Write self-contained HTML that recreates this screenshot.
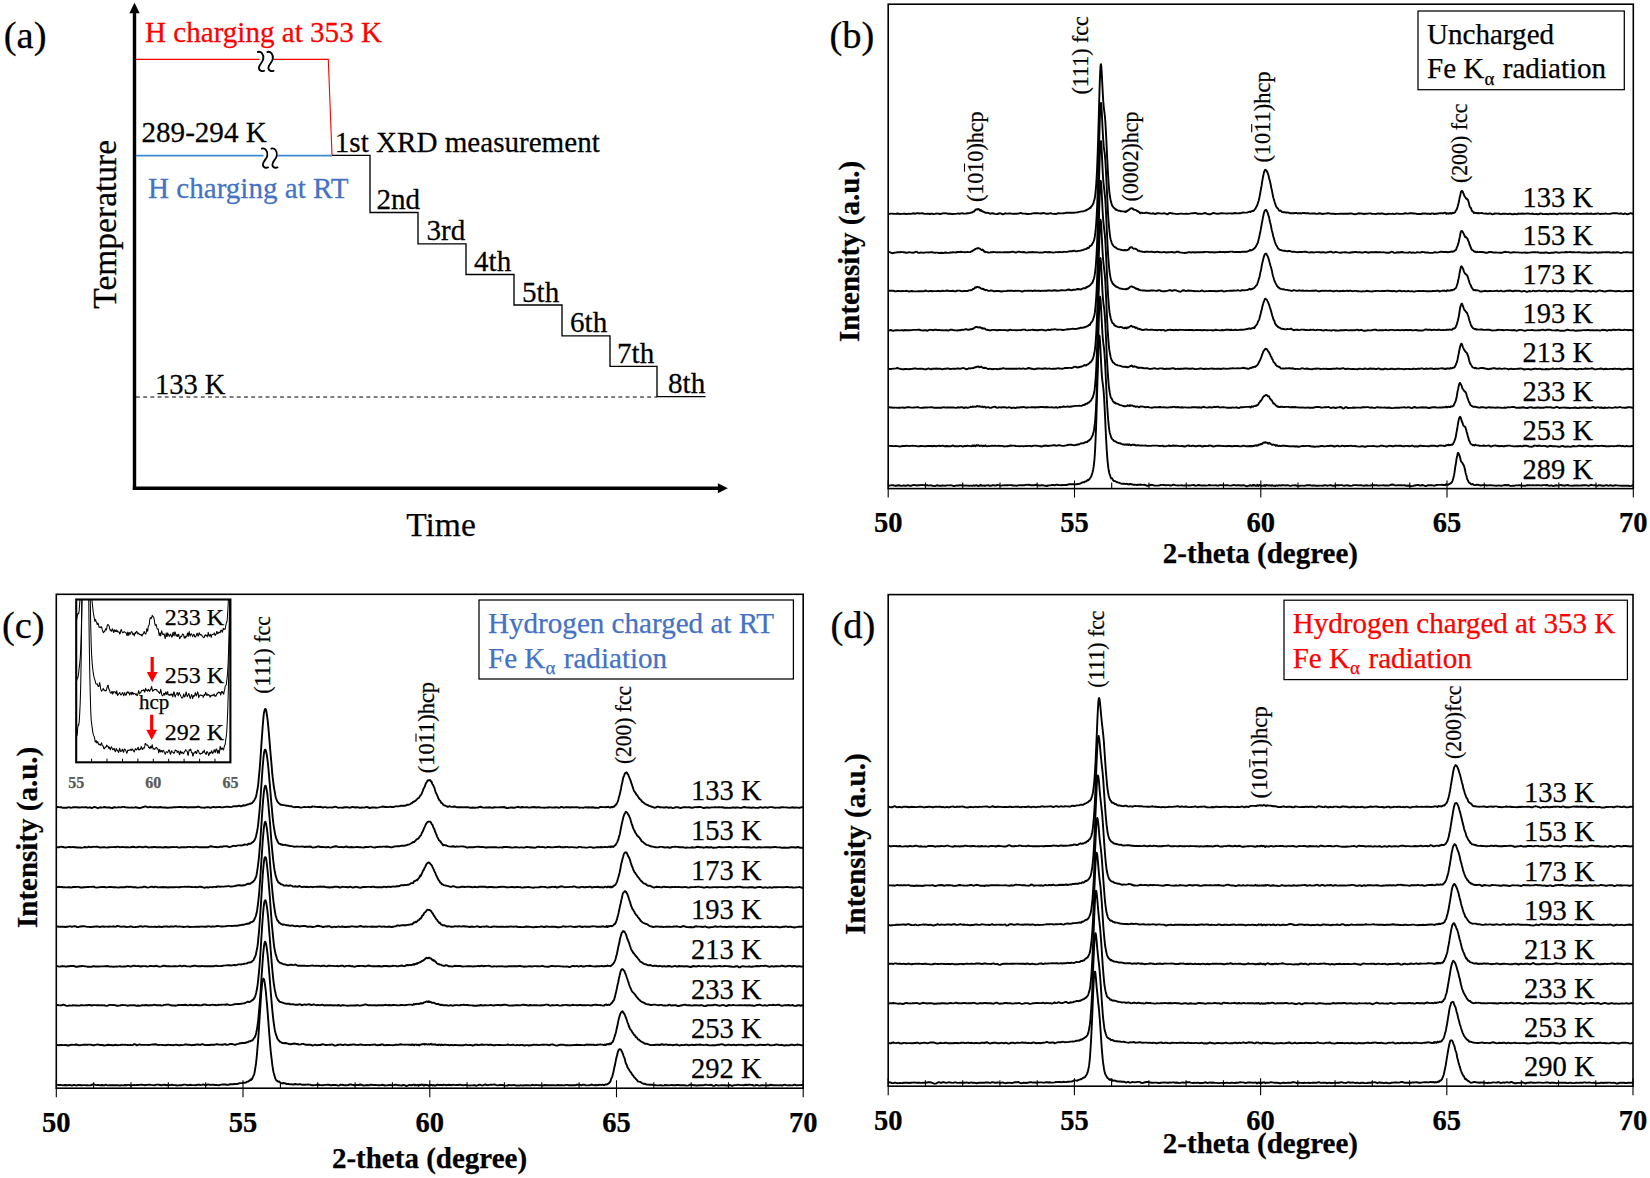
<!DOCTYPE html>
<html lang="en"><head><meta charset="utf-8"><title>XRD patterns of hydrogen charged steel</title>
<style>html,body{margin:0;padding:0;background:#fff}svg{display:block}text{font-family:"Liberation Serif",serif;stroke-width:.25px}</style></head><body>
<svg width="1650" height="1178" viewBox="0 0 1650 1178">
<rect width="1650" height="1178" fill="#fff"/>
<g id="panel-a">
<text x="3.8" y="47.5" font-size="38.5" stroke="#000">(a)</text>
<path d="M134.5 489.9V12" stroke="#000" stroke-width="3.4" fill="none"/>
<path d="M134.5 2.8l5.2 10.4h-10.4z" fill="#000"/>
<path d="M132.8 488.2H719" stroke="#000" stroke-width="3.4" fill="none"/>
<path d="M727.9 488.2l-10 5v-10z" fill="#000"/>
<path d="M136 397H657" stroke="#000" stroke-width="1.2" stroke-dasharray="3.9 3.3" fill="none"/>
<path d="M136 59.4H328.3L332 155.3" stroke="#ff0000" stroke-width="1.1" fill="none"/>
<path d="M136 155.6H332" stroke="#3d8ad2" stroke-width="1.7" fill="none"/>
<path d="M332 155.3H370V212.5H418V243.8H466V274.5H514V305H562V335.8H610V366.3H657V396.6H705.5" stroke="#000" stroke-width="1.35" fill="none"/>
<rect x="259.5" y="56.6" width="13.9" height="8" fill="#fff"/>
<path transform="translate(260.95 61.6)" d="M-3.1 -9.6C0 -10.6 3.2 -7.2 2.3 -2.4C1.6 1.2 -2.4 3.4 -2.1 6.6C-1.9 8.9 0.6 10.1 3.1 9.2" fill="none" stroke="#000" stroke-width="1.85" stroke-linecap="round"/>
<path transform="translate(270.45 61.6)" d="M-3.1 -9.6C0 -10.6 3.2 -7.2 2.3 -2.4C1.6 1.2 -2.4 3.4 -2.1 6.6C-1.9 8.9 0.6 10.1 3.1 9.2" fill="none" stroke="#000" stroke-width="1.85" stroke-linecap="round"/>
<rect x="263.5" y="153.2" width="13.9" height="8" fill="#fff"/>
<path transform="translate(264.95 158.2)" d="M-3.1 -9.6C0 -10.6 3.2 -7.2 2.3 -2.4C1.6 1.2 -2.4 3.4 -2.1 6.6C-1.9 8.9 0.6 10.1 3.1 9.2" fill="none" stroke="#000" stroke-width="1.85" stroke-linecap="round"/>
<path transform="translate(274.45 158.2)" d="M-3.1 -9.6C0 -10.6 3.2 -7.2 2.3 -2.4C1.6 1.2 -2.4 3.4 -2.1 6.6C-1.9 8.9 0.6 10.1 3.1 9.2" fill="none" stroke="#000" stroke-width="1.85" stroke-linecap="round"/>
<text transform="translate(145 41.9) scale(1 1.045)" font-size="29.1" fill="#ff0000" stroke="#ff0000">H charging at 353 K</text>
<text transform="translate(141.5 141.8) scale(1 1.045)" font-size="29.1" stroke="#000">289-294 K</text>
<text transform="translate(334.8 151.7) scale(1 1.045)" font-size="29.1" stroke="#000">1st XRD measurement</text>
<text transform="translate(148 197.6) scale(1 1.045)" font-size="29.1" fill="#4472c4" stroke="#4472c4">H charging at RT</text>
<text transform="translate(376.5 208.8) scale(1 1.045)" font-size="29.1" stroke="#000">2nd</text>
<text transform="translate(426.5 239.8) scale(1 1.045)" font-size="29.1" stroke="#000">3rd</text>
<text transform="translate(474 271.1) scale(1 1.045)" font-size="29.1" stroke="#000">4th</text>
<text transform="translate(522 301.5) scale(1 1.045)" font-size="29.1" stroke="#000">5th</text>
<text transform="translate(570 332.3) scale(1 1.045)" font-size="29.1" stroke="#000">6th</text>
<text transform="translate(617 362.8) scale(1 1.045)" font-size="29.1" stroke="#000">7th</text>
<text transform="translate(668 393.3) scale(1 1.045)" font-size="29.1" stroke="#000">8th</text>
<text transform="translate(155 393.5) scale(1 1.045)" font-size="28.5" stroke="#000">133 K</text>
<text x="441" y="535.6" font-size="33.5" stroke="#000" text-anchor="middle">Time</text>
<text transform="translate(115.6 224.3) rotate(-90)" font-size="33.5" stroke="#000" text-anchor="middle">Temperature</text>
</g>
<g id="panel-b">
<text x="829.5" y="47.5" font-size="38.5" stroke="#000">(b)</text>
<clipPath id="cb"><rect x="888.2" y="4.2" width="745.0999999999999" height="486.40000000000003"/></clipPath>
<g fill="none" stroke="#000" stroke-width="1.9" stroke-linejoin="round" clip-path="url(#cb)">
<path d="M888.2 214.3l1.3 -0.4l1.3 -0.3l1.3 0l1.3 0.2l1.3 0.1l1.3 0l1.3 -0.4l1.3 0.2l1.3 0.4l1.3 -0.2l1.3 0l1.3 -0.2l1.3 0.1l1.3 0.2l1.3 -0.1l1.3 -0.2l1.3 0.2l1.3 -0.2l1.3 -0.4l1.3 0.2l1.3 0.2l1.3 -0.5l1.3 0l1.3 0.3l1.3 -0.1l1.3 -0.2l1.3 0.3l1.3 0.4l1.3 0l1.3 -0.3l1.3 0.1l1.3 0.3l1.3 -0.2l1.3 0l1.3 0.3l1.3 -0.2l1.3 -0.4l1.3 0.1l1.3 0.2l1.3 0.2l1.3 -0.3l1.3 -0.4l1.3 0.1l1.3 -0.2l1.3 0.2l1.3 0.4l1.3 -0.1l1.3 0.1l1.3 0.3l1.3 -0.1l1.3 -0.1l1.3 0l1.3 -0.3l1.3 -0.1l1.3 0.4l1.3 -0.5l1.3 -0.1l1.3 0.3l1.3 0l1.3 -0.1l1.3 -0.2l1.3 0l1.3 -0.4l0.4 -0.1l0.4 0l0.4 -0.1l0.4 -0.3l0.4 -0.1l0.4 0l0.4 -0.5l0.4 -0.2l0.4 0l0.4 -0.1l0.4 -0.9l0.4 -0.4l0.4 0.1l0.4 -0.5l0.4 -0.5l0.4 0.1l0.4 -0.1l0.4 -0.2l0.4 0.5l0.4 -0.4l0.4 -0.2l0.4 0.2l0.4 0.2l0.4 0.7l0.4 0.6l0.4 -0.5l0.4 -0.3l0.4 0.7l0.4 0.6l0.4 0.2l0.4 -0.2l0.4 0.2l0.4 0.4l0.4 0.1l0.4 0.1l0.4 0.3l0.4 0.3l0.4 0.1l0.4 0l1.3 0.1l1.3 0.1l1.3 0.6l1.3 0.2l1.3 -0.5l1.3 0.3l1.3 0.4l1.3 0.2l1.3 -0.1l1.3 -0.5l1.3 -0.3l1.3 0.4l1.3 0.8l1.3 -0.4l1.3 -0.7l1.3 0.3l1.3 0l1.3 -0.2l1.3 0.1l1.3 0.1l1.3 0.3l1.3 -0.1l1.3 0l1.3 -0.1l1.3 -0.1l1.3 -0.3l1.3 -0.4l1.3 0.6l1.3 0.1l1.3 0l1.3 0.2l1.3 0.2l1.3 0l1.3 -0.1l1.3 -0.2l1.3 -0.3l1.3 -0.1l1.3 0l1.3 -0.1l1.3 0l1.3 0.2l1.3 0.1l1.3 0l1.3 -0.5l1.3 0.1l1.3 0.4l1.3 0.2l1.3 0.1l1.3 -0.4l1.3 -0.3l1.3 0.5l1.3 0.3l1.3 -0.1l1.3 0.3l1.3 -0.6l1.3 -0.3l1.3 0.2l1.3 0l1.3 0l1.3 -0.2l1.3 -0.1l1.3 -0.4l1.3 -0.1l1.3 0.1l1.3 0l1.3 0l1.3 0l1.3 0.1l1.3 -0.2l1.3 -0.2l1.3 -0.2l1.3 -0.3l1.3 -0.3l1.3 -0.2l1.3 -0.2l1.3 -0.3l1.3 -0.4l0.4 -0.4l0.4 -0.1l0.4 -0.1l0.4 -0.5l0.4 -0.1l0.4 -0.1l0.4 -0.2l0.4 -0.2l0.4 -0.6l0.4 -0.4l0.4 0.2l0.4 -0.2l0.4 -0.9l0.4 -0.5l0.4 -0.6l0.4 -0.2l0.4 -0.7l0.4 -1l0.4 -0.6l0.4 -1.5l0.4 -1.5l0.4 -1.3l0.4 -2.3l0.4 -3.1l0.4 -3.9l0.4 -5l0.4 -6.5l0.4 -7.9l0.4 -9.4l0.4 -11.4l0.4 -12.7l0.4 -13.9l0.4 -15l0.4 -14.3l0.4 -12.4l0.4 -9.9l0.4 -6.2l0.4 -0.9l0.4 3.5l0.4 6.4l0.4 8.1l0.4 7.7l0.4 7.2l0.4 6.1l0.4 4.2l0.4 3.3l0.4 2.9l0.4 3.8l0.4 5.3l0.4 7l0.4 7.5l0.4 8.4l0.4 8.6l0.4 7.8l0.4 7.8l0.4 7.3l0.4 5.9l0.4 5l0.4 4.3l0.4 3.2l0.4 2.3l0.4 2.2l0.4 1.9l0.4 1.3l0.4 1.3l0.4 1.3l0.4 0.4l0.4 0.4l0.4 0.8l0.4 0.4l0.4 0.4l0.4 0.2l0.4 0.2l0.4 0.8l0.4 0.3l0.4 -0.3l0.4 0.2l0.4 0.6l1.3 0.5l1.3 0l1.3 0.6l1.3 0.1l1.3 0l1.3 0.4l0.4 -0.4l0.4 0.2l0.4 0.3l0.4 -0.6l0.4 0l0.4 -0.1l0.4 -0.7l0.4 -0.3l0.4 0.1l0.4 -0.2l0.4 -0.4l0.4 -0.5l0.4 -0.3l0.4 -0.4l0.4 -0.1l0.4 0l0.4 -0.1l0.4 0.2l0.4 0l0.4 0l0.4 0.8l0.4 0.4l0.4 -0.1l0.4 0.1l0.4 0.1l0.4 0.1l0.4 0.1l0.4 0.2l0.4 0.1l0.4 0.4l0.4 0.5l0.4 -0.3l0.4 0.3l0.4 0.5l0.4 0.3l0.4 0l0.4 0.2l0.4 1.1l0.4 -0.2l1.3 -0.4l1.3 0.3l1.3 0.1l1.3 -0.3l1.3 -0.2l1.3 0.5l1.3 0.2l1.3 0.3l1.3 -0.1l1.3 -0.3l1.3 0.8l1.3 -0.2l1.3 -0.7l1.3 0.1l1.3 0.2l1.3 0.2l1.3 0l1.3 -0.3l1.3 0.1l1.3 0.6l1.3 0.3l1.3 -1.1l1.3 -0.3l1.3 0.4l1.3 0.2l1.3 0.1l1.3 0.3l1.3 0.2l1.3 -0.2l1.3 -0.1l1.3 -0.2l1.3 0l1.3 0.3l1.3 0l1.3 -0.3l1.3 0.2l1.3 0.1l1.3 -0.3l1.3 -0.2l1.3 -0.1l1.3 0l1.3 -0.4l1.3 0.3l1.3 0.7l1.3 -0.3l1.3 0.1l1.3 0.2l1.3 -0.2l1.3 -0.5l1.3 -0.2l1.3 0.6l1.3 0.4l1.3 0.2l1.3 0l1.3 -0.6l1.3 -0.7l1.3 0.3l1.3 0.4l1.3 0.1l1.3 0l1.3 -0.2l1.3 -0.3l1.3 0.1l1.3 0.1l1.3 0l1.3 0.2l1.3 -0.1l1.3 -0.1l1.3 0l1.3 0.1l1.3 0l1.3 -0.3l1.3 -0.2l1.3 0.4l1.3 0l1.3 -0.2l1.3 0.1l1.3 -0.4l1.3 -0.4l1.3 0.1l1.3 0l1.3 0l1.3 -0.5l1.3 -0.5l0.4 0.1l0.4 0.4l0.4 -0.6l0.4 -0.3l0.4 0.2l0.4 -0.2l0.4 -0.1l0.4 -0.3l0.4 0.2l0.4 -0.2l0.4 -0.6l0.4 -0.3l0.4 -0.7l0.4 -0.4l0.4 -0.5l0.4 -0.9l0.4 -0.7l0.4 -0.7l0.4 -0.8l0.4 -1.1l0.4 -1.5l0.4 -1.1l0.4 -1.2l0.4 -1.8l0.4 -1.9l0.4 -2.2l0.4 -2.3l0.4 -2.3l0.4 -2l0.4 -2.3l0.4 -2.8l0.4 -2.4l0.4 -2.3l0.4 -2l0.4 -1.9l0.4 -1.9l0.4 -1l0.4 -0.7l0.4 -0.9l0.4 0l0.4 0.9l0.4 0l0.4 0.6l0.4 1l0.4 0.6l0.4 1.2l0.4 1.1l0.4 1.8l0.4 1.9l0.4 1.2l0.4 1.6l0.4 1.7l0.4 1.9l0.4 2.4l0.4 1.7l0.4 1.7l0.4 2.2l0.4 2.1l0.4 2l0.4 1.3l0.4 1.1l0.4 1.6l0.4 1.3l0.4 1.1l0.4 1.3l0.4 1.3l0.4 0.7l0.4 0.4l0.4 0.7l0.4 0.3l0.4 0.4l0.4 0.6l0.4 0.8l0.4 0.7l0.4 -0.1l0.4 0.1l0.4 -0.3l0.4 0.3l1.3 1.3l1.3 0.1l1.3 0l1.3 0.5l1.3 -0.3l1.3 0.2l1.3 0.7l1.3 0l1.3 -0.2l1.3 0.1l1.3 -0.2l1.3 -0.1l1.3 0.6l1.3 -0.2l1.3 0l1.3 0.2l1.3 -0.6l1.3 0.1l1.3 0.2l1.3 0.1l1.3 0l1.3 0.2l1.3 0.1l1.3 -0.1l1.3 0l1.3 -0.1l1.3 0.3l1.3 0.2l1.3 -0.4l1.3 -0.2l1.3 0.3l1.3 0.4l1.3 -0.3l1.3 -0.1l1.3 -0.1l1.3 -0.3l1.3 0.1l1.3 0.3l1.3 0.2l1.3 -0.2l1.3 0.1l1.3 0.3l1.3 -0.1l1.3 0l1.3 -0.1l1.3 -0.2l1.3 0.2l1.3 0l1.3 0l1.3 -0.2l1.3 0.1l1.3 0.1l1.3 -0.3l1.3 -0.1l1.3 0.2l1.3 0.5l1.3 0.1l1.3 -0.1l1.3 -0.5l1.3 -0.3l1.3 0.2l1.3 -0.1l1.3 0.4l1.3 0.2l1.3 -0.2l1.3 0l1.3 -0.2l1.3 -0.2l1.3 0l1.3 0.3l1.3 0.2l1.3 0l1.3 0.2l1.3 -0.4l1.3 -0.3l1.3 0.3l1.3 -0.2l1.3 -0.1l1.3 0.4l1.3 0.3l1.3 0.1l1.3 -0.2l1.3 -0.3l1.3 0.2l1.3 0l1.3 -0.2l1.3 0.4l1.3 -0.2l1.3 -0.4l1.3 0.1l1.3 0.2l1.3 0.1l1.3 0l1.3 0l1.3 -0.4l1.3 -0.3l1.3 0.4l1.3 0l1.3 -0.3l1.3 -0.1l1.3 0.1l1.3 0.2l1.3 0l1.3 0.1l1.3 0.5l1.3 -0.1l1.3 -0.1l1.3 0.1l1.3 -0.5l1.3 -0.1l1.3 0.1l1.3 0.2l1.3 -0.1l1.3 0.1l1.3 0.4l1.3 -0.7l1.3 0l1.3 0.7l1.3 -0.3l1.3 -0.1l1.3 -0.2l1.3 -0.2l1.3 0l1.3 0l1.3 0l1.3 -0.7l1.3 0.4l0.4 0.9l0.4 -0.2l0.4 -0.3l0.4 0.2l0.4 -0.3l0.4 0.1l0.4 0.3l0.4 -0.4l0.4 -0.2l0.4 0.3l0.4 -0.4l0.4 0.2l0.4 0.6l0.4 -0.6l0.4 -0.1l0.4 0.2l0.4 -0.5l0.4 0.2l0.4 0l0.4 -0.4l0.4 0.1l0.4 -0.1l0.4 -0.4l0.4 -0.9l0.4 -1l0.4 -0.2l0.4 -0.7l0.4 -1.2l0.4 -1.2l0.4 -1.5l0.4 -1.6l0.4 -1.4l0.4 -1.9l0.4 -2.3l0.4 -1.8l0.4 -1.6l0.4 -1.9l0.4 -1.5l0.4 -0.5l0.4 -0.2l0.4 0.4l0.4 0.5l0.4 0.9l0.4 1.1l0.4 1l0.4 1.1l0.4 0.5l0.4 0.7l0.4 0.6l0.4 0.8l0.4 0.2l0.4 -0.1l0.4 0.9l0.4 0.1l0.4 0.3l0.4 1.2l0.4 1.4l0.4 1.9l0.4 1.3l0.4 1l0.4 0.9l0.4 0.3l0.4 0.5l0.4 1.4l0.4 1.2l0.4 0.1l0.4 0.6l0.4 0.3l0.4 0.3l0.4 0.8l0.4 -0.2l0.4 -0.4l0.4 0.4l0.4 0.1l0.4 0.1l0.4 0l0.4 0l0.4 0.3l0.4 -0.2l0.4 -0.1l1.3 0.2l1.3 -0.1l1.3 -0.1l1.3 0.4l1.3 0.2l1.3 -0.1l1.3 0.2l1.3 0.2l1.3 -0.6l1.3 0.4l1.3 0.6l1.3 -0.3l1.3 -0.5l1.3 0l1.3 0.1l1.3 -0.1l1.3 0.5l1.3 0.1l1.3 -0.3l1.3 0l1.3 0l1.3 0.1l1.3 0.2l1.3 -0.3l1.3 -0.1l1.3 0.5l1.3 0.1l1.3 -0.5l1.3 0.3l1.3 0.1l1.3 -0.7l1.3 0.2l1.3 0l1.3 -0.2l1.3 0.2l1.3 0.1l1.3 -0.2l1.3 -0.1l1.3 0l1.3 0.4l1.3 0l1.3 -0.4l1.3 0.6l1.3 0l1.3 -0.1l1.3 0.3l1.3 -0.3l1.3 -0.5l1.3 0.1l1.3 0.4l1.3 0.1l1.3 -0.1l1.3 0l1.3 0.3l1.3 -0.5l1.3 0l1.3 0.3l1.3 -0.4l1.3 -0.1l1.3 0.5l1.3 0.2l1.3 -0.7l1.3 -0.2l1.3 0.4l1.3 -0.1l1.3 -0.1l1.3 -0.2l1.3 0.3l1.3 0.1l1.3 -0.3l1.3 0.1l1.3 -0.1l1.3 0.3l1.3 0.2l1.3 -0.3l1.3 -0.2l1.3 0l1.3 0.4l1.3 0.1l1.3 -0.1l1.3 -0.1l1.3 -0.1l1.3 0.1l1.3 -0.3l1.3 0.2l1.3 0.2l1.3 -0.4l1.3 0.4l1.3 0.2l1.3 -0.3l1.3 -0.1l1.3 -0.3l1.3 0.1l1.3 0.6l1.3 -0.3l1.3 0.1l1.3 -0.1l1.3 -0.4l1.3 0.3l1.3 0.2l1.3 0l1.3 -0.1l1.3 -0.4l1.3 -0.2l1.3 0l1.3 0.1l1.3 0l1.3 0.3l1.3 0.1l1.3 -0.4l1.3 0.6l1.3 0.2l1.3 -0.7l1.3 0.4l1.3 0.5l1.3 -0.5l1.3 -0.5l1.3 0l1.3 0.5l0.7 0.1"/>
<path d="M888.2 252.1l1.3 0l1.3 0.5l1.3 0.6l1.3 -0.2l1.3 -0.4l1.3 0l1.3 -0.4l1.3 -0.1l1.3 0.2l1.3 -0.3l1.3 0.1l1.3 0.2l1.3 0.2l1.3 0.2l1.3 -0.1l1.3 -0.3l1.3 0.1l1.3 0.2l1.3 0.1l1.3 -0.2l1.3 -0.7l1.3 0.1l1.3 0.9l1.3 0.1l1.3 -0.4l1.3 0.1l1.3 0.1l1.3 -0.1l1.3 -0.2l1.3 0l1.3 0.1l1.3 -0.1l1.3 -0.3l1.3 0.2l1.3 0.3l1.3 0.1l1.3 -0.1l1.3 0l1.3 0.4l1.3 0l1.3 -0.3l1.3 0.3l1.3 -0.2l1.3 -0.3l1.3 0.2l1.3 0.2l1.3 -0.1l1.3 -0.3l1.3 0l1.3 -0.3l1.3 0.2l1.3 0.1l1.3 -0.5l1.3 0l1.3 0l1.3 -0.2l1.3 0.3l1.3 0l1.3 0.2l1.3 -0.2l1.3 -0.2l1.3 0.2l1.3 0l0.4 0l0.4 -0.4l0.4 -0.3l0.4 -0.2l0.4 0l0.4 -0.3l0.4 -0.3l0.4 -0.2l0.4 -0.3l0.4 -0.3l0.4 0l0.4 -0.3l0.4 -0.6l0.4 -0.1l0.4 -0.1l0.4 -0.1l0.4 -0.2l0.4 0.1l0.4 -0.4l0.4 -0.1l0.4 0.2l0.4 0.1l0.4 0.2l0.4 -0.1l0.4 0.3l0.4 0.6l0.4 0.3l0.4 0l0.4 0.4l0.4 0l0.4 -0.4l0.4 0.3l0.4 0.5l0.4 0.5l0.4 0.7l0.4 -0.3l0.4 0.2l0.4 0.7l0.4 -0.2l1.3 0.1l1.3 0.4l1.3 0.1l1.3 -0.5l1.3 0.1l1.3 -0.2l1.3 0.1l1.3 0.3l1.3 -0.1l1.3 0.1l1.3 -0.2l1.3 0.2l1.3 0l1.3 -0.1l1.3 -0.1l1.3 -0.1l1.3 0.2l1.3 -0.1l1.3 0l1.3 -0.4l1.3 -0.1l1.3 0.4l1.3 0.4l1.3 -0.3l1.3 -0.5l1.3 0.1l1.3 0.3l1.3 0.1l1.3 -0.2l1.3 0.3l1.3 0.3l1.3 0l1.3 -0.3l1.3 -0.2l1.3 0.2l1.3 -0.3l1.3 0.2l1.3 0.2l1.3 -0.2l1.3 0.2l1.3 0.2l1.3 -0.1l1.3 0.1l1.3 -0.1l1.3 -0.4l1.3 -0.2l1.3 0.4l1.3 -0.1l1.3 -0.2l1.3 0.2l1.3 0.2l1.3 0.2l1.3 -0.2l1.3 -0.3l1.3 0l1.3 0.1l1.3 -0.2l1.3 0.1l1.3 0.1l1.3 -0.4l1.3 0.1l1.3 0l1.3 -0.2l1.3 -0.3l1.3 -0.2l1.3 0.1l1.3 -0.3l1.3 -0.3l1.3 0.5l1.3 0.2l1.3 -0.5l1.3 0l1.3 -0.3l1.3 -0.3l1.3 -0.5l1.3 -0.5l1.3 -0.2l0.4 -0.1l0.4 -0.1l0.4 -0.5l0.4 -0.6l0.4 -0.1l0.4 0.3l0.4 0l0.4 -0.3l0.4 -0.8l0.4 -0.9l0.4 0l0.4 0l0.4 -0.4l0.4 -0.3l0.4 -0.5l0.4 -0.8l0.4 -0.8l0.4 -0.6l0.4 -0.7l0.4 -1.2l0.4 -1l0.4 -1.9l0.4 -2.7l0.4 -3.1l0.4 -4l0.4 -4.8l0.4 -6.2l0.4 -8l0.4 -9.5l0.4 -11.1l0.4 -13.2l0.4 -14.6l0.4 -13.9l0.4 -13.7l0.4 -13.4l0.4 -10.4l0.4 -6l0.4 -0.3l0.4 3.2l0.4 6.2l0.4 8.7l0.4 8.2l0.4 7.2l0.4 5.7l0.4 4.8l0.4 3.2l0.4 2.4l0.4 3.8l0.4 5.5l0.4 6.3l0.4 7.7l0.4 8.4l0.4 8.2l0.4 8.7l0.4 8.3l0.4 6.9l0.4 5.6l0.4 4.5l0.4 4l0.4 3.6l0.4 3l0.4 2.2l0.4 1.3l0.4 1.3l0.4 1.3l0.4 0.9l0.4 0.7l0.4 0.5l0.4 0.6l0.4 0.5l0.4 0.4l0.4 0.2l0.4 0.3l0.4 0.4l0.4 -0.2l0.4 0.4l0.4 0.5l0.4 0.3l1.3 0.6l1.3 0.2l1.3 0.4l1.3 0.3l1.3 0.1l1.3 -0.2l0.4 0.4l0.4 0l0.4 -0.4l0.4 0.3l0.4 0l0.4 -0.2l0.4 -0.1l0.4 -0.1l0.4 -0.4l0.4 -0.1l0.4 -0.6l0.4 -0.9l0.4 -0.2l0.4 -0.4l0.4 -0.1l0.4 0.3l0.4 -0.2l0.4 -0.2l0.4 0.5l0.4 0.5l0.4 0.4l0.4 0.3l0.4 -0.1l0.4 -0.1l0.4 0.1l0.4 0.2l0.4 -0.2l0.4 0.2l0.4 0.4l0.4 0.2l0.4 0.2l0.4 0.7l0.4 0.4l0.4 0.1l0.4 0l0.4 -0.2l0.4 0.2l0.4 0.4l0.4 0.1l1.3 0.1l1.3 0.4l1.3 0.1l1.3 -0.3l1.3 -0.1l1.3 0.1l1.3 0.2l1.3 -0.1l1.3 0l1.3 0.3l1.3 0.1l1.3 -0.3l1.3 -0.1l1.3 0.2l1.3 0.2l1.3 0.2l1.3 -0.1l1.3 -0.4l1.3 0.3l1.3 0.3l1.3 -0.2l1.3 0l1.3 -0.2l1.3 -0.1l1.3 0.2l1.3 0.3l1.3 -0.1l1.3 -0.7l1.3 -0.1l1.3 0.7l1.3 0.3l1.3 0l1.3 0.3l1.3 0.1l1.3 -0.2l1.3 -0.1l1.3 -0.5l1.3 0l1.3 0.3l1.3 -0.2l1.3 0l1.3 0.2l1.3 -0.2l1.3 -0.1l1.3 0l1.3 0.1l1.3 -0.1l1.3 0.1l1.3 -0.3l1.3 -0.1l1.3 0l1.3 0l1.3 0.4l1.3 0l1.3 -0.1l1.3 0l1.3 0.3l1.3 -0.2l1.3 -0.1l1.3 -0.1l1.3 -0.3l1.3 0.3l1.3 -0.1l1.3 0l1.3 0.3l1.3 -0.3l1.3 -0.1l1.3 0.1l1.3 -0.4l1.3 0l1.3 0.2l1.3 0.3l1.3 -0.1l1.3 0l1.3 0l1.3 0l1.3 0.2l1.3 -0.4l1.3 0l1.3 -0.1l1.3 0l1.3 0l1.3 -0.5l1.3 -0.8l0.4 -0.5l0.4 0.1l0.4 0.5l0.4 0l0.4 -0.2l0.4 -0.3l0.4 -0.3l0.4 -0.2l0.4 0l0.4 -0.6l0.4 -0.2l0.4 -0.3l0.4 -0.5l0.4 -0.4l0.4 -0.5l0.4 -0.7l0.4 -0.9l0.4 -0.7l0.4 -0.9l0.4 -0.6l0.4 -1l0.4 -2l0.4 -1.5l0.4 -1.7l0.4 -2.1l0.4 -1.7l0.4 -1.6l0.4 -2.3l0.4 -2.3l0.4 -2.3l0.4 -2.3l0.4 -1.9l0.4 -2.1l0.4 -2l0.4 -2.1l0.4 -1.5l0.4 -1.2l0.4 -1l0.4 -0.3l0.4 -0.3l0.4 -0.2l0.4 0.6l0.4 0.7l0.4 0.5l0.4 1l0.4 1.5l0.4 1.4l0.4 0.8l0.4 1.6l0.4 2.4l0.4 1.9l0.4 1.3l0.4 1.6l0.4 2l0.4 2.1l0.4 1.8l0.4 1.4l0.4 1.9l0.4 2l0.4 1.1l0.4 1.3l0.4 1.7l0.4 1.3l0.4 1.1l0.4 1.2l0.4 0.9l0.4 0.7l0.4 0.3l0.4 0.8l0.4 1.1l0.4 0.7l0.4 0.2l0.4 0l0.4 0.6l0.4 0.5l0.4 0.1l0.4 0.1l0.4 0l1.3 0.4l1.3 0.3l1.3 0.1l1.3 0.3l1.3 0.1l1.3 -0.2l1.3 0l1.3 0.6l1.3 0.2l1.3 -0.1l1.3 0.2l1.3 0.2l1.3 0.1l1.3 -0.2l1.3 -0.1l1.3 0.1l1.3 -0.1l1.3 -0.2l1.3 0.1l1.3 0.2l1.3 0.4l1.3 0.2l1.3 -0.4l1.3 -0.1l1.3 0.4l1.3 -0.1l1.3 -0.3l1.3 0l1.3 0l1.3 0.2l1.3 0.2l1.3 -0.2l1.3 -0.2l1.3 0.5l1.3 -0.1l1.3 -0.3l1.3 -0.1l1.3 -0.4l1.3 0.1l1.3 0.8l1.3 -0.1l1.3 -0.6l1.3 0.2l1.3 0.3l1.3 0.2l1.3 0.1l1.3 -0.2l1.3 -0.1l1.3 -0.3l1.3 0.2l1.3 0.3l1.3 0l1.3 0.2l1.3 -0.3l1.3 -0.2l1.3 -0.1l1.3 -0.3l1.3 0.1l1.3 0.4l1.3 -0.2l1.3 0.1l1.3 0.3l1.3 -0.1l1.3 -0.1l1.3 -0.5l1.3 0.3l1.3 0.5l1.3 -0.2l1.3 -0.2l1.3 0l1.3 0l1.3 0l1.3 -0.3l1.3 0.2l1.3 0.1l1.3 -0.2l1.3 0.2l1.3 0.1l1.3 -0.2l1.3 0.2l1.3 0.4l1.3 -0.1l1.3 0.1l1.3 -0.3l1.3 -0.8l1.3 0.2l1.3 0.8l1.3 0.2l1.3 -0.4l1.3 -0.2l1.3 0.2l1.3 -0.3l1.3 -0.2l1.3 0.2l1.3 0.4l1.3 0l1.3 0l1.3 0.1l1.3 -0.6l1.3 0.4l1.3 0.2l1.3 -0.3l1.3 0.5l1.3 -0.3l1.3 -0.5l1.3 0.3l1.3 0.2l1.3 -0.4l1.3 -0.2l1.3 0.1l1.3 0.4l1.3 0l1.3 0l1.3 0.3l1.3 0.1l1.3 0l1.3 0l1.3 -0.6l1.3 0l1.3 0.3l1.3 -0.2l1.3 -0.3l1.3 -0.3l1.3 0l1.3 0.2l1.3 0l1.3 -0.2l0.4 0.1l0.4 0.2l0.4 0.1l0.4 -0.2l0.4 0.3l0.4 -0.1l0.4 -0.1l0.4 -0.2l0.4 -0.1l0.4 0.2l0.4 0l0.4 -0.2l0.4 -0.3l0.4 0l0.4 0.1l0.4 0.2l0.4 0.1l0.4 -0.5l0.4 -0.1l0.4 0l0.4 -0.2l0.4 -0.3l0.4 -0.6l0.4 -0.1l0.4 -0.1l0.4 -1.1l0.4 -1.2l0.4 -0.8l0.4 -1l0.4 -1.3l0.4 -1.2l0.4 -1.4l0.4 -2l0.4 -1.9l0.4 -1.7l0.4 -2.1l0.4 -2.1l0.4 -0.9l0.4 -0.3l0.4 0l0.4 0.4l0.4 0.4l0.4 0.9l0.4 0.7l0.4 0.7l0.4 1.1l0.4 1l0.4 0.8l0.4 -0.5l0.4 0.5l0.4 0.7l0.4 0.2l0.4 0.5l0.4 0.5l0.4 1.1l0.4 0.9l0.4 0.8l0.4 1.4l0.4 1.4l0.4 0.8l0.4 1.2l0.4 0.8l0.4 1.1l0.4 0.9l0.4 0.3l0.4 0.5l0.4 0.2l0.4 0.1l0.4 0.4l0.4 0.5l0.4 0.4l0.4 0.1l0.4 -0.3l0.4 0.1l0.4 0.4l0.4 0.2l0.4 -0.1l0.4 -0.4l0.4 0.2l0.4 0.2l1.3 -0.1l1.3 -0.1l1.3 0.1l1.3 0.2l1.3 0.1l1.3 0.5l1.3 0l1.3 -0.5l1.3 -0.3l1.3 0l1.3 0.3l1.3 0.3l1.3 -0.1l1.3 0l1.3 0.1l1.3 0l1.3 0.2l1.3 -0.1l1.3 -0.2l1.3 -0.4l1.3 -0.3l1.3 0.3l1.3 0l1.3 0.2l1.3 0.4l1.3 -0.1l1.3 -0.3l1.3 0l1.3 0.1l1.3 0l1.3 0l1.3 0.2l1.3 0l1.3 0.1l1.3 -0.1l1.3 -0.1l1.3 0.3l1.3 0l1.3 -0.2l1.3 0l1.3 -0.2l1.3 -0.1l1.3 -0.1l1.3 0.1l1.3 0.1l1.3 -0.1l1.3 0.3l1.3 0.1l1.3 0l1.3 0l1.3 0l1.3 -0.2l1.3 -0.1l1.3 0.6l1.3 0.1l1.3 -0.3l1.3 -0.1l1.3 0l1.3 -0.3l1.3 -0.3l1.3 0.3l1.3 0.3l1.3 -0.1l1.3 -0.2l1.3 0l1.3 0l1.3 -0.2l1.3 -0.2l1.3 0.2l1.3 -0.1l1.3 -0.1l1.3 0.2l1.3 0l1.3 0.1l1.3 0.1l1.3 0l1.3 -0.1l1.3 -0.1l1.3 0.2l1.3 0.2l1.3 -0.1l1.3 0l1.3 0.1l1.3 -0.1l1.3 0.3l1.3 -0.1l1.3 -0.2l1.3 0.1l1.3 -0.1l1.3 -0.3l1.3 0.2l1.3 0.3l1.3 -0.2l1.3 0l1.3 0l1.3 -0.2l1.3 0.1l1.3 -0.2l1.3 -0.1l1.3 0.1l1.3 -0.1l1.3 0.4l1.3 0.1l1.3 -0.3l1.3 0.2l1.3 0l1.3 -0.2l1.3 0l1.3 0.4l1.3 0.2l1.3 -0.2l1.3 -0.4l1.3 0.1l1.3 -0.1l1.3 0l1.3 0.1l1.3 0.2l1.3 -0.1l1.3 -0.1l0.7 0.4"/>
<path d="M888.2 290.9l1.3 -0.3l1.3 0.1l1.3 -0.1l1.3 0.1l1.3 0.6l1.3 0.1l1.3 -0.4l1.3 -0.1l1.3 0.2l1.3 0.2l1.3 -0.3l1.3 0.1l1.3 0l1.3 -0.3l1.3 0.3l1.3 0.4l1.3 -0.2l1.3 -0.3l1.3 0.3l1.3 0.1l1.3 0l1.3 0l1.3 -0.1l1.3 -0.1l1.3 0.1l1.3 -0.1l1.3 0.1l1.3 -0.3l1.3 -0.5l1.3 0.6l1.3 0.3l1.3 -0.4l1.3 0l1.3 0.3l1.3 -0.2l1.3 0l1.3 0l1.3 -0.1l1.3 0l1.3 0.2l1.3 -0.2l1.3 -0.3l1.3 0.4l1.3 -0.2l1.3 -0.4l1.3 0.3l1.3 0.3l1.3 -0.1l1.3 0l1.3 -0.2l1.3 0.5l1.3 0l1.3 -0.6l1.3 -0.1l1.3 0l1.3 0.5l1.3 0.1l1.3 -0.2l1.3 -0.1l1.3 0.1l1.3 0.1l1.3 -0.7l1.3 -0.1l0.4 0.1l0.4 -0.2l0.4 0l0.4 -0.2l0.4 -0.2l0.4 -0.4l0.4 -0.5l0.4 0.1l0.4 0l0.4 -0.4l0.4 -0.3l0.4 -0.7l0.4 -0.4l0.4 0.5l0.4 -0.1l0.4 -0.5l0.4 -0.2l0.4 -0.1l0.4 0.2l0.4 0.1l0.4 0.2l0.4 0l0.4 0l0.4 0.3l0.4 0.3l0.4 0.1l0.4 0.5l0.4 0.2l0.4 -0.1l0.4 0l0.4 0.4l0.4 0.1l0.4 -0.3l0.4 0.2l0.4 0.6l0.4 0.1l0.4 0.3l0.4 0.3l0.4 -0.4l1.3 0.2l1.3 0.8l1.3 0l1.3 -0.5l1.3 0.3l1.3 0.5l1.3 0.1l1.3 -0.3l1.3 -0.1l1.3 0.1l1.3 0.2l1.3 0.3l1.3 -0.2l1.3 -0.2l1.3 0l1.3 -0.1l1.3 -0.2l1.3 -0.2l1.3 0.2l1.3 0l1.3 0.1l1.3 0.1l1.3 -0.2l1.3 0.1l1.3 -0.1l1.3 0.1l1.3 0.2l1.3 0.6l1.3 -0.5l1.3 -0.5l1.3 0.2l1.3 -0.2l1.3 0l1.3 0l1.3 0l1.3 0.4l1.3 -0.4l1.3 -0.2l1.3 0.4l1.3 -0.2l1.3 0l1.3 0.3l1.3 -0.2l1.3 0.1l1.3 -0.2l1.3 -0.1l1.3 0.2l1.3 -0.3l1.3 -0.1l1.3 0.2l1.3 0.1l1.3 -0.2l1.3 -0.2l1.3 0.2l1.3 0.3l1.3 -0.2l1.3 -0.1l1.3 -0.2l1.3 -0.2l1.3 0.3l1.3 0l1.3 -0.2l1.3 -0.5l1.3 -0.2l1.3 0.5l1.3 0.3l1.3 -0.5l1.3 0l1.3 -0.1l1.3 -0.4l1.3 -0.3l1.3 0.2l1.3 0.4l1.3 -0.7l1.3 -0.6l1.3 0l1.3 -0.1l0.4 -0.8l0.4 -0.5l0.4 0.4l0.4 -0.5l0.4 -0.3l0.4 0.1l0.4 -0.2l0.4 -0.4l0.4 -0.3l0.4 -0.3l0.4 -0.4l0.4 -0.2l0.4 -0.6l0.4 -0.8l0.4 -0.1l0.4 -0.2l0.4 -0.8l0.4 -1.2l0.4 -1.2l0.4 -0.8l0.4 -1.3l0.4 -2.4l0.4 -2.6l0.4 -3.1l0.4 -4.2l0.4 -5.6l0.4 -6.5l0.4 -8l0.4 -10.3l0.4 -12.1l0.4 -13.2l0.4 -14l0.4 -14.4l0.4 -14.2l0.4 -12.3l0.4 -8.8l0.4 -4.8l0.4 -0.1l0.4 4.4l0.4 7.4l0.4 8.4l0.4 8.2l0.4 7.2l0.4 5.3l0.4 3.6l0.4 3.7l0.4 3.4l0.4 3.5l0.4 5.2l0.4 6.6l0.4 8.2l0.4 8.9l0.4 8.8l0.4 8.4l0.4 7.3l0.4 6.7l0.4 5.5l0.4 4.5l0.4 3.9l0.4 3.1l0.4 2.5l0.4 2.1l0.4 1.7l0.4 1.3l0.4 0.5l0.4 0.9l0.4 1.3l0.4 0.2l0.4 0.1l0.4 0.8l0.4 0.2l0.4 0.3l0.4 0.5l0.4 0.2l0.4 0.3l0.4 0.6l0.4 -0.1l1.3 0.5l1.3 0.9l1.3 0.3l1.3 0.2l1.3 0.4l1.3 0l0.4 0.1l0.4 0.1l0.4 -0.4l0.4 0l0.4 0.3l0.4 0l0.4 -0.5l0.4 -0.2l0.4 0.2l0.4 -0.3l0.4 -0.4l0.4 -0.1l0.4 -0.5l0.4 -0.5l0.4 -0.2l0.4 -0.1l0.4 -0.1l0.4 -0.2l0.4 0.1l0.4 0.3l0.4 0.3l0.4 0.3l0.4 -0.1l0.4 0l0.4 0.4l0.4 0.3l0.4 0.1l0.4 0.5l0.4 0.3l0.4 -0.3l0.4 0.1l0.4 0.5l0.4 0.2l0.4 -0.4l0.4 0.1l0.4 0.6l0.4 0.5l0.4 -0.2l0.4 0l0.4 0.4l1.3 0.1l1.3 0.1l1.3 -0.1l1.3 0.3l1.3 0l1.3 0.1l1.3 0l1.3 -0.3l1.3 0l1.3 0l1.3 0.1l1.3 0.3l1.3 -0.1l1.3 -0.6l1.3 0.2l1.3 0.7l1.3 0.2l1.3 -0.1l1.3 0.1l1.3 -0.4l1.3 -0.2l1.3 -0.4l1.3 -0.1l1.3 0.6l1.3 -0.1l1.3 -0.5l1.3 0l1.3 0.5l1.3 0.4l1.3 0.5l1.3 0.1l1.3 -0.8l1.3 -0.7l1.3 0.3l1.3 0.6l1.3 -0.3l1.3 -0.3l1.3 0.2l1.3 0.1l1.3 0.1l1.3 0.1l1.3 0.2l1.3 -0.1l1.3 0l1.3 0.3l1.3 -0.3l1.3 -0.6l1.3 0.3l1.3 0.6l1.3 -0.1l1.3 -0.2l1.3 0l1.3 -0.1l1.3 0l1.3 -0.1l1.3 0.2l1.3 -0.1l1.3 0.2l1.3 0.1l1.3 -0.3l1.3 -0.1l1.3 -0.2l1.3 0l1.3 0.8l1.3 -0.1l1.3 -0.4l1.3 -0.1l1.3 0l1.3 -0.1l1.3 0l1.3 0l1.3 -0.3l1.3 0.1l1.3 0l1.3 -0.4l1.3 0.4l1.3 0.3l1.3 -0.8l1.3 0.1l1.3 0.2l1.3 -0.3l1.3 0l1.3 -0.4l1.3 -0.9l0.4 0.1l0.4 0.5l0.4 0.2l0.4 -0.3l0.4 -0.4l0.4 0.1l0.4 -0.2l0.4 -0.3l0.4 0l0.4 -0.4l0.4 0l0.4 -0.3l0.4 -0.7l0.4 -0.3l0.4 -0.6l0.4 -0.4l0.4 -0.3l0.4 -0.5l0.4 -0.9l0.4 -1.3l0.4 -1l0.4 -1.4l0.4 -1.5l0.4 -1l0.4 -1.5l0.4 -2l0.4 -2.2l0.4 -1.3l0.4 -1.8l0.4 -2.7l0.4 -2.1l0.4 -1.7l0.4 -1.5l0.4 -1.8l0.4 -1.6l0.4 -1.3l0.4 -1.3l0.4 -0.6l0.4 -0.6l0.4 -0.3l0.4 0.1l0.4 0.2l0.4 0.8l0.4 0.7l0.4 0.7l0.4 1l0.4 1.1l0.4 1.3l0.4 1.5l0.4 1.5l0.4 1.3l0.4 1.9l0.4 1.1l0.4 1.1l0.4 1.7l0.4 1.8l0.4 2.2l0.4 1.7l0.4 1.4l0.4 1.1l0.4 1.6l0.4 1.4l0.4 0.7l0.4 0.7l0.4 1.1l0.4 0.9l0.4 0.5l0.4 0.8l0.4 0.7l0.4 0.3l0.4 0.6l0.4 0.4l0.4 -0.1l0.4 0.5l0.4 0.5l0.4 0.2l0.4 0l0.4 0.2l1.3 0.4l1.3 0l1.3 0.4l1.3 0.3l1.3 0l1.3 0.4l1.3 0.1l1.3 0.5l1.3 -0.2l1.3 -0.6l1.3 0.3l1.3 0.5l1.3 -0.1l1.3 -0.5l1.3 0.3l1.3 0.2l1.3 -0.3l1.3 0.4l1.3 -0.1l1.3 -0.2l1.3 0.2l1.3 0.1l1.3 0l1.3 -0.2l1.3 0l1.3 0l1.3 -0.3l1.3 0.5l1.3 0.4l1.3 -0.1l1.3 -0.3l1.3 -0.2l1.3 0.2l1.3 -0.3l1.3 0.2l1.3 0.1l1.3 -0.1l1.3 -0.2l1.3 0.3l1.3 0.4l1.3 -0.1l1.3 -0.3l1.3 -0.2l1.3 0.4l1.3 0.1l1.3 -0.2l1.3 0.1l1.3 -0.3l1.3 0.3l1.3 -0.2l1.3 -0.2l1.3 0.3l1.3 -0.3l1.3 0.1l1.3 0.4l1.3 -0.1l1.3 -0.2l1.3 0l1.3 0.4l1.3 0l1.3 0.1l1.3 0.1l1.3 -0.2l1.3 0.1l1.3 -0.2l1.3 -0.4l1.3 0.2l1.3 0.2l1.3 0.2l1.3 0.1l1.3 -0.2l1.3 -0.2l1.3 -0.1l1.3 -0.1l1.3 0l1.3 0.2l1.3 0l1.3 -0.2l1.3 0.1l1.3 0l1.3 -0.1l1.3 -0.3l1.3 0.1l1.3 0.4l1.3 -0.1l1.3 0.2l1.3 -0.4l1.3 0.4l1.3 0.3l1.3 -0.4l1.3 -0.4l1.3 0.1l1.3 0.5l1.3 -0.2l1.3 -0.1l1.3 0.4l1.3 -0.1l1.3 -0.5l1.3 0.4l1.3 0.2l1.3 -0.3l1.3 0.4l1.3 0.1l1.3 -0.5l1.3 0l1.3 -0.1l1.3 0l1.3 0.1l1.3 -0.1l1.3 -0.1l1.3 0.2l1.3 0.1l1.3 0l1.3 0.1l1.3 -0.1l1.3 0l1.3 -0.2l1.3 -0.1l1.3 0.2l1.3 -0.3l1.3 -0.2l1.3 1l1.3 -0.4l1.3 -0.4l1.3 0l1.3 -0.3l1.3 0.6l0.4 0.2l0.4 -0.5l0.4 -0.5l0.4 -0.2l0.4 0.4l0.4 0.2l0.4 -0.2l0.4 0.1l0.4 0l0.4 0.1l0.4 -0.1l0.4 -0.5l0.4 0.2l0.4 -0.3l0.4 -0.1l0.4 0.4l0.4 -0.4l0.4 -0.1l0.4 -0.2l0.4 0l0.4 -0.2l0.4 -0.5l0.4 -0.2l0.4 -0.4l0.4 -0.5l0.4 -0.7l0.4 -1.3l0.4 -1.1l0.4 -1l0.4 -1.9l0.4 -2l0.4 -1.6l0.4 -2.2l0.4 -2.6l0.4 -1.8l0.4 -2l0.4 -2l0.4 -1.2l0.4 -0.1l0.4 0.5l0.4 0.5l0.4 0.8l0.4 0.8l0.4 1.2l0.4 1.5l0.4 0.7l0.4 0.7l0.4 0.6l0.4 0.3l0.4 0.5l0.4 0l0.4 0.6l0.4 0.7l0.4 0.5l0.4 1.1l0.4 1.3l0.4 1.4l0.4 1.2l0.4 1.5l0.4 1.2l0.4 0.8l0.4 0.4l0.4 0.9l0.4 1.3l0.4 0.5l0.4 0.4l0.4 0.7l0.4 0.7l0.4 0.5l0.4 0.2l0.4 -0.3l0.4 0l0.4 -0.1l0.4 0.2l0.4 0.4l0.4 -0.2l0.4 0l0.4 0.1l0.4 -0.1l1.3 0.4l1.3 0.8l1.3 0l1.3 -0.3l1.3 -0.1l1.3 -0.3l1.3 0.4l1.3 0.1l1.3 -0.4l1.3 0.1l1.3 0.1l1.3 0l1.3 0l1.3 -0.2l1.3 -0.2l1.3 0.6l1.3 -0.2l1.3 -0.4l1.3 0.5l1.3 0.2l1.3 -0.1l1.3 -0.5l1.3 -0.2l1.3 0.2l1.3 -0.3l1.3 0.4l1.3 0.5l1.3 -0.4l1.3 -0.4l1.3 0.1l1.3 0.2l1.3 -0.1l1.3 0.4l1.3 0.4l1.3 -0.5l1.3 -0.2l1.3 0.5l1.3 0.6l1.3 -0.6l1.3 -0.4l1.3 0.4l1.3 -0.3l1.3 -0.4l1.3 0.5l1.3 0l1.3 -0.3l1.3 -0.2l1.3 0l1.3 0.4l1.3 0l1.3 -0.4l1.3 0l1.3 0.6l1.3 0.2l1.3 -0.5l1.3 0l1.3 0.2l1.3 0l1.3 -0.4l1.3 0l1.3 0.3l1.3 0.1l1.3 -0.2l1.3 0l1.3 0.2l1.3 -0.5l1.3 0.3l1.3 0.2l1.3 -0.1l1.3 0l1.3 0.2l1.3 0.2l1.3 0l1.3 -0.1l1.3 -0.5l1.3 -0.5l1.3 0.4l1.3 0.1l1.3 0.1l1.3 0.2l1.3 -0.4l1.3 -0.2l1.3 0.1l1.3 0l1.3 0.2l1.3 0.3l1.3 0.3l1.3 -0.3l1.3 -0.4l1.3 0.5l1.3 0.3l1.3 -0.3l1.3 -0.6l1.3 -0.3l1.3 0.5l1.3 0.1l1.3 0.4l1.3 0.1l1.3 -0.3l1.3 -0.3l1.3 -0.2l1.3 0.1l1.3 0l1.3 0.1l1.3 0.2l1.3 0.1l1.3 0.1l1.3 -0.3l1.3 -0.1l1.3 0.3l1.3 0.2l1.3 0l1.3 -0.3l1.3 -0.1l1.3 0l1.3 0.2l1.3 -0.2l1.3 -0.1l1.3 0.1l1.1 0.2"/>
<path d="M888.2 330.8l1.3 -0.4l1.3 -0.4l1.3 0.5l1.3 0.3l1.3 -0.4l1.3 -0.2l1.3 -0.1l1.3 0.2l1.3 0.1l1.3 -0.3l1.3 0.1l1.3 0.3l1.3 -0.5l1.3 0.2l1.3 0.1l1.3 0l1.3 -0.1l1.3 -0.1l1.3 -0.2l1.3 0l1.3 0l1.3 0l1.3 -0.2l1.3 0l1.3 0.6l1.3 0.1l1.3 0.1l1.3 -0.3l1.3 0l1.3 0.6l1.3 -0.6l1.3 -0.4l1.3 0.1l1.3 0.1l1.3 0.2l1.3 -0.5l1.3 0.1l1.3 0.4l1.3 -0.3l1.3 0.2l1.3 0.1l1.3 0.1l1.3 0.1l1.3 -0.2l1.3 0.1l1.3 0.2l1.3 -0.3l1.3 -0.5l1.3 0l1.3 0.4l1.3 0.1l1.3 0.2l1.3 0.1l1.3 -0.3l1.3 0l1.3 -0.2l1.3 -0.2l1.3 0.1l1.3 -0.5l1.3 -0.2l1.3 0.5l1.3 0.1l1.3 -0.3l0.4 -0.3l0.4 -0.2l0.4 0.4l0.4 0l0.4 -0.4l0.4 0.1l0.4 -0.1l0.4 -0.6l0.4 0.1l0.4 -0.5l0.4 -0.3l0.4 -0.1l0.4 -0.5l0.4 -0.1l0.4 0l0.4 0.1l0.4 -0.1l0.4 0l0.4 0.2l0.4 0.4l0.4 -0.1l0.4 -0.1l0.4 -0.1l0.4 -0.2l0.4 0.3l0.4 0.3l0.4 0.2l0.4 -0.2l0.4 0.5l0.4 0.3l0.4 -0.4l0.4 0.6l0.4 -0.1l0.4 -0.1l0.4 0l0.4 0l0.4 0.1l0.4 0.4l0.4 0.5l1.3 0.2l1.3 0.3l1.3 0.4l1.3 -0.2l1.3 -0.3l1.3 0l1.3 0l1.3 0.3l1.3 0.1l1.3 -0.3l1.3 -0.1l1.3 0.2l1.3 0l1.3 -0.1l1.3 0.1l1.3 0.2l1.3 0.2l1.3 -0.5l1.3 -0.3l1.3 0.4l1.3 0l1.3 0l1.3 0.2l1.3 -0.1l1.3 -0.1l1.3 0l1.3 0.1l1.3 -0.4l1.3 -0.2l1.3 0l1.3 0.5l1.3 0.3l1.3 -0.3l1.3 0l1.3 -0.2l1.3 -0.2l1.3 0.3l1.3 0l1.3 0.2l1.3 0.1l1.3 -0.3l1.3 -0.1l1.3 -0.1l1.3 0.1l1.3 0.3l1.3 0.4l1.3 -0.5l1.3 -0.4l1.3 0.3l1.3 -0.2l1.3 -0.3l1.3 0.1l1.3 -0.4l1.3 0.2l1.3 0.4l1.3 -0.2l1.3 0l1.3 0l1.3 0.4l1.3 0l1.3 -0.4l1.3 -0.1l1.3 -0.2l1.3 0l1.3 -0.2l1.3 -0.2l1.3 -0.2l1.3 0.2l1.3 0.1l1.3 -0.1l1.3 -0.4l1.3 -0.2l1.3 -0.6l1.3 -0.1l1.3 0.1l1.3 -0.5l0.4 0.1l0.4 -0.2l0.4 -0.2l0.4 -0.2l0.4 -0.2l0.4 -0.2l0.4 -0.2l0.4 0.1l0.4 -0.4l0.4 -0.6l0.4 -0.2l0.4 -0.2l0.4 0.3l0.4 -0.5l0.4 -1.3l0.4 -0.4l0.4 -0.4l0.4 -0.6l0.4 -0.3l0.4 -0.7l0.4 -1l0.4 -1.2l0.4 -1l0.4 -1.3l0.4 -1.8l0.4 -2.2l0.4 -3.6l0.4 -4.5l0.4 -5.3l0.4 -6.6l0.4 -8.7l0.4 -10.2l0.4 -11l0.4 -13.2l0.4 -14.6l0.4 -14.7l0.4 -14.4l0.4 -12l0.4 -8.5l0.4 -4.4l0.4 0.6l0.4 4.7l0.4 6.7l0.4 8.2l0.4 8.1l0.4 6.7l0.4 5.4l0.4 3.8l0.4 3.6l0.4 3.3l0.4 3.7l0.4 5.3l0.4 7l0.4 8.1l0.4 8.1l0.4 8.5l0.4 8.5l0.4 7.8l0.4 6.9l0.4 5.4l0.4 4.9l0.4 4.1l0.4 2.9l0.4 2.3l0.4 1.8l0.4 1.9l0.4 1.3l0.4 0.7l0.4 1.1l0.4 1l0.4 0.1l0.4 0.1l0.4 0.7l0.4 0.8l0.4 0.8l0.4 0l0.4 -0.1l0.4 0.4l0.4 0.4l0.4 0l1.3 0.5l1.3 0.4l1.3 -0.3l1.3 0.2l1.3 0.7l1.3 0.6l0.4 -0.5l0.4 -0.4l0.4 0.4l0.4 -0.3l0.4 0.1l0.4 0.7l0.4 -0.8l0.4 -0.1l0.4 0.3l0.4 -0.1l0.4 -0.2l0.4 -0.5l0.4 -0.4l0.4 0l0.4 -0.2l0.4 -0.4l0.4 -0.3l0.4 0.1l0.4 0.4l0.4 0.4l0.4 0.2l0.4 -0.2l0.4 0l0.4 0.4l0.4 0.2l0.4 -0.2l0.4 0.4l0.4 0.6l0.4 -0.3l0.4 -0.3l0.4 0.4l0.4 0.3l0.4 0.5l0.4 0.3l0.4 -0.1l0.4 -0.1l0.4 0l0.4 0.5l0.4 0.2l0.4 -0.2l1.3 0.6l1.3 0.3l1.3 -0.4l1.3 -0.2l1.3 0l1.3 0.4l1.3 0l1.3 -0.3l1.3 0.1l1.3 0.2l1.3 0.2l1.3 -0.1l1.3 0.2l1.3 -0.3l1.3 0l1.3 0.3l1.3 -0.3l1.3 0l1.3 0.9l1.3 -0.2l1.3 -0.6l1.3 -0.1l1.3 -0.1l1.3 0.2l1.3 0l1.3 0.2l1.3 -0.4l1.3 0.2l1.3 0.2l1.3 -0.4l1.3 0.1l1.3 0l1.3 0l1.3 0.2l1.3 -0.1l1.3 0.1l1.3 -0.2l1.3 0.1l1.3 -0.1l1.3 0.1l1.3 0.4l1.3 -0.3l1.3 -0.2l1.3 0.1l1.3 0.1l1.3 -0.1l1.3 0.2l1.3 0l1.3 -0.3l1.3 0.2l1.3 0.2l1.3 -0.1l1.3 -0.1l1.3 0l1.3 0.1l1.3 0.3l1.3 -0.4l1.3 -0.3l1.3 0.2l1.3 0.1l1.3 0.3l1.3 -0.1l1.3 -0.3l1.3 0.2l1.3 -0.2l1.3 -0.4l1.3 0.1l1.3 0.1l1.3 0.2l1.3 -0.2l1.3 0.3l1.3 0l1.3 -0.4l1.3 0.3l1.3 0.1l1.3 -0.2l1.3 -0.2l1.3 0.1l1.3 -0.1l1.3 -0.1l1.3 -0.3l1.3 -0.2l1.3 -0.3l1.3 -0.3l0.4 0l0.4 0.3l0.4 0.1l0.4 -0.3l0.4 -0.1l0.4 -0.2l0.4 0l0.4 -0.3l0.4 0.1l0.4 -0.4l0.4 -0.2l0.4 0.6l0.4 -0.6l0.4 -0.8l0.4 -0.6l0.4 -0.4l0.4 -0.5l0.4 -0.5l0.4 -0.4l0.4 -1.3l0.4 -1l0.4 -0.9l0.4 -0.8l0.4 -0.7l0.4 -1.3l0.4 -1.8l0.4 -1.5l0.4 -1.3l0.4 -1.9l0.4 -1.6l0.4 -1.1l0.4 -2.3l0.4 -1.5l0.4 -1.3l0.4 -1.7l0.4 -0.6l0.4 -1.2l0.4 -1.3l0.4 -0.4l0.4 0l0.4 0.2l0.4 0.3l0.4 0.4l0.4 0.6l0.4 0.8l0.4 0.7l0.4 1l0.4 1.1l0.4 0.8l0.4 1.5l0.4 1.2l0.4 1.1l0.4 1.4l0.4 1.3l0.4 1.6l0.4 1.5l0.4 1.5l0.4 1l0.4 1.5l0.4 1.4l0.4 0.3l0.4 0.7l0.4 1.5l0.4 1.5l0.4 0.3l0.4 0.5l0.4 0.8l0.4 0.5l0.4 0.1l0.4 0.4l0.4 0.6l0.4 0.4l0.4 -0.1l0.4 0.3l0.4 0.2l0.4 -0.1l0.4 0.7l0.4 0.3l1.3 0.2l1.3 0.2l1.3 0.3l1.3 0.1l1.3 -0.4l1.3 0.1l1.3 -0.1l1.3 -0.4l1.3 1l1.3 0.6l1.3 -0.3l1.3 -0.2l1.3 0.1l1.3 0.3l1.3 -0.2l1.3 -0.3l1.3 0l1.3 0.2l1.3 0.2l1.3 0l1.3 0.1l1.3 -0.1l1.3 -0.2l1.3 0.1l1.3 -0.2l1.3 0.4l1.3 0.1l1.3 -0.4l1.3 0.1l1.3 0l1.3 0.1l1.3 0.4l1.3 0.1l1.3 -0.4l1.3 -0.2l1.3 0.5l1.3 0l1.3 -0.1l1.3 0.4l1.3 -0.6l1.3 0l1.3 0.4l1.3 -0.1l1.3 0.2l1.3 -0.1l1.3 -0.3l1.3 0.1l1.3 -0.1l1.3 0l1.3 -0.3l1.3 0.2l1.3 0.3l1.3 -0.2l1.3 0.1l1.3 -0.1l1.3 0l1.3 0l1.3 -0.3l1.3 -0.2l1.3 0.6l1.3 -0.1l1.3 -0.4l1.3 0.6l1.3 0.4l1.3 -0.1l1.3 -0.2l1.3 -0.3l1.3 0.2l1.3 0l1.3 -0.1l1.3 -0.4l1.3 -0.2l1.3 0l1.3 0.5l1.3 0.2l1.3 -0.3l1.3 0.1l1.3 0l1.3 0.1l1.3 -0.2l1.3 -0.3l1.3 0.4l1.3 0.2l1.3 -0.5l1.3 0l1.3 0l1.3 0.2l1.3 0.2l1.3 -0.2l1.3 -0.1l1.3 0.1l1.3 0.2l1.3 -0.2l1.3 -0.2l1.3 0.4l1.3 -0.3l1.3 -0.1l1.3 0.3l1.3 -0.2l1.3 -0.1l1.3 0.4l1.3 0.1l1.3 -0.3l1.3 -0.1l1.3 0.2l1.3 0.3l1.3 0l1.3 -0.1l1.3 0.2l1.3 -0.5l1.3 -0.6l1.3 -0.1l1.3 0.4l1.3 0l1.3 -0.2l1.3 0.6l1.3 -0.3l1.3 -0.2l1.3 0.2l1.3 0.2l1.3 -0.3l1.3 -0.1l1.3 0.4l1.3 0l1.3 -0.2l1.3 0.2l1.3 0l0.4 -0.3l0.4 -0.1l0.4 0.1l0.4 0l0.4 -0.1l0.4 0.1l0.4 0.1l0.4 -0.2l0.4 -0.3l0.4 0.2l0.4 0l0.4 0.1l0.4 0l0.4 -0.1l0.4 0.2l0.4 -0.1l0.4 -0.7l0.4 -0.5l0.4 0.2l0.4 0l0.4 -0.3l0.4 -0.2l0.4 -0.2l0.4 -0.2l0.4 -1.1l0.4 -1l0.4 -0.8l0.4 -1.5l0.4 -1.3l0.4 -1.4l0.4 -1.9l0.4 -1.6l0.4 -2.1l0.4 -2.6l0.4 -2.6l0.4 -2.5l0.4 -1.5l0.4 -1.1l0.4 -1l0.4 -0.2l0.4 0.4l0.4 1.4l0.4 1.1l0.4 0.7l0.4 1.3l0.4 1.1l0.4 0.6l0.4 0.3l0.4 0.6l0.4 0.7l0.4 0.3l0.4 0.3l0.4 0.5l0.4 0.9l0.4 1.2l0.4 1l0.4 1.2l0.4 1.8l0.4 1.5l0.4 1l0.4 1.2l0.4 1.4l0.4 1.2l0.4 0.5l0.4 0.7l0.4 0.8l0.4 0.4l0.4 0.6l0.4 0.1l0.4 0l0.4 0.3l0.4 0.4l0.4 0.1l0.4 -0.3l0.4 0l0.4 0.4l0.4 0.4l0.4 -0.1l0.4 -0.2l0.4 0.1l1.3 0.1l1.3 -0.1l1.3 0l1.3 0.3l1.3 0.1l1.3 0l1.3 -0.1l1.3 -0.1l1.3 0.1l1.3 0.3l1.3 0.4l1.3 -0.1l1.3 0l1.3 -0.1l1.3 -0.3l1.3 -0.2l1.3 0.1l1.3 0.1l1.3 0l1.3 0.2l1.3 -0.1l1.3 -0.2l1.3 0l1.3 0.2l1.3 0l1.3 0.2l1.3 -0.1l1.3 -0.2l1.3 0.4l1.3 0.3l1.3 -0.4l1.3 -0.4l1.3 0l1.3 0.2l1.3 0.3l1.3 0.4l1.3 -0.2l1.3 -0.5l1.3 0l1.3 0l1.3 0l1.3 -0.2l1.3 0.3l1.3 0.2l1.3 0l1.3 -0.1l1.3 -0.2l1.3 0.2l1.3 -0.4l1.3 -0.3l1.3 0.5l1.3 0.2l1.3 -0.5l1.3 -0.1l1.3 0.1l1.3 0.1l1.3 0.5l1.3 0l1.3 0l1.3 0.1l1.3 -0.5l1.3 0.3l1.3 0.4l1.3 -0.1l1.3 0.2l1.3 -0.1l1.3 -0.1l1.3 -0.5l1.3 -0.4l1.3 0.4l1.3 0.2l1.3 0.1l1.3 -0.2l1.3 0.1l1.3 0.5l1.3 -0.1l1.3 -0.2l1.3 -0.1l1.3 0.1l1.3 -0.1l1.3 -0.3l1.3 0l1.3 0.2l1.3 -0.4l1.3 0.1l1.3 0.3l1.3 -0.1l1.3 -0.1l1.3 0.1l1.3 0.2l1.3 -0.2l1.3 -0.1l1.3 0.3l1.3 0.1l1.3 -0.3l1.3 -0.4l1.3 0.2l1.3 0l1.3 0.5l1.3 0l1.3 -0.6l1.3 0.3l1.3 0l1.3 -0.5l1.3 0l1.3 0.3l1.3 -0.1l1.3 -0.1l1.3 -0.1l1.3 0.3l1.3 0.1l1.3 -0.1l1.3 -0.2l1.3 0.1l1.3 0.1l1.3 0.2l1.3 -0.3l1.3 0.2l1.3 0.1l0.8 -0.1"/>
<path d="M888.2 369l1.3 0l1.3 0l1.3 -0.1l1.3 -0.3l1.3 0l1.3 -0.2l1.3 -0.4l1.3 0.4l1.3 0.3l1.3 0.4l1.3 0.1l1.3 0l1.3 -0.2l1.3 -0.1l1.3 0.2l1.3 0.1l1.3 -0.2l1.3 -0.1l1.3 -0.2l1.3 -0.2l1.3 -0.1l1.3 0.3l1.3 0.2l1.3 -0.2l1.3 0.1l1.3 0l1.3 0.1l1.3 0.5l1.3 -0.1l1.3 -0.5l1.3 -0.4l1.3 0.5l1.3 0.4l1.3 -0.6l1.3 0.1l1.3 -0.1l1.3 -0.2l1.3 0.2l1.3 0l1.3 -0.1l1.3 0.5l1.3 0.1l1.3 -0.4l1.3 0.1l1.3 -0.4l1.3 -0.1l1.3 0.4l1.3 0.2l1.3 -0.1l1.3 -0.1l1.3 0l1.3 0.1l1.3 -0.4l1.3 -0.1l1.3 0.4l1.3 -0.2l1.3 -0.5l1.3 -0.1l1.3 0.6l1.3 0.6l1.3 -0.2l1.3 -0.7l1.3 0.1l0.4 0.2l0.4 -0.3l0.4 -0.2l0.4 0l0.4 0l0.4 0.1l0.4 0.1l0.4 -0.1l0.4 -0.3l0.4 -0.3l0.4 -0.1l0.4 -0.4l0.4 0.1l0.4 0.1l0.4 -0.2l0.4 -0.3l0.4 -0.1l0.4 0.2l0.4 -0.2l0.4 -0.2l0.4 -0.1l0.4 0.5l0.4 0.5l0.4 -0.2l0.4 -0.2l0.4 0l0.4 -0.3l0.4 -0.1l0.4 0.3l0.4 0.5l0.4 0l0.4 0.3l0.4 0.4l0.4 0l0.4 -0.3l0.4 0l0.4 0.4l0.4 -0.1l0.4 -0.4l1.3 0.8l1.3 0.6l1.3 -0.4l1.3 0.2l1.3 0.3l1.3 -0.2l1.3 -0.1l1.3 0l1.3 0.3l1.3 -0.2l1.3 -0.3l1.3 0.1l1.3 -0.5l1.3 0l1.3 0.4l1.3 0l1.3 0l1.3 0.1l1.3 0l1.3 0l1.3 -0.1l1.3 0.1l1.3 -0.1l1.3 0.1l1.3 -0.2l1.3 -0.1l1.3 0.4l1.3 -0.3l1.3 -0.2l1.3 0.5l1.3 0l1.3 -0.4l1.3 -0.5l1.3 0.2l1.3 0.6l1.3 0l1.3 0.4l1.3 -0.2l1.3 -0.3l1.3 -0.2l1.3 0l1.3 0.1l1.3 0.1l1.3 0.1l1.3 -0.3l1.3 -0.2l1.3 0.4l1.3 -0.1l1.3 -0.1l1.3 0.4l1.3 0l1.3 -0.3l1.3 0.1l1.3 0l1.3 -0.3l1.3 -0.1l1.3 0.2l1.3 0.1l1.3 0.1l1.3 -0.3l1.3 -0.4l1.3 0l1.3 0l1.3 -0.1l1.3 0l1.3 0.2l1.3 -0.5l1.3 -0.7l1.3 -0.3l1.3 0.7l1.3 0.2l1.3 -0.5l1.3 -0.3l1.3 -0.2l1.3 -0.6l1.3 -0.8l0.4 -0.1l0.4 0.3l0.4 0.3l0.4 -0.1l0.4 -0.3l0.4 -0.5l0.4 -0.1l0.4 0l0.4 -0.4l0.4 -0.2l0.4 -0.4l0.4 -0.4l0.4 -0.3l0.4 -0.5l0.4 -0.2l0.4 -0.3l0.4 -0.3l0.4 -0.9l0.4 -0.6l0.4 -0.4l0.4 -1.2l0.4 -1.2l0.4 -1.4l0.4 -1.8l0.4 -1.8l0.4 -2.6l0.4 -3.6l0.4 -4.4l0.4 -6.2l0.4 -7.5l0.4 -8.9l0.4 -10.5l0.4 -12.1l0.4 -13.8l0.4 -14.4l0.4 -14.6l0.4 -13.3l0.4 -11.3l0.4 -7.3l0.4 -2l0.4 1.7l0.4 5.7l0.4 8l0.4 8.1l0.4 7.3l0.4 6.1l0.4 4.9l0.4 3.6l0.4 3.5l0.4 3.4l0.4 3.7l0.4 5.7l0.4 7.6l0.4 8.7l0.4 8.8l0.4 8l0.4 8.3l0.4 7.4l0.4 6.2l0.4 5.1l0.4 4.6l0.4 3.7l0.4 2.3l0.4 2.1l0.4 2l0.4 1.6l0.4 1.4l0.4 0.8l0.4 0.5l0.4 1.2l0.4 0.7l0.4 -0.1l0.4 0.4l0.4 0.3l0.4 0.4l0.4 0.7l0.4 0.1l0.4 0.2l0.4 0.3l0.4 0.1l1.3 0.5l1.3 0.2l1.3 0.3l1.3 0.4l1.3 0.5l1.3 0.1l0.4 -0.1l0.4 -0.2l0.4 0.1l0.4 0.4l0.4 0.1l0.4 -0.2l0.4 0l0.4 0.3l0.4 -0.1l0.4 0l0.4 -0.1l0.4 -0.3l0.4 -0.3l0.4 -0.2l0.4 -0.2l0.4 -0.2l0.4 0.1l0.4 -0.4l0.4 -0.1l0.4 0.6l0.4 0.5l0.4 0.2l0.4 0l0.4 -0.7l0.4 0.1l0.4 0.5l0.4 -0.1l0.4 0.1l0.4 0.1l0.4 0l0.4 0.4l0.4 0.4l0.4 -0.2l0.4 -0.1l0.4 0.5l0.4 0.2l0.4 -0.1l0.4 -0.2l0.4 0l0.4 0l1.3 -0.1l1.3 0.4l1.3 0.4l1.3 -0.2l1.3 -0.1l1.3 0.3l1.3 0.6l1.3 -0.1l1.3 -0.1l1.3 -0.4l1.3 -0.1l1.3 0.3l1.3 0.3l1.3 -0.1l1.3 -0.4l1.3 0l1.3 0.1l1.3 0.3l1.3 0.2l1.3 -0.2l1.3 -0.1l1.3 0.1l1.3 -0.1l1.3 -0.3l1.3 -0.3l1.3 0.4l1.3 0.5l1.3 -0.1l1.3 -0.1l1.3 0.2l1.3 -0.2l1.3 -0.1l1.3 0.1l1.3 -0.3l1.3 -0.1l1.3 0.1l1.3 0.2l1.3 0l1.3 0l1.3 -0.3l1.3 0.2l1.3 0.5l1.3 0l1.3 -0.2l1.3 -0.1l1.3 -0.3l1.3 -0.1l1.3 0.5l1.3 0.1l1.3 -0.3l1.3 0l1.3 0.2l1.3 -0.1l1.3 -0.2l1.3 -0.2l1.3 0.3l1.3 0.1l1.3 0.1l1.3 -0.1l1.3 -0.1l1.3 0.1l1.3 0.2l1.3 -0.4l1.3 -0.2l1.3 0.2l1.3 0.1l1.3 0.2l1.3 -0.3l1.3 -0.1l1.3 -0.1l1.3 -0.2l1.3 0.2l1.3 0l1.3 0l1.3 -0.1l1.3 0.1l1.3 0l1.3 -0.3l1.3 -0.3l1.3 0.2l1.3 0.3l1.3 0.2l1.3 0.4l1.3 -0.3l0.4 -0.7l0.4 -0.1l0.4 0.3l0.4 -0.1l0.4 -0.4l0.4 -0.1l0.4 0.1l0.4 -0.3l0.4 -0.3l0.4 0.3l0.4 -0.3l0.4 -0.3l0.4 0.2l0.4 0l0.4 -0.1l0.4 -0.7l0.4 -0.2l0.4 -0.3l0.4 -0.3l0.4 -0.1l0.4 -0.9l0.4 -0.8l0.4 -0.6l0.4 -1.1l0.4 -0.7l0.4 -0.6l0.4 -1l0.4 -0.9l0.4 -0.9l0.4 -1.1l0.4 -1.3l0.4 -1.3l0.4 -0.9l0.4 -1l0.4 -1l0.4 -0.4l0.4 -0.5l0.4 -0.5l0.4 -0.5l0.4 -0.5l0.4 0.1l0.4 0.1l0.4 0.3l0.4 0.4l0.4 0.5l0.4 0.8l0.4 0.8l0.4 0.2l0.4 0.4l0.4 1l0.4 1l0.4 0.6l0.4 0.9l0.4 0.8l0.4 0.6l0.4 1.5l0.4 0.4l0.4 0.5l0.4 1.5l0.4 0.7l0.4 0.4l0.4 0.5l0.4 0.4l0.4 0.4l0.4 0.9l0.4 0.6l0.4 0.4l0.4 0.4l0.4 0.4l0.4 0l0.4 0.1l0.4 0.4l0.4 0.2l0.4 0.1l0.4 -0.2l0.4 0.4l0.4 0.6l0.4 0.5l1.3 0.2l1.3 0l1.3 0.1l1.3 -0.3l1.3 0.1l1.3 -0.1l1.3 0l1.3 0.2l1.3 -0.2l1.3 0.3l1.3 0.4l1.3 -0.1l1.3 0l1.3 0.2l1.3 -0.2l1.3 -0.5l1.3 -0.1l1.3 0.4l1.3 0.2l1.3 -0.4l1.3 0.2l1.3 0.3l1.3 0.1l1.3 0.2l1.3 -0.4l1.3 -0.2l1.3 0l1.3 -0.2l1.3 0.1l1.3 0.2l1.3 0.3l1.3 -0.2l1.3 -0.1l1.3 0.1l1.3 -0.1l1.3 0.2l1.3 0l1.3 0l1.3 0l1.3 -0.4l1.3 0.2l1.3 -0.1l1.3 -0.4l1.3 0.3l1.3 0.2l1.3 0l1.3 -0.4l1.3 -0.2l1.3 0.5l1.3 0.3l1.3 -0.2l1.3 -0.1l1.3 0.2l1.3 0.2l1.3 -0.2l1.3 0.1l1.3 0.1l1.3 0l1.3 0.2l1.3 -0.5l1.3 -0.2l1.3 0.3l1.3 0.2l1.3 -0.3l1.3 -0.3l1.3 0.4l1.3 0.2l1.3 -0.3l1.3 -0.3l1.3 0.3l1.3 0l1.3 -0.1l1.3 0.4l1.3 -0.1l1.3 -0.6l1.3 0.2l1.3 0.7l1.3 0l1.3 0l1.3 -0.6l1.3 0.1l1.3 0.4l1.3 -0.1l1.3 -0.1l1.3 -0.2l1.3 0l1.3 0.3l1.3 0.1l1.3 -0.3l1.3 -0.3l1.3 0.1l1.3 0.2l1.3 0l1.3 0.2l1.3 0.1l1.3 -0.2l1.3 -0.1l1.3 0l1.3 0.1l1.3 0.1l1.3 -0.1l1.3 -0.3l1.3 0.1l1.3 0.4l1.3 -0.4l1.3 -0.1l1.3 0.1l1.3 -0.4l1.3 0l1.3 0.6l1.3 -0.1l1.3 -0.4l1.3 0.4l1.3 -0.1l1.3 -0.4l1.3 0.1l1.3 0.3l1.3 0.2l1.3 -0.2l1.3 -0.2l1.3 0.1l1.3 -0.1l1.3 -0.2l1.3 -0.1l1.3 0.2l1.3 0.2l1.3 0.3l0.4 0.1l0.4 -0.7l0.4 -0.1l0.4 0.2l0.4 0l0.4 0l0.4 0l0.4 -0.1l0.4 0l0.4 0.4l0.4 -0.3l0.4 -0.5l0.4 0.1l0.4 0.3l0.4 -0.1l0.4 -0.1l0.4 -0.2l0.4 -0.4l0.4 0l0.4 -0.1l0.4 0l0.4 -0.2l0.4 -1.1l0.4 -0.7l0.4 -0.5l0.4 -1.4l0.4 -0.9l0.4 -1l0.4 -1.7l0.4 -1.9l0.4 -2.1l0.4 -1.9l0.4 -2.3l0.4 -2.1l0.4 -1.7l0.4 -1.8l0.4 -1.2l0.4 -0.8l0.4 -0.5l0.4 0.1l0.4 1l0.4 1.4l0.4 1.1l0.4 0.9l0.4 1l0.4 0.6l0.4 0.5l0.4 0.7l0.4 0.6l0.4 0.3l0.4 0.3l0.4 0.4l0.4 0.7l0.4 1.2l0.4 0.8l0.4 1l0.4 1.6l0.4 1.8l0.4 1.5l0.4 1.2l0.4 1.2l0.4 0.5l0.4 0.6l0.4 0.6l0.4 0.8l0.4 0.8l0.4 0.3l0.4 0.3l0.4 0.2l0.4 0.1l0.4 0.1l0.4 0.3l0.4 -0.1l0.4 -0.4l0.4 0.2l0.4 0.5l0.4 0.1l0.4 -0.2l0.4 0.1l1.3 0.2l1.3 -0.5l1.3 -0.1l1.3 0l1.3 0.2l1.3 0.3l1.3 0.2l1.3 0.5l1.3 -0.2l1.3 -0.4l1.3 0.1l1.3 -0.5l1.3 -0.1l1.3 0.4l1.3 0.2l1.3 0l1.3 -0.3l1.3 0.3l1.3 0.2l1.3 -0.3l1.3 -0.1l1.3 0.1l1.3 0.3l1.3 0.4l1.3 -0.4l1.3 -0.1l1.3 0.3l1.3 -0.2l1.3 0.2l1.3 -0.2l1.3 -0.1l1.3 0l1.3 -0.3l1.3 0.1l1.3 0.4l1.3 0.5l1.3 -0.2l1.3 -0.2l1.3 -0.2l1.3 0.2l1.3 0.4l1.3 -0.2l1.3 -0.3l1.3 -0.2l1.3 0l1.3 0.3l1.3 -0.2l1.3 -0.2l1.3 0.5l1.3 0.1l1.3 0.1l1.3 -0.1l1.3 -0.3l1.3 0.2l1.3 0.1l1.3 -0.2l1.3 -0.2l1.3 -0.4l1.3 0.4l1.3 0.2l1.3 -0.4l1.3 0.2l1.3 0l1.3 -0.4l1.3 0l1.3 0.3l1.3 0.1l1.3 0.1l1.3 0.2l1.3 -0.1l1.3 -0.2l1.3 0l1.3 -0.1l1.3 0.1l1.3 0.1l1.3 0.3l1.3 0.1l1.3 -0.5l1.3 0l1.3 0.1l1.3 0.1l1.3 -0.2l1.3 -0.4l1.3 0.2l1.3 0.1l1.3 0.1l1.3 -0.3l1.3 -0.3l1.3 0.3l1.3 0.6l1.3 0.2l1.3 -0.3l1.3 -0.2l1.3 -0.1l1.3 -0.3l1.3 0.4l1.3 0.4l1.3 -0.3l1.3 -0.2l1.3 0.2l1.3 0.1l1.3 -0.2l1.3 0l1.3 0.1l1.3 -0.2l1.3 -0.1l1.3 0.2l1.3 0.1l1.3 -0.4l1.3 0.4l1.3 0.5l1.3 -0.3l1.3 -0.2l1.3 -0.1l1.3 -0.2l1.3 -0.1l1.3 0.4l1.3 -0.1l1.3 0.1l1.2 -0.2"/>
<path d="M888.2 407.2l1.3 0.1l1.3 0.2l1.3 0l1.3 0.2l1.3 -0.1l1.3 0l1.3 0.3l1.3 -0.3l1.3 0.1l1.3 -0.1l1.3 -0.2l1.3 0.3l1.3 0l1.3 -0.3l1.3 -0.3l1.3 0.1l1.3 0.2l1.3 0.2l1.3 0l1.3 -0.1l1.3 -0.1l1.3 -0.2l1.3 0l1.3 0.4l1.3 0.3l1.3 -0.2l1.3 0l1.3 -0.2l1.3 0l1.3 0l1.3 -0.1l1.3 0l1.3 -0.2l1.3 0.1l1.3 0.4l1.3 0l1.3 -0.1l1.3 0.1l1.3 -0.1l1.3 0.1l1.3 0l1.3 -0.3l1.3 -0.1l1.3 0.3l1.3 -0.1l1.3 0l1.3 -0.1l1.3 0.1l1.3 0l1.3 -0.1l1.3 0.2l1.3 0.3l1.3 -0.3l1.3 -0.3l1.3 0.3l1.3 -0.4l1.3 0l1.3 0.8l1.3 -0.5l1.3 0l1.3 0.2l1.3 -0.1l1.3 -0.6l0.4 -0.2l0.4 0.3l0.4 0l0.4 -0.1l0.4 0l0.4 -0.5l0.4 -0.1l0.4 0.4l0.4 -0.1l0.4 0l0.4 -0.1l0.4 0.1l0.4 0.2l0.4 -0.2l0.4 -0.1l0.4 0l0.4 -0.5l0.4 -0.2l0.4 0.3l0.4 0l0.4 0.1l0.4 0.3l0.4 -0.2l0.4 -0.2l0.4 0.3l0.4 0.2l0.4 0.1l0.4 0l0.4 -0.2l0.4 0.2l0.4 -0.1l0.4 0.2l0.4 0.3l0.4 -0.4l0.4 -0.1l0.4 0.2l0.4 -0.1l0.4 0.4l0.4 0.5l1.3 -0.4l1.3 -0.1l1.3 0.5l1.3 0.2l1.3 -0.6l1.3 -0.4l1.3 -0.2l1.3 0.7l1.3 0.4l1.3 -0.5l1.3 0.1l1.3 0.1l1.3 -0.2l1.3 -0.1l1.3 0.1l1.3 0.4l1.3 -0.1l1.3 -0.4l1.3 0.4l1.3 0.4l1.3 -0.4l1.3 0.1l1.3 0.4l1.3 -0.7l1.3 0.1l1.3 0l1.3 -0.2l1.3 0l1.3 -0.4l1.3 0.3l1.3 0.5l1.3 -0.2l1.3 -0.1l1.3 0l1.3 -0.1l1.3 -0.2l1.3 0.2l1.3 0.2l1.3 -0.2l1.3 -0.1l1.3 0l1.3 -0.2l1.3 0l1.3 0l1.3 0.3l1.3 0l1.3 -0.3l1.3 0.2l1.3 0.2l1.3 0l1.3 -0.1l1.3 0.3l1.3 -0.1l1.3 -0.3l1.3 0.5l1.3 -0.3l1.3 -0.4l1.3 0.2l1.3 -0.4l1.3 -0.3l1.3 0.4l1.3 -0.2l1.3 -0.3l1.3 0.4l1.3 -0.1l1.3 -0.2l1.3 -0.2l1.3 -0.2l1.3 -0.2l1.3 0l1.3 0l1.3 -0.1l1.3 0.1l1.3 -0.2l1.3 -0.7l1.3 0l0.4 -0.2l0.4 -0.8l0.4 -0.1l0.4 -0.2l0.4 -0.1l0.4 0.3l0.4 -0.2l0.4 -0.6l0.4 -0.4l0.4 -0.1l0.4 0l0.4 -0.5l0.4 -0.6l0.4 -0.1l0.4 -0.3l0.4 -0.6l0.4 -0.5l0.4 -0.8l0.4 -0.8l0.4 -0.5l0.4 -0.9l0.4 -1.5l0.4 -1.3l0.4 -1.8l0.4 -2l0.4 -3.4l0.4 -4.5l0.4 -4.7l0.4 -6.6l0.4 -8.4l0.4 -10.1l0.4 -11.3l0.4 -12.5l0.4 -14.2l0.4 -14.9l0.4 -14.4l0.4 -12.6l0.4 -9.4l0.4 -5.1l0.4 -0.2l0.4 3.8l0.4 6.7l0.4 7.8l0.4 8.1l0.4 7.7l0.4 5.6l0.4 4.5l0.4 3.2l0.4 2.6l0.4 3.8l0.4 5.1l0.4 6.7l0.4 7.7l0.4 8.5l0.4 9.3l0.4 8.5l0.4 7.4l0.4 6.5l0.4 5.7l0.4 5.3l0.4 4l0.4 3l0.4 2.6l0.4 2.2l0.4 1.8l0.4 1.5l0.4 0.6l0.4 0.2l0.4 0.9l0.4 1l0.4 0.7l0.4 0.7l0.4 0.1l0.4 0.5l0.4 0.5l0.4 -0.4l0.4 0.4l0.4 0.6l0.4 0.1l0.4 -0.2l1.3 0.5l1.3 0.8l1.3 0.4l1.3 0.3l1.3 0.6l1.3 0.3l0.4 0.1l0.4 -0.3l0.4 0.1l0.4 0.1l0.4 -0.1l0.4 -0.1l0.4 -0.4l0.4 -0.4l0.4 0.3l0.4 0.2l0.4 0l0.4 0.2l0.4 -0.3l0.4 -0.6l0.4 0.3l0.4 0.4l0.4 -0.1l0.4 -0.1l0.4 -0.2l0.4 0.1l0.4 0.2l0.4 0.2l0.4 0.4l0.4 -0.1l0.4 -0.1l0.4 0.2l0.4 0.1l0.4 0.3l0.4 0l0.4 -0.1l0.4 0.1l0.4 -0.2l0.4 -0.1l0.4 0.3l0.4 0.3l0.4 0.2l0.4 0.2l0.4 -0.4l0.4 -0.4l0.4 -0.1l1.3 0l1.3 0.1l1.3 0.3l1.3 0.5l1.3 -0.4l1.3 0l1.3 0.4l1.3 0.2l1.3 0.1l1.3 -0.3l1.3 -0.2l1.3 0.1l1.3 0.1l1.3 -0.2l1.3 -0.2l1.3 0.3l1.3 0.1l1.3 -0.3l1.3 0.3l1.3 0.1l1.3 0.1l1.3 -0.2l1.3 -0.1l1.3 0l1.3 -0.5l1.3 0.1l1.3 0.3l1.3 0.1l1.3 -0.3l1.3 0.4l1.3 0.1l1.3 -0.3l1.3 0.3l1.3 -0.1l1.3 0l1.3 0.2l1.3 -0.1l1.3 0.1l1.3 -0.1l1.3 -0.4l1.3 0.2l1.3 0l1.3 0l1.3 0.2l1.3 -0.2l1.3 0.2l1.3 0.2l1.3 -0.7l1.3 -0.2l1.3 0.6l1.3 0.2l1.3 -0.1l1.3 -0.4l1.3 0.2l1.3 0.3l1.3 -0.4l1.3 -0.4l1.3 0.3l1.3 -0.3l1.3 0l1.3 0.7l1.3 -0.1l1.3 -0.1l1.3 0l1.3 0.1l1.3 0.2l1.3 0.2l1.3 -0.1l1.3 -0.1l1.3 0.1l1.3 -0.3l1.3 0.2l1.3 0l1.3 -0.3l1.3 0.6l1.3 0.1l1.3 -0.7l1.3 -0.1l1.3 0l1.3 -0.1l1.3 -0.2l1.3 0l1.3 0l1.3 -0.1l0.4 0.4l0.4 0l0.4 0.4l0.4 -0.6l0.4 -0.7l0.4 0.1l0.4 0.1l0.4 0.3l0.4 0l0.4 -0.4l0.4 -0.2l0.4 -0.1l0.4 0l0.4 0l0.4 -0.4l0.4 -0.1l0.4 0.2l0.4 -0.2l0.4 -0.6l0.4 -0.2l0.4 0l0.4 -0.5l0.4 -0.8l0.4 -0.8l0.4 -0.3l0.4 -0.4l0.4 -0.9l0.4 -0.2l0.4 -0.2l0.4 -0.8l0.4 -0.6l0.4 -0.6l0.4 -1.1l0.4 -0.6l0.4 -0.3l0.4 -0.6l0.4 -0.1l0.4 -0.3l0.4 -0.2l0.4 -0.1l0.4 -0.4l0.4 0l0.4 0.2l0.4 0l0.4 0.3l0.4 0.7l0.4 0.2l0.4 0l0.4 0.1l0.4 1.1l0.4 0.7l0.4 0.6l0.4 0.6l0.4 0.4l0.4 0.4l0.4 0.3l0.4 0.8l0.4 0.8l0.4 0.8l0.4 0.6l0.4 -0.2l0.4 0.2l0.4 0.7l0.4 0.2l0.4 0.4l0.4 0.7l0.4 0.1l0.4 0.1l0.4 0.6l0.4 -0.3l0.4 0.2l0.4 0.7l0.4 -0.2l0.4 0.1l0.4 0.1l0.4 0l0.4 0.1l0.4 -0.3l1.3 0l1.3 0.3l1.3 -0.1l1.3 -0.1l1.3 0l1.3 0l1.3 0.4l1.3 -0.1l1.3 -0.2l1.3 0.3l1.3 -0.3l1.3 0.3l1.3 0.1l1.3 0.1l1.3 0.1l1.3 -0.1l1.3 0l1.3 0.1l1.3 0.2l1.3 -0.2l1.3 -0.2l1.3 0.4l1.3 -0.1l1.3 0l1.3 0.1l1.3 -0.5l1.3 -0.2l1.3 -0.1l1.3 0l1.3 0.1l1.3 0.4l1.3 0.1l1.3 -0.2l1.3 -0.2l1.3 0l1.3 -0.1l1.3 -0.1l1.3 0.7l1.3 0.3l1.3 -0.6l1.3 0.1l1.3 0.5l1.3 -0.3l1.3 -0.3l1.3 -0.1l1.3 -0.3l1.3 0.5l1.3 1l1.3 -0.4l1.3 -1l1.3 0.4l1.3 0.5l1.3 -0.1l1.3 0l1.3 -0.1l1.3 -0.3l1.3 0.3l1.3 -0.2l1.3 0l1.3 0l1.3 0l1.3 0.1l1.3 -0.5l1.3 0l1.3 0.1l1.3 -0.2l1.3 0l1.3 0.3l1.3 0.3l1.3 -0.3l1.3 0.3l1.3 0.2l1.3 -0.2l1.3 -0.6l1.3 0.2l1.3 0.3l1.3 -0.2l1.3 0.2l1.3 0l1.3 -0.2l1.3 0.3l1.3 0.1l1.3 -0.3l1.3 0.2l1.3 0.4l1.3 0l1.3 -0.2l1.3 -0.3l1.3 0.2l1.3 0l1.3 -0.1l1.3 -0.1l1.3 -0.1l1.3 -0.1l1.3 -0.1l1.3 0.2l1.3 0.1l1.3 -0.4l1.3 0.1l1.3 0.6l1.3 0.2l1.3 -0.7l1.3 -0.4l1.3 0.5l1.3 0.2l1.3 -0.1l1.3 -0.1l1.3 0l1.3 -0.2l1.3 0.2l1.3 0l1.3 -0.2l1.3 0.5l1.3 0.2l1.3 -0.3l1.3 -0.2l1.3 -0.2l1.3 -0.1l1.3 0.1l1.3 0.3l1.3 0l1.3 -0.2l1.3 0.1l1.3 0l1.3 -0.2l1.3 0l0.4 0.1l0.4 -0.2l0.4 -0.1l0.4 -0.5l0.4 0.2l0.4 0.6l0.4 -0.3l0.4 -0.2l0.4 0.1l0.4 -0.2l0.4 0l0.4 0.3l0.4 0l0.4 0l0.4 -0.6l0.4 -0.2l0.4 0.2l0.4 0l0.4 0.1l0.4 -0.2l0.4 -0.5l0.4 0l0.4 -0.4l0.4 -1.3l0.4 -0.5l0.4 -1l0.4 -0.9l0.4 -0.9l0.4 -1.6l0.4 -1.7l0.4 -2.1l0.4 -2.6l0.4 -2.3l0.4 -1.7l0.4 -1.9l0.4 -1.7l0.4 -1.4l0.4 -0.9l0.4 0l0.4 0.7l0.4 0.7l0.4 0.7l0.4 0.8l0.4 1.6l0.4 1.1l0.4 0.3l0.4 0.7l0.4 0.8l0.4 0.4l0.4 0.2l0.4 0.6l0.4 0.2l0.4 0.7l0.4 0.9l0.4 1.1l0.4 1.6l0.4 1.2l0.4 1l0.4 1.2l0.4 1.3l0.4 1.2l0.4 0.5l0.4 0.4l0.4 1.2l0.4 0.9l0.4 0.3l0.4 0.4l0.4 0.3l0.4 0.1l0.4 0.2l0.4 0.4l0.4 0.1l0.4 0l0.4 -0.2l0.4 0.1l0.4 0l0.4 -0.1l0.4 0.3l0.4 0.2l1.3 0.2l1.3 0.3l1.3 -0.1l1.3 -0.2l1.3 0l1.3 0l1.3 0.4l1.3 0.1l1.3 -0.4l1.3 -0.2l1.3 0.3l1.3 0l1.3 -0.1l1.3 0.2l1.3 0.1l1.3 -0.2l1.3 -0.1l1.3 0.2l1.3 0.1l1.3 0.2l1.3 -0.1l1.3 -0.3l1.3 0.2l1.3 -0.3l1.3 -0.1l1.3 0.1l1.3 -0.3l1.3 -0.1l1.3 -0.1l1.3 0.5l1.3 0.5l1.3 -0.2l1.3 0.1l1.3 0l1.3 -0.3l1.3 -0.2l1.3 0.2l1.3 0.4l1.3 0.1l1.3 -0.3l1.3 -0.3l1.3 -0.1l1.3 0.2l1.3 0.4l1.3 -0.1l1.3 -0.1l1.3 -0.2l1.3 0l1.3 0.2l1.3 0l1.3 -0.1l1.3 0.2l1.3 -0.4l1.3 -0.3l1.3 0.1l1.3 0.2l1.3 -0.1l1.3 0.2l1.3 0.4l1.3 0l1.3 -0.5l1.3 -0.6l1.3 0.5l1.3 0.7l1.3 -0.2l1.3 -0.2l1.3 0l1.3 -0.2l1.3 0.3l1.3 0l1.3 -0.1l1.3 0.5l1.3 -0.2l1.3 0l1.3 -0.2l1.3 -0.2l1.3 0.3l1.3 0.3l1.3 0l1.3 -0.7l1.3 0.4l1.3 -0.2l1.3 -0.2l1.3 0.1l1.3 0.2l1.3 0.1l1.3 -0.1l1.3 0.1l1.3 -0.4l1.3 -0.4l1.3 0.5l1.3 0.5l1.3 -0.6l1.3 -0.1l1.3 0.4l1.3 -0.2l1.3 0.2l1.3 0.3l1.3 -0.5l1.3 0.3l1.3 0.1l1.3 -0.5l1.3 0.2l1.3 0.3l1.3 0l1.3 -0.3l1.3 -0.4l1.3 0.3l1.3 0.1l1.3 -0.5l1.3 0l1.3 0.5l1.3 0l1.3 0.1l1.3 0l1.3 -0.2l1.3 -0.2l1.3 -0.2l1.3 0.3l1.3 0.3l1.2 0"/>
<path d="M888.2 445.9l1.3 0l1.3 0l1.3 0.1l1.3 0.1l1.3 0l1.3 -0.1l1.3 0.1l1.3 0.3l1.3 0.1l1.3 -0.1l1.3 -0.4l1.3 0l1.3 0l1.3 -0.2l1.3 0.1l1.3 0.2l1.3 -0.2l1.3 0l1.3 -0.1l1.3 0.1l1.3 0l1.3 0.2l1.3 0.3l1.3 -0.2l1.3 -0.2l1.3 -0.1l1.3 0.2l1.3 0.1l1.3 0.2l1.3 -0.5l1.3 0.1l1.3 0l1.3 0l1.3 0.3l1.3 -0.5l1.3 0.2l1.3 0.2l1.3 -0.3l1.3 -0.2l1.3 0.3l1.3 -0.1l1.3 -0.2l1.3 0.5l1.3 0l1.3 -0.2l1.3 0.2l1.3 0.1l1.3 0.1l1.3 -0.6l1.3 -0.3l1.3 0.7l1.3 -0.1l1.3 0.1l1.3 0.2l1.3 -0.5l1.3 0l1.3 0.6l1.3 -0.2l1.3 -0.3l1.3 0l1.3 -0.3l1.3 0.2l1.3 0.2l0.4 0l0.4 0l0.4 0.3l0.4 -0.2l0.4 -0.8l0.4 0.3l0.4 0.3l0.4 -0.4l0.4 0.3l0.4 0.1l0.4 -0.6l0.4 0.2l0.4 0.3l0.4 0.3l0.4 -0.4l0.4 -0.7l0.4 0.3l0.4 0.1l0.4 0l0.4 0l0.4 -0.3l0.4 0.1l0.4 0.4l0.4 0.3l0.4 -0.3l0.4 0l0.4 0.2l0.4 -0.2l0.4 -0.1l0.4 0.1l0.4 0.6l0.4 0.1l0.4 -0.7l0.4 0l0.4 0.1l0.4 0.2l0.4 -0.3l0.4 -0.4l0.4 0.6l1.3 0.3l1.3 -0.1l1.3 0l1.3 -0.2l1.3 -0.1l1.3 0.1l1.3 -0.3l1.3 0.3l1.3 0l1.3 -0.1l1.3 0.2l1.3 -0.1l1.3 0l1.3 0.6l1.3 -0.1l1.3 -0.3l1.3 0.2l1.3 -0.4l1.3 -0.4l1.3 0.2l1.3 -0.1l1.3 0l1.3 0.4l1.3 0.1l1.3 0l1.3 0.2l1.3 -0.2l1.3 0l1.3 0.2l1.3 -0.2l1.3 -0.1l1.3 0.1l1.3 -0.2l1.3 0l1.3 0.3l1.3 -0.2l1.3 -0.4l1.3 0l1.3 0.1l1.3 0.2l1.3 0.2l1.3 0.2l1.3 0.2l1.3 -0.4l1.3 -0.3l1.3 -0.3l1.3 0.2l1.3 0.3l1.3 -0.2l1.3 -0.2l1.3 0l1.3 -0.4l1.3 0l1.3 0.5l1.3 -0.1l1.3 -0.3l1.3 0l1.3 0.3l1.3 0.3l1.3 0l1.3 -0.3l1.3 -0.2l1.3 -0.4l1.3 -0.2l1.3 0l1.3 -0.1l1.3 0.4l1.3 0.1l1.3 -0.2l1.3 -0.3l1.3 -0.2l1.3 -0.2l1.3 -0.8l1.3 -0.2l1.3 0.1l1.3 -0.8l0.4 -0.2l0.4 -0.3l0.4 -0.1l0.4 0.4l0.4 -0.2l0.4 -0.1l0.4 -0.1l0.4 -0.6l0.4 -0.6l0.4 0l0.4 0.1l0.4 -0.7l0.4 -0.6l0.4 0.1l0.4 -0.5l0.4 -0.6l0.4 -0.8l0.4 -0.9l0.4 -0.3l0.4 -0.9l0.4 -1.5l0.4 -1.3l0.4 -1.5l0.4 -2.2l0.4 -2.8l0.4 -3.2l0.4 -4.4l0.4 -6.1l0.4 -7.3l0.4 -8.9l0.4 -11l0.4 -12.3l0.4 -13.3l0.4 -14.3l0.4 -14.8l0.4 -13.8l0.4 -11l0.4 -7l0.4 -2.4l0.4 2.3l0.4 6.1l0.4 7.5l0.4 7.8l0.4 7.5l0.4 6.4l0.4 5.2l0.4 3.8l0.4 2.8l0.4 3.1l0.4 4.7l0.4 6l0.4 7.3l0.4 8.3l0.4 8.6l0.4 8.5l0.4 7.9l0.4 6.9l0.4 6.1l0.4 5.3l0.4 4.5l0.4 3.7l0.4 2.9l0.4 2.7l0.4 1.4l0.4 1.1l0.4 1.4l0.4 1.3l0.4 0.8l0.4 0.5l0.4 0.4l0.4 0.3l0.4 0.5l0.4 0.5l0.4 0.3l0.4 0.1l0.4 0l0.4 0.2l0.4 0.4l0.4 0.2l1.3 0.7l1.3 0.4l1.3 0.2l1.3 0.7l1.3 0.4l1.3 0.2l1.3 0.2l0.4 -0.1l0.4 -0.3l0.4 0.4l0.4 0l0.4 -0.2l0.4 -0.1l0.4 0.2l0.4 0.5l0.4 -0.4l0.4 -0.4l0.4 0.2l0.4 0.4l0.4 0.2l0.4 0.3l0.4 -0.2l0.4 -0.3l0.4 -0.1l0.4 0l0.4 -0.1l0.4 -0.1l0.4 0.3l0.4 -0.1l0.4 -0.2l0.4 0.5l0.4 0.1l0.4 0l0.4 0.3l0.4 -0.1l0.4 0l0.4 0l0.4 -0.3l0.4 0l0.4 0.2l0.4 0.1l0.4 0l0.4 0l0.4 0.2l0.4 0l1.3 -0.2l1.3 0.2l1.3 0l1.3 -0.2l1.3 0.5l1.3 0l1.3 0l1.3 0l1.3 -0.3l1.3 0l1.3 0l1.3 0l1.3 0l1.3 0.3l1.3 0.1l1.3 -0.1l1.3 -0.2l1.3 0.6l1.3 0.1l1.3 -0.3l1.3 -0.2l1.3 -0.4l1.3 0.5l1.3 -0.1l1.3 -0.4l1.3 0.2l1.3 0.1l1.3 -0.1l1.3 0.2l1.3 0.2l1.3 0l1.3 -0.1l1.3 0.2l1.3 0.3l1.3 -0.3l1.3 -0.6l1.3 -0.1l1.3 0.5l1.3 0.1l1.3 -0.3l1.3 0l1.3 0.4l1.3 0.1l1.3 -0.4l1.3 -0.1l1.3 -0.1l1.3 0.6l1.3 0.2l1.3 -0.5l1.3 0l1.3 0.1l1.3 -0.1l1.3 -0.5l1.3 0.1l1.3 0.4l1.3 0.5l1.3 -0.1l1.3 -0.5l1.3 -0.1l1.3 0l1.3 -0.1l1.3 0.2l1.3 0.2l1.3 -0.1l1.3 0.1l1.3 0.1l1.3 -0.2l1.3 0l1.3 0l1.3 0.2l1.3 0l1.3 -0.2l1.3 0l1.3 0l1.3 -0.1l1.3 0.3l1.3 0.2l1.3 -0.2l1.3 -0.5l1.3 0.1l1.3 0.4l1.3 -0.1l1.3 0.2l1.3 -0.3l0.4 -0.1l0.4 0.5l0.4 -0.1l0.4 -0.4l0.4 0.1l0.4 0.3l0.4 0l0.4 -0.3l0.4 -0.3l0.4 0.3l0.4 0.1l0.4 -0.3l0.4 -0.3l0.4 0.1l0.4 -0.2l0.4 0l0.4 0.3l0.4 -0.5l0.4 0l0.4 0.4l0.4 -0.1l0.4 -0.6l0.4 -0.3l0.4 0.3l0.4 -0.3l0.4 -0.4l0.4 0.3l0.4 -0.2l0.4 -0.5l0.4 0.1l0.4 0.2l0.4 -0.3l0.4 -0.7l0.4 -0.5l0.4 0l0.4 -0.2l0.4 0l0.4 0.4l0.4 -0.5l0.4 -0.2l0.4 0.5l0.4 0l0.4 0l0.4 0.3l0.4 0.2l0.4 0.5l0.4 0l0.4 -0.6l0.4 -0.1l0.4 0.1l0.4 0.4l0.4 0.5l0.4 0.1l0.4 0.1l0.4 0.4l0.4 0.3l0.4 0l0.4 -0.2l0.4 -0.1l0.4 0.1l0.4 0l0.4 0.4l0.4 0l0.4 -0.1l0.4 0.7l0.4 0.2l0.4 -0.6l0.4 -0.1l0.4 0.3l0.4 0.4l0.4 0l0.4 0.1l0.4 0.1l0.4 -0.3l0.4 0.1l0.4 0.1l0.4 0.2l0.4 0l1.3 -0.3l1.3 0l1.3 0l1.3 0.2l1.3 0l1.3 0.2l1.3 0.1l1.3 0.1l1.3 -0.1l1.3 0l1.3 0.2l1.3 -0.3l1.3 0.3l1.3 0.3l1.3 -0.4l1.3 -0.3l1.3 -0.1l1.3 0l1.3 0.1l1.3 -0.2l1.3 0l1.3 0.1l1.3 0.3l1.3 0.2l1.3 0l1.3 0.3l1.3 -0.2l1.3 -0.1l1.3 0l1.3 -0.2l1.3 -0.3l1.3 -0.1l1.3 0.5l1.3 0l1.3 -0.3l1.3 -0.1l1.3 0l1.3 -0.2l1.3 -0.1l1.3 0.3l1.3 0.5l1.3 -0.2l1.3 -0.5l1.3 0l1.3 0.6l1.3 -0.2l1.3 -0.4l1.3 0.1l1.3 0.3l1.3 -0.2l1.3 -0.1l1.3 0.1l1.3 -0.1l1.3 -0.1l1.3 0.2l1.3 0.1l1.3 -0.2l1.3 0.3l1.3 0.2l1.3 0.2l1.3 0l1.3 -0.4l1.3 -0.1l1.3 0.5l1.3 0.2l1.3 -0.5l1.3 -0.2l1.3 0l1.3 0l1.3 0l1.3 -0.2l1.3 0.2l1.3 0.3l1.3 0.1l1.3 -0.1l1.3 -0.2l1.3 -0.5l1.3 -0.1l1.3 0.4l1.3 0.1l1.3 0.4l1.3 0l1.3 -0.6l1.3 -0.1l1.3 0.2l1.3 0.2l1.3 0l1.3 -0.5l1.3 -0.1l1.3 0.3l1.3 -0.2l1.3 0l1.3 0.3l1.3 0.2l1.3 0l1.3 -0.3l1.3 0l1.3 0.1l1.3 0.2l1.3 -0.1l1.3 -0.6l1.3 0.6l1.3 0.6l1.3 -0.5l1.3 0.3l1.3 -0.2l1.3 -0.6l1.3 0.1l1.3 0.2l1.3 0l1.3 0.1l1.3 0l1.3 0.1l1.3 0.1l1.3 -0.5l1.3 -0.1l1.3 0l1.3 0l1.3 0.2l1.3 0.4l1.3 -0.1l1.3 -0.7l1.3 0l1.3 0.1l1.3 0.2l1.3 0.3l0.4 -0.1l0.4 -0.2l0.4 -0.5l0.4 0.1l0.4 -0.1l0.4 -0.3l0.4 0.1l0.4 0.1l0.4 -0.2l0.4 -0.4l0.4 0.5l0.4 0.2l0.4 -0.3l0.4 0.1l0.4 0l0.4 -0.3l0.4 -0.3l0.4 0.2l0.4 0.1l0.4 -0.4l0.4 -0.3l0.4 -1l0.4 -0.8l0.4 -0.5l0.4 -1.4l0.4 -1.1l0.4 -0.9l0.4 -1.8l0.4 -2.4l0.4 -2.3l0.4 -2.1l0.4 -2.5l0.4 -2.5l0.4 -2.4l0.4 -2l0.4 -1.8l0.4 -0.9l0.4 -0.6l0.4 -0.3l0.4 0.9l0.4 1l0.4 1.1l0.4 1.6l0.4 1l0.4 0.5l0.4 1.6l0.4 1.1l0.4 0.2l0.4 0.4l0.4 0.3l0.4 0.3l0.4 0.7l0.4 1l0.4 1.5l0.4 1.7l0.4 1.4l0.4 1.5l0.4 1.4l0.4 1.2l0.4 1.6l0.4 1.6l0.4 0.6l0.4 0.9l0.4 1l0.4 0.7l0.4 0.4l0.4 0.3l0.4 0.1l0.4 0.4l0.4 0.4l0.4 0l0.4 -0.2l0.4 0l0.4 0.4l0.4 0.1l0.4 -0.5l0.4 -0.4l0.4 0.5l1.3 0.3l1.3 0.1l1.3 0.2l1.3 0.2l1.3 0l1.3 -0.4l1.3 0.3l1.3 0.1l1.3 -0.3l1.3 -0.2l1.3 0.8l1.3 0.3l1.3 -0.6l1.3 -0.3l1.3 -0.2l1.3 0.4l1.3 0.2l1.3 0.2l1.3 -0.2l1.3 0l1.3 0.3l1.3 -0.1l1.3 -0.3l1.3 -0.2l1.3 -0.1l1.3 0l1.3 0.3l1.3 0.2l1.3 0.2l1.3 0.1l1.3 -0.2l1.3 0.1l1.3 -0.1l1.3 -0.3l1.3 0.3l1.3 0.2l1.3 -0.7l1.3 -0.1l1.3 0.2l1.3 0.3l1.3 0.4l1.3 0.1l1.3 0.2l1.3 -0.4l1.3 -0.8l1.3 0l1.3 0.4l1.3 -0.3l1.3 -0.2l1.3 0.6l1.3 0l1.3 -0.2l1.3 0l1.3 0.3l1.3 0.6l1.3 -0.5l1.3 -0.5l1.3 0.2l1.3 0.2l1.3 0.1l1.3 0l1.3 0.1l1.3 0.1l1.3 0.2l1.3 -0.2l1.3 -0.4l1.3 -0.1l1.3 0.5l1.3 0.2l1.3 -0.3l1.3 0.1l1.3 0.1l1.3 0.2l1.3 -0.4l1.3 -0.4l1.3 0.3l1.3 0.1l1.3 -0.2l1.3 -0.4l1.3 0l1.3 0.2l1.3 0l1.3 0.3l1.3 0.2l1.3 -0.4l1.3 -0.3l1.3 0.2l1.3 0.4l1.3 -0.1l1.3 -0.1l1.3 -0.3l1.3 -0.1l1.3 0.1l1.3 0.1l1.3 0.1l1.3 -0.2l1.3 -0.1l1.3 0.2l1.3 0l1.3 0.2l1.3 0.2l1.3 -0.3l1.3 0.1l1.3 -0.1l1.3 0l1.3 0.1l1.3 -0.1l1.3 0l1.3 -0.3l1.3 -0.2l1.3 0.2l1.3 0.4l1.3 -0.3l1.3 0.3l1.3 0.2l1.3 -0.5l1.3 0.4l1.3 0.1l1.3 -0.1l1.3 -0.4l1.3 0.1l0.2 0.5"/>
<path d="M888.2 485.8l1.3 -0.2l1.3 -0.2l1.3 -0.2l1.3 0.1l1.3 0.4l1.3 0l1.3 -0.2l1.3 -0.2l1.3 0.2l1.3 0.4l1.3 -0.2l1.3 -0.4l1.3 0.5l1.3 -0.1l1.3 -0.5l1.3 0.3l1.3 0.2l1.3 0l1.3 -0.6l1.3 -0.2l1.3 0.4l1.3 0.2l1.3 -0.2l1.3 -0.1l1.3 -0.1l1.3 -0.2l1.3 0.2l1.3 0.1l1.3 0.1l1.3 -0.1l1.3 0.4l1.3 -0.2l1.3 -0.1l1.3 0.5l1.3 0.1l1.3 0.2l1.3 -0.6l1.3 -0.2l1.3 0.4l1.3 0.1l1.3 0l1.3 -0.3l1.3 0.1l1.3 0.1l1.3 -0.3l1.3 0l1.3 0l1.3 -0.1l1.3 0.1l1.3 0.6l1.3 0l1.3 -0.4l1.3 -0.2l1.3 0.1l1.3 -0.2l1.3 0l1.3 0.3l1.3 -0.1l1.3 0.1l1.3 -0.1l1.3 0.1l1.3 0.1l1.3 0l0.4 -0.1l0.4 0l0.4 0l0.4 0.1l0.4 0l0.4 0l0.4 0.1l0.4 -0.3l0.4 -0.2l0.4 0.1l0.4 0.3l0.4 -0.2l0.4 0l0.4 0.1l0.4 -0.3l0.4 -0.2l0.4 0.3l0.4 0.2l0.4 0.2l0.4 0.3l0.4 -0.1l0.4 -0.3l0.4 0l0.4 -0.1l0.4 -0.2l0.4 -0.6l0.4 0.3l0.4 0.6l0.4 -0.1l0.4 -0.1l0.4 0.2l0.4 0.1l0.4 -0.1l0.4 -0.3l0.4 0.1l0.4 0.2l0.4 0.3l0.4 -0.3l0.4 -0.3l1.3 0l1.3 -0.2l1.3 0.6l1.3 0l1.3 -0.5l1.3 0l1.3 0.2l1.3 0l1.3 -0.5l1.3 0.1l1.3 0.5l1.3 0l1.3 -0.2l1.3 -0.1l1.3 -0.2l1.3 0.1l1.3 0l1.3 -0.1l1.3 0l1.3 0.1l1.3 0.3l1.3 0l1.3 0.1l1.3 0.1l1.3 -0.3l1.3 -0.2l1.3 0l1.3 -0.1l1.3 0.2l1.3 -0.1l1.3 -0.4l1.3 0.1l1.3 -0.1l1.3 0.2l1.3 0.2l1.3 -0.1l1.3 0.2l1.3 -0.3l1.3 -0.2l1.3 0.5l1.3 0.2l1.3 0l1.3 -0.4l1.3 0.2l1.3 0.3l1.3 0.2l1.3 0.2l1.3 -0.5l1.3 -0.1l1.3 0l1.3 -0.5l1.3 0.1l1.3 0.4l1.3 -0.6l1.3 0l1.3 0.2l1.3 0.1l1.3 0.1l1.3 -0.3l1.3 0.2l1.3 -0.2l1.3 0.1l1.3 -0.2l1.3 -0.6l1.3 -0.1l1.3 0.2l1.3 0l1.3 0l1.3 0.1l1.3 -0.2l1.3 -0.2l1.3 -0.1l1.3 -0.5l1.3 -0.7l1.3 -0.5l0.4 0.1l0.4 0l0.4 -0.5l0.4 -0.2l0.4 0l0.4 0l0.4 -0.2l0.4 -0.5l0.4 0l0.4 -0.5l0.4 -0.4l0.4 0.3l0.4 -0.2l0.4 -0.3l0.4 -0.5l0.4 -0.5l0.4 -0.5l0.4 -0.7l0.4 -0.6l0.4 -0.4l0.4 -1.3l0.4 -1.3l0.4 -1.3l0.4 -1.5l0.4 -1.8l0.4 -2.5l0.4 -3.1l0.4 -3.9l0.4 -5.2l0.4 -7.1l0.4 -8.7l0.4 -9.8l0.4 -11.8l0.4 -13.4l0.4 -14.5l0.4 -14.5l0.4 -13.7l0.4 -12.5l0.4 -9.1l0.4 -4.2l0.4 1l0.4 4.7l0.4 6.9l0.4 8.2l0.4 8.3l0.4 7.1l0.4 5.4l0.4 3.9l0.4 3l0.4 3.1l0.4 4.1l0.4 5.4l0.4 6.6l0.4 7.8l0.4 8.7l0.4 8.9l0.4 8.2l0.4 7.2l0.4 6.9l0.4 6.1l0.4 4.4l0.4 3.5l0.4 3.6l0.4 2.4l0.4 1.9l0.4 1.4l0.4 1l0.4 1.4l0.4 1.1l0.4 0.8l0.4 -0.1l0.4 0l0.4 0.6l0.4 0.9l0.4 0.6l0.4 0.4l0.4 0.3l0.4 -0.1l0.4 0l0.4 0.2l1.3 0.8l1.3 0.4l1.3 0.3l1.3 0.6l1.3 0.4l1.3 0.1l1.3 0l0.4 0l0.4 0.1l0.4 0.2l0.4 -0.2l0.4 -0.1l0.4 0l0.4 0.1l0.4 0.1l0.4 0.3l0.4 0l0.4 -0.1l0.4 0.3l0.4 -0.2l0.4 -0.5l0.4 0.3l0.4 0.1l0.4 -0.2l0.4 0.3l0.4 0.2l0.4 0l0.4 -0.1l0.4 0.2l0.4 0.2l0.4 0.2l0.4 -0.2l0.4 -0.3l0.4 0.2l0.4 0.1l0.4 0.1l0.4 -0.1l0.4 0.3l0.4 0l0.4 -0.3l0.4 0.1l0.4 -0.2l0.4 0.1l0.4 -0.2l0.4 0.1l0.4 0.1l0.4 -0.3l1.3 0.4l1.3 0l1.3 -0.1l1.3 0.3l1.3 0.6l1.3 0l1.3 -0.4l1.3 -0.3l1.3 -0.2l1.3 0.4l1.3 0.3l1.3 0.1l1.3 0l1.3 0l1.3 -0.3l1.3 -0.4l1.3 0l1.3 0.1l1.3 0.2l1.3 0l1.3 -0.1l1.3 0l1.3 0.4l1.3 0l1.3 -0.7l1.3 0l1.3 0.4l1.3 0.2l1.3 0.1l1.3 -0.1l1.3 0l1.3 -0.1l1.3 0.3l1.3 -0.1l1.3 -0.1l1.3 0l1.3 0.1l1.3 0l1.3 -0.1l1.3 -0.3l1.3 -0.1l1.3 0.5l1.3 0.2l1.3 -0.4l1.3 -0.3l1.3 0.3l1.3 0.2l1.3 0l1.3 0l1.3 -0.1l1.3 0.2l1.3 -0.2l1.3 -0.4l1.3 0.3l1.3 0.1l1.3 0l1.3 0l1.3 -0.3l1.3 0.4l1.3 0.2l1.3 -0.6l1.3 0l1.3 0.2l1.3 0l1.3 0.1l1.3 -0.2l1.3 -0.1l1.3 0.3l1.3 0.2l1.3 0l1.3 -0.3l1.3 -0.4l1.3 0.4l1.3 0.2l1.3 -0.4l1.3 0.2l1.3 0.2l1.3 0l1.3 -0.2l1.3 0l1.3 0.5l1.3 0.5l1.3 -0.4l1.3 -0.4l0.4 -0.3l0.4 -0.1l0.4 0.5l0.4 -0.1l0.4 0.2l0.4 0.2l0.4 -0.2l0.4 -0.6l0.4 -0.3l0.4 0.7l0.4 0l0.4 -0.5l0.4 0l0.4 0.6l0.4 0.3l0.4 -0.2l0.4 -0.1l0.4 0.2l0.4 -0.6l0.4 -0.5l0.4 0.9l0.4 0.4l0.4 -0.3l0.4 -0.3l0.4 -0.4l0.4 0l0.4 0.3l0.4 -0.1l0.4 0.3l0.4 0.4l0.4 -0.3l0.4 0l0.4 0l0.4 -0.1l0.4 -0.1l0.4 0.4l0.4 -0.2l0.4 -0.5l0.4 0.5l0.4 0.2l0.4 -0.5l0.4 -0.3l0.4 0.3l0.4 0l0.4 -0.1l0.4 0.1l0.4 0.1l0.4 0.2l0.4 -0.3l0.4 0l0.4 0.3l0.4 -0.1l0.4 0l0.4 0.3l0.4 -0.2l0.4 -0.3l0.4 0.3l0.4 -0.3l0.4 0.4l0.4 0l0.4 -0.1l0.4 0.3l0.4 -0.3l0.4 0.1l0.4 0.4l0.4 -0.4l0.4 -0.2l0.4 -0.1l0.4 0l0.4 0.3l0.4 0.1l0.4 -0.1l0.4 -0.3l0.4 -0.2l0.4 0l0.4 0l0.4 0.3l0.4 0l1.3 -0.3l1.3 -0.1l1.3 0.3l1.3 0.1l1.3 -0.4l1.3 0.3l1.3 0.5l1.3 -0.2l1.3 -0.3l1.3 0l1.3 -0.1l1.3 0.2l1.3 0.4l1.3 0l1.3 -0.2l1.3 -0.1l1.3 0l1.3 0.3l1.3 -0.3l1.3 -0.3l1.3 0l1.3 -0.2l1.3 0.2l1.3 0.4l1.3 -0.2l1.3 0l1.3 0.3l1.3 -0.1l1.3 0.1l1.3 -0.2l1.3 0l1.3 0.1l1.3 -0.2l1.3 -0.2l1.3 0.1l1.3 0.3l1.3 -0.3l1.3 -0.2l1.3 0.1l1.3 0.5l1.3 0l1.3 -0.3l1.3 -0.2l1.3 -0.2l1.3 0.1l1.3 -0.1l1.3 0l1.3 0.5l1.3 0.1l1.3 -0.3l1.3 -0.1l1.3 0.2l1.3 0.2l1.3 0.2l1.3 -0.3l1.3 -0.5l1.3 0l1.3 0l1.3 0.1l1.3 0.2l1.3 -0.2l1.3 0.1l1.3 0.3l1.3 0.2l1.3 -0.3l1.3 -0.2l1.3 0.2l1.3 0.1l1.3 -0.1l1.3 -0.4l1.3 0.2l1.3 0l1.3 -0.1l1.3 0.1l1.3 0.3l1.3 -0.1l1.3 -0.1l1.3 0l1.3 -0.1l1.3 0.2l1.3 0l1.3 -0.1l1.3 0.2l1.3 -0.5l1.3 -0.3l1.3 -0.3l1.3 0.4l1.3 0.6l1.3 -0.1l1.3 -0.2l1.3 0.1l1.3 0l1.3 0l1.3 0.1l1.3 -0.1l1.3 0.2l1.3 0.4l1.3 -0.4l1.3 0.2l1.3 0.6l1.3 -0.2l1.3 -0.2l1.3 -0.4l1.3 -0.3l1.3 -0.2l1.3 0l1.3 0.5l1.3 0l1.3 -0.5l1.3 0.4l1.3 0.6l1.3 0l1.3 -0.7l1.3 -0.1l1.3 0.1l1.3 -0.2l1.3 0.3l1.3 0.3l1.3 -0.3l1.3 -0.4l1.3 -0.1l1.3 0l1.3 0l1.3 -0.2l1.3 0.3l0.4 0.1l0.4 -0.2l0.4 0l0.4 0.1l0.4 0.2l0.4 -0.4l0.4 -0.6l0.4 0.2l0.4 0.4l0.4 0.1l0.4 0l0.4 0l0.4 -0.2l0.4 -0.5l0.4 -0.1l0.4 -0.1l0.4 -0.5l0.4 0l0.4 -0.3l0.4 -0.2l0.4 -0.6l0.4 -0.4l0.4 -1l0.4 -1.3l0.4 -1.1l0.4 -1.5l0.4 -1.9l0.4 -2.2l0.4 -2.9l0.4 -3l0.4 -1.8l0.4 -2.7l0.4 -3l0.4 -2.3l0.4 -1.6l0.4 -1.8l0.4 -1.1l0.4 0.2l0.4 0.8l0.4 1.1l0.4 1.1l0.4 1.3l0.4 1.8l0.4 1.6l0.4 1l0.4 0.4l0.4 0.3l0.4 0.6l0.4 0.8l0.4 0.7l0.4 0.6l0.4 0.8l0.4 1.4l0.4 1.7l0.4 1.8l0.4 2.1l0.4 1.6l0.4 1l0.4 1.9l0.4 1.7l0.4 0.8l0.4 0.9l0.4 0.7l0.4 0.7l0.4 0.6l0.4 0.1l0.4 0.2l0.4 0.5l0.4 0.4l0.4 0.2l0.4 0.2l0.4 -0.3l0.4 -0.2l0.4 0.3l0.4 0.3l0.4 0.1l0.4 0.4l1.3 0.1l1.3 -0.3l1.3 -0.1l1.3 0.4l1.3 0.4l1.3 -0.3l1.3 -0.1l1.3 0l1.3 0.1l1.3 0.3l1.3 -0.1l1.3 -0.3l1.3 0.1l1.3 0.2l1.3 0.1l1.3 0.1l1.3 0.1l1.3 -0.1l1.3 -0.1l1.3 0.1l1.3 0.1l1.3 -0.1l1.3 -0.4l1.3 -0.2l1.3 0.2l1.3 -0.2l1.3 0.3l1.3 0.7l1.3 -0.1l1.3 -0.1l1.3 0l1.3 -0.4l1.3 0l1.3 -0.1l1.3 -0.2l1.3 0.4l1.3 0.1l1.3 0.1l1.3 0l1.3 -0.2l1.3 -0.3l1.3 0l1.3 0.1l1.3 0.1l1.3 -0.3l1.3 0.2l1.3 0.1l1.3 -0.2l1.3 0l1.3 0l1.3 0.2l1.3 0.1l1.3 -0.4l1.3 0l1.3 0.1l1.3 -0.2l1.3 0.4l1.3 0.5l1.3 -0.5l1.3 0.1l1.3 0.6l1.3 -0.5l1.3 -0.3l1.3 0.2l1.3 0.1l1.3 -0.5l1.3 -0.1l1.3 0.5l1.3 0l1.3 0.2l1.3 -0.5l1.3 -0.2l1.3 0.5l1.3 0.1l1.3 0.2l1.3 0l1.3 -0.3l1.3 0l1.3 0l1.3 0l1.3 0.1l1.3 -0.2l1.3 0.1l1.3 -0.3l1.3 -0.1l1.3 0.1l1.3 0.2l1.3 0.5l1.3 -0.4l1.3 -0.7l1.3 0.3l1.3 0.3l1.3 -0.2l1.3 0.5l1.3 0.1l1.3 -0.6l1.3 0l1.3 0.3l1.3 0.3l1.3 0l1.3 -0.5l1.3 -0.1l1.3 0.5l1.3 -0.2l1.3 -0.3l1.3 0.5l1.3 0.1l1.3 -0.3l1.3 -0.2l1.3 0.1l1.3 0.2l1.3 0l1.3 0.1l1.3 0l1.3 0.1l1.3 0l1.3 -0.1l1.3 -0.1l1.3 0.2l1.3 0.3l1.3 -0.2l1.3 -0.5l0.7 -0.1"/>
</g>
<rect x="888.2" y="4.2" width="745.0999999999999" height="484.40000000000003" fill="none" stroke="#000" stroke-width="1.6"/>
<path d="M888.2 480.6V497.6M925.5 482.6V488.6M962.7 482.6V488.6M1000.0 482.6V488.6M1037.2 482.6V488.6M1074.5 480.6V497.6M1111.7 482.6V488.6M1149.0 482.6V488.6M1186.2 482.6V488.6M1223.5 482.6V488.6M1260.8 480.6V497.6M1298.0 482.6V488.6M1335.3 482.6V488.6M1372.5 482.6V488.6M1409.8 482.6V488.6M1447.0 480.6V497.6M1484.3 482.6V488.6M1521.5 482.6V488.6M1558.8 482.6V488.6M1596.0 482.6V488.6M1633.3 480.6V497.6" stroke="#000" stroke-width="1.1" fill="none"/>
<text x="888.2" y="531.8" font-size="28.5" stroke="#000" font-weight="bold" text-anchor="middle">50</text>
<text x="1074.5" y="531.8" font-size="28.5" stroke="#000" font-weight="bold" text-anchor="middle">55</text>
<text x="1260.8" y="531.8" font-size="28.5" stroke="#000" font-weight="bold" text-anchor="middle">60</text>
<text x="1447.0" y="531.8" font-size="28.5" stroke="#000" font-weight="bold" text-anchor="middle">65</text>
<text x="1633.3" y="531.8" font-size="28.5" stroke="#000" font-weight="bold" text-anchor="middle">70</text>
<text x="1260.4" y="563.0" font-size="29" stroke="#000" font-weight="bold" text-anchor="middle">2-theta (degree)</text>
<text transform="translate(859 251.4) rotate(-90)" font-size="29" stroke="#000" font-weight="bold" text-anchor="middle">Intensity (a.u.)</text>
<text x="1593" y="206.5" font-size="28.5" stroke="#000" text-anchor="end">133 K</text>
<text x="1593" y="245.3" font-size="28.5" stroke="#000" text-anchor="end">153 K</text>
<text x="1593" y="284.3" font-size="28.5" stroke="#000" text-anchor="end">173 K</text>
<text x="1593" y="323.3" font-size="28.5" stroke="#000" text-anchor="end">193 K</text>
<text x="1593" y="362" font-size="28.5" stroke="#000" text-anchor="end">213 K</text>
<text x="1593" y="400.8" font-size="28.5" stroke="#000" text-anchor="end">233 K</text>
<text x="1593" y="439.6" font-size="28.5" stroke="#000" text-anchor="end">253 K</text>
<text x="1593" y="478.6" font-size="28.5" stroke="#000" text-anchor="end">289 K</text>
<rect x="1418" y="11" width="206.29999999999995" height="78.7" fill="#fff" stroke="#000" stroke-width="1.25"/>
<text x="1427.0" y="43.8" font-size="29.1" stroke="#000">Uncharged</text>
<text x="1427.0" y="78.3" font-size="29.1" stroke="#000">Fe K<tspan font-size="18.9" dy="6.6">α</tspan><tspan dy="-6.6" dx="1.2"> radiation</tspan></text>
<text transform="translate(1087.6 94.5) rotate(-90)" font-size="22.7" stroke="#000" textLength="78.3" lengthAdjust="spacingAndGlyphs">(111) fcc</text>
<text transform="translate(982.6 202.1) rotate(-90)" font-size="22.7" stroke="#000" textLength="90.7" lengthAdjust="spacingAndGlyphs">(1010)hcp</text>
<path d="M964.5 163.4V171.8M1251.7 123.9V132.3" stroke="#000" stroke-width="1.1"/>
<text transform="translate(1137.5 201.4) rotate(-90)" font-size="22.7" stroke="#000" textLength="89.8" lengthAdjust="spacingAndGlyphs">(0002)hcp</text>
<text transform="translate(1269.9 162.6) rotate(-90)" font-size="22.7" stroke="#000" textLength="91.2" lengthAdjust="spacingAndGlyphs">(1011)hcp</text>
<text transform="translate(1466.7 183.1) rotate(-90)" font-size="22.7" stroke="#000" textLength="79.5" lengthAdjust="spacingAndGlyphs">(200) fcc</text>
</g>
<g id="panel-c">
<text x="1.9" y="638.1" font-size="38.5" stroke="#000">(c)</text>
<clipPath id="cc"><rect x="56.3" y="594.3" width="746.9000000000001" height="495.9000000000001"/></clipPath>
<g fill="none" stroke="#000" stroke-width="1.9" stroke-linejoin="round" clip-path="url(#cc)">
<path d="M56.3 807.5l1.3 -0.5l1.3 0.1l1.3 0.1l1.3 0.1l1.3 0.5l1.3 -0.1l1.3 0.1l1.3 -0.1l1.3 -0.3l1.3 -0.1l1.3 0.4l1.3 -0.1l1.3 -0.3l1.3 0l1.3 -0.1l1.3 0.1l1.3 0.2l1.3 0l1.3 -0.1l1.3 -0.1l1.3 0.1l1.3 -0.2l1.3 0l1.3 0.5l1.3 -0.1l1.3 -0.3l1.3 0.7l1.3 -0.2l1.3 -0.8l1.3 0.1l1.3 0.6l1.3 0.5l1.3 -0.6l1.3 -0.3l1.3 0.3l1.3 -0.2l1.3 -0.4l1.3 0.3l1.3 0.2l1.3 -0.1l1.3 0.1l1.3 0.3l1.3 0.2l1.3 -0.5l1.3 -0.3l1.3 0.4l1.3 -0.2l1.3 -0.3l1.3 0.3l1.3 -0.2l1.3 -0.3l1.3 0l1.3 0.3l1.3 0.2l1.3 0.1l1.3 0.1l1.3 0l1.3 -0.1l1.3 0.1l1.3 0l1.3 -0.4l1.3 0.3l1.3 0.3l1.3 0.2l1.3 -0.2l1.3 -0.5l1.3 -0.2l1.3 -0.6l1.3 0l1.3 0.8l1.3 0.1l1.3 -0.6l1.3 0.3l1.3 0.3l1.3 -0.2l1.3 0.1l1.3 0l1.3 0.2l1.3 -0.3l1.3 -0.2l1.3 0.3l1.3 0.2l1.3 -0.1l1.3 0.1l1.3 0.3l1.3 0l1.3 -0.2l1.3 -0.2l1.3 0.2l1.3 -0.4l1.3 -0.1l1.3 0.1l1.3 -0.1l1.3 -0.1l1.3 0l1.3 0l1.3 0.3l1.3 0l1.3 -0.4l1.3 0.3l1.3 0.3l1.3 -0.2l1.3 0l1.3 -0.1l1.3 0.1l1.3 0l1.3 -0.1l1.3 -0.2l1.3 -0.3l1.3 0.2l1.3 0.6l1.3 0.1l1.3 0l1.3 0.1l1.3 -0.3l1.3 -0.2l1.3 -0.1l1.3 0.4l1.3 0.2l1.3 -0.5l1.3 -0.3l1.3 0.4l1.3 -0.1l1.3 -0.1l1.3 -0.1l1.3 0l1.3 0.4l1.3 0l1.3 -0.3l1.3 -0.2l1.3 -0.1l1.3 0l1.3 0.1l1.3 0.2l1.3 -0.2l1.3 -0.5l1.3 -0.3l1.3 0.2l1.3 0l1.3 -0.5l1.3 0l1.3 0.6l1.3 -0.6l1.3 -0.6l1.3 0.3l1.3 -0.4l1.3 -0.7l0.4 0l0.4 0.1l0.4 -0.2l0.4 -0.1l0.4 -0.4l0.4 -0.2l0.4 0.3l0.4 -0.3l0.4 -0.2l0.4 -0.1l0.4 0l0.4 -0.4l0.4 -0.5l0.4 -0.5l0.4 -0.6l0.4 -0.2l0.4 -0.7l0.4 -0.7l0.4 -0.8l0.4 -0.9l0.4 -0.9l0.4 -1.2l0.4 -2l0.4 -2.3l0.4 -1.8l0.4 -2.5l0.4 -3l0.4 -4.1l0.4 -4.3l0.4 -4.1l0.4 -4.5l0.4 -5.3l0.4 -5.6l0.4 -5.7l0.4 -6.1l0.4 -5.9l0.4 -5.4l0.4 -5.6l0.4 -5l0.4 -4.8l0.4 -4l0.4 -2l0.4 -1.7l0.4 -1.1l0.4 -0.2l0.4 0.3l0.4 1.3l0.4 2.6l0.4 2.4l0.4 2.6l0.4 3.6l0.4 3.9l0.4 4.5l0.4 4.6l0.4 4.7l0.4 5l0.4 5.2l0.4 4.6l0.4 4.5l0.4 4.5l0.4 4.7l0.4 4.9l0.4 3.9l0.4 3.1l0.4 3.4l0.4 3.1l0.4 2.5l0.4 2.2l0.4 2.2l0.4 2.5l0.4 1.8l0.4 1.2l0.4 1l0.4 0.9l0.4 0.9l0.4 0.6l0.4 0.4l0.4 0.4l0.4 0.6l0.4 0.2l0.4 0.2l0.4 0.6l0.4 0.2l0.4 0.2l0.4 -0.1l0.4 -0.1l0.4 0.1l0.4 0.2l1.3 0.1l1.3 0.3l1.3 0.3l1.3 0l1.3 0.4l1.3 0.1l1.3 0.1l1.3 0.5l1.3 0.4l1.3 -0.2l1.3 -0.1l1.3 0.1l1.3 0.3l1.3 0.3l1.3 -0.2l1.3 -0.3l1.3 -0.2l1.3 0.2l1.3 0l1.3 -0.1l1.3 0.2l1.3 -0.2l1.3 -0.5l1.3 0.1l1.3 0.1l1.3 0.2l1.3 0.1l1.3 0l1.3 -0.2l1.3 0.3l1.3 0.5l1.3 -0.5l1.3 0l1.3 0.4l1.3 0.1l1.3 -0.2l1.3 0l1.3 0.1l1.3 -0.3l1.3 -0.4l1.3 0.1l1.3 0.5l1.3 0.3l1.3 -0.1l1.3 0l1.3 0.2l1.3 -0.3l1.3 -0.3l1.3 -0.1l1.3 0.1l1.3 0.4l1.3 0.1l1.3 -0.5l1.3 -0.3l1.3 0.3l1.3 0.3l1.3 -0.3l1.3 0.1l1.3 0.4l1.3 0l1.3 -0.2l1.3 0.1l1.3 -0.1l1.3 -0.4l1.3 -0.1l1.3 0.5l1.3 0.5l1.3 -0.3l1.3 -0.3l1.3 0.1l1.3 0l1.3 0.2l1.3 -0.1l1.3 -0.2l1.3 -0.3l1.3 -0.2l1.3 -0.4l1.3 0.2l1.3 0.3l1.3 0l1.3 0.1l1.3 -0.2l1.3 -0.1l1.3 0.2l1.3 0l1.3 -0.3l1.3 -0.4l1.3 0.1l1.3 0l1.3 -0.3l1.3 -0.3l1.3 -0.1l1.3 -0.1l1.3 0.1l1.3 -0.3l1.3 -0.8l1.3 0.1l1.3 -0.4l1.3 -1l1.3 -0.7l0.4 -0.5l0.4 -0.3l0.4 0.1l0.4 -0.3l0.4 -0.4l0.4 -0.1l0.4 -0.1l0.4 -0.6l0.4 -0.3l0.4 -0.4l0.4 -0.5l0.4 -0.4l0.4 -0.6l0.4 0l0.4 -0.2l0.4 -0.4l0.4 -0.6l0.4 -0.7l0.4 -0.6l0.4 -0.5l0.4 -0.4l0.4 -0.6l0.4 -0.8l0.4 -1.2l0.4 -0.9l0.4 -1l0.4 -1.3l0.4 -0.7l0.4 -0.6l0.4 -0.9l0.4 -0.8l0.4 -1.3l0.4 -1.2l0.4 -0.6l0.4 -0.6l0.4 -0.6l0.4 -0.8l0.4 -0.6l0.4 0l0.4 0.2l0.4 -0.4l0.4 0l0.4 0.3l0.4 -0.3l0.4 0.7l0.4 0.5l0.4 0.1l0.4 1l0.4 1.2l0.4 0.7l0.4 0.5l0.4 0.7l0.4 1.1l0.4 0.8l0.4 0.8l0.4 1.7l0.4 1.4l0.4 1.1l0.4 1l0.4 0.6l0.4 1l0.4 0.8l0.4 0.9l0.4 1.5l0.4 0.5l0.4 0.7l0.4 0.9l0.4 0.4l0.4 0.2l0.4 0.6l0.4 1.1l0.4 0.1l0.4 0.2l0.4 0.6l0.4 0.1l0.4 0.7l0.4 0.6l0.4 0l0.4 0.4l1.3 0.4l1.3 0.8l1.3 0.4l1.3 -0.7l1.3 0.4l1.3 0.3l1.3 -0.2l1.3 -0.2l1.3 0.4l1.3 0.3l1.3 0l1.3 0.1l1.3 -0.2l1.3 0.1l1.3 0.2l1.3 -0.1l1.3 -0.1l1.3 0l1.3 0.2l1.3 0.4l1.3 -0.1l1.3 -0.2l1.3 0.2l1.3 0l1.3 -0.1l1.3 -0.1l1.3 -0.5l1.3 -0.3l1.3 0.6l1.3 0.3l1.3 0l1.3 -0.1l1.3 0l1.3 0l1.3 -0.2l1.3 0.3l1.3 0.2l1.3 -0.3l1.3 -0.2l1.3 0.1l1.3 0l1.3 0l1.3 -0.2l1.3 0.1l1.3 0l1.3 -0.3l1.3 0.5l1.3 0.5l1.3 0.1l1.3 -0.3l1.3 -0.4l1.3 0.1l1.3 0.3l1.3 -0.1l1.3 -0.3l1.3 -0.3l1.3 -0.3l1.3 0.6l1.3 0.1l1.3 -0.5l1.3 0.3l1.3 0.1l1.3 -0.2l1.3 0.1l1.3 0.3l1.3 0l1.3 -0.3l1.3 0l1.3 -0.3l1.3 0.2l1.3 0.3l1.3 -0.4l1.3 0.1l1.3 0.3l1.3 0.1l1.3 0l1.3 0.2l1.3 -0.2l1.3 -0.2l1.3 0.1l1.3 -0.3l1.3 0.2l1.3 0.2l1.3 -0.2l1.3 0.1l1.3 -0.2l1.3 0.1l1.3 0.4l1.3 -0.2l1.3 -0.7l1.3 0.3l1.3 0.5l1.3 -0.4l1.3 -0.1l1.3 -0.1l1.3 0.1l1.3 0.3l1.3 -0.2l1.3 0l1.3 0.1l1.3 -0.1l1.3 0l1.3 0.1l1.3 0.3l1.3 -0.1l1.3 0l1.3 0.2l1.3 -0.4l1.3 -0.1l1.3 0.2l1.3 -0.2l1.3 0.2l1.3 0l1.3 -0.3l1.3 0.3l1.3 0.3l1.3 -0.2l1.3 0.3l1.3 -0.2l1.3 -0.8l1.3 0.1l1.3 0.1l1.3 0l1.3 0.1l1.3 -0.2l0.4 0.1l0.4 0l0.4 -0.4l0.4 0l0.4 0.5l0.4 0.1l0.4 0.1l0.4 0.2l0.4 0l0.4 -0.4l0.4 -0.3l0.4 0l0.4 0.4l0.4 0.1l0.4 -0.2l0.4 -0.5l0.4 -0.2l0.4 0.2l0.4 -0.1l0.4 -0.6l0.4 -0.7l0.4 -0.1l0.4 -0.3l0.4 -0.7l0.4 -0.6l0.4 -0.7l0.4 -0.8l0.4 -1.1l0.4 -1.3l0.4 -1.6l0.4 -1.5l0.4 -1.3l0.4 -1.6l0.4 -1.7l0.4 -1.8l0.4 -2l0.4 -2.5l0.4 -1.8l0.4 -1.6l0.4 -2l0.4 -2l0.4 -1.3l0.4 -0.9l0.4 -1.1l0.4 -1.1l0.4 -0.8l0.4 -0.1l0.4 -0.1l0.4 -0.4l0.4 -0.1l0.4 0.6l0.4 0.9l0.4 0.4l0.4 0.5l0.4 1.2l0.4 1l0.4 1l0.4 1l0.4 0.8l0.4 1.1l0.4 1.3l0.4 1.5l0.4 0.9l0.4 1.2l0.4 1.4l0.4 1l0.4 1.3l0.4 1.2l0.4 0.6l0.4 0.6l0.4 0.4l0.4 0.6l0.4 0.7l0.4 0.9l0.4 0.4l0.4 0.2l0.4 0.6l0.4 0.7l0.4 0.7l0.4 0.7l0.4 0.2l0.4 0.7l0.4 0.7l0.4 0l0.4 0.2l0.4 0.6l0.4 0.6l0.4 0.7l0.4 0.3l0.4 0.2l1.3 1l1.3 1l1.3 0.6l1.3 0.6l1.3 0.7l1.3 0.3l1.3 0.6l1.3 0.3l1.3 0.6l1.3 -0.1l1.3 -0.8l1.3 -0.1l1.3 0.6l1.3 0l1.3 0.1l1.3 0.1l1.3 0l1.3 -0.2l1.3 0l1.3 0.5l1.3 -0.3l1.3 0l1.3 0.6l1.3 -0.2l1.3 -0.6l1.3 -0.1l1.3 0.1l1.3 0.3l1.3 0.4l1.3 -0.3l1.3 -0.4l1.3 -0.1l1.3 -0.1l1.3 0.3l1.3 -0.2l1.3 0l1.3 0.5l1.3 0.1l1.3 -0.2l1.3 -0.5l1.3 0l1.3 0.1l1.3 -0.2l1.3 0l1.3 0.1l1.3 0.5l1.3 0.4l1.3 -0.2l1.3 -0.4l1.3 0.1l1.3 0.2l1.3 -0.1l1.3 -0.2l1.3 0l1.3 -0.1l1.3 -0.2l1.3 0.3l1.3 -0.2l1.3 0l1.3 0.2l1.3 -0.1l1.3 0.2l1.3 0.3l1.3 -0.1l1.3 0l1.3 0.2l1.3 -0.1l1.3 0.1l1.3 -0.4l1.3 -0.1l1.3 0.4l1.3 -0.3l1.3 -0.1l1.3 0.2l1.3 0.3l1.3 -0.1l1.3 -0.4l1.3 -0.4l1.3 0.2l1.3 0.4l1.3 -0.1l1.3 0l1.3 0.3l1.3 -0.1l1.3 -0.3l1.3 0.2l1.3 0.3l1.3 0l1.3 -0.1l1.3 -0.5l1.3 0l1.3 0.4l1.3 -0.1l1.3 -0.3l1.3 0.1l1.3 0.3l1.3 -0.3l1.3 -0.3l1.3 0l1.3 0.2l1.3 0.3l1.3 0.2l1.3 -0.2l1.3 0l1.3 0.1l1.3 -0.2l1.3 -0.2l1.3 0l1.3 0.1l1.3 0l1.3 0.1l1.3 0.1l1.3 0.1l1.3 -0.1l1.3 -0.3l1.3 0.2l1.3 0.2l1.3 -0.3l1.3 0.2l1.3 0.2l1.3 -0.1l1.3 -0.4l1.3 -0.2l0.6 0.6"/>
<path d="M56.3 847.3l1.3 0l1.3 -0.1l1.3 -0.3l1.3 -0.1l1.3 0.2l1.3 0.3l1.3 0.2l1.3 -0.1l1.3 -0.3l1.3 -0.1l1.3 0.2l1.3 -0.1l1.3 -0.1l1.3 0.2l1.3 0l1.3 0.3l1.3 0l1.3 -0.1l1.3 0.3l1.3 -0.1l1.3 -0.2l1.3 -0.4l1.3 0.3l1.3 0.1l1.3 -0.7l1.3 0.4l1.3 0.1l1.3 -0.4l1.3 0.1l1.3 0l1.3 -0.3l1.3 0.3l1.3 0.5l1.3 0.1l1.3 -0.1l1.3 -0.2l1.3 -0.1l1.3 0.3l1.3 0.2l1.3 -0.3l1.3 -0.1l1.3 -0.1l1.3 0l1.3 0l1.3 -0.1l1.3 0.2l1.3 -0.5l1.3 0.2l1.3 0.4l1.3 -0.2l1.3 -0.1l1.3 0.1l1.3 0.1l1.3 0.1l1.3 0l1.3 0.1l1.3 0l1.3 -0.4l1.3 -0.3l1.3 0.3l1.3 0.4l1.3 -0.1l1.3 -0.3l1.3 -0.2l1.3 0.1l1.3 0.3l1.3 0l1.3 -0.4l1.3 0l1.3 0.3l1.3 0.4l1.3 -0.1l1.3 -0.1l1.3 0l1.3 -0.3l1.3 0l1.3 0.2l1.3 0.1l1.3 0l1.3 0l1.3 0.1l1.3 0.1l1.3 -0.3l1.3 -0.2l1.3 0.2l1.3 0.3l1.3 -0.2l1.3 -0.1l1.3 -0.1l1.3 -0.1l1.3 0.1l1.3 0l1.3 -0.1l1.3 0.6l1.3 -0.1l1.3 -0.4l1.3 0.2l1.3 -0.2l1.3 0.1l1.3 0.2l1.3 -0.5l1.3 0l1.3 0.1l1.3 0.1l1.3 0.1l1.3 0l1.3 -0.3l1.3 -0.2l1.3 0.4l1.3 0.2l1.3 -0.1l1.3 0l1.3 0.1l1.3 -0.1l1.3 -0.1l1.3 0.1l1.3 0l1.3 -0.7l1.3 -0.3l1.3 0.3l1.3 0.4l1.3 0.1l1.3 0l1.3 0.2l1.3 -0.1l1.3 -0.4l1.3 0.1l1.3 -0.1l1.3 -0.5l1.3 0.2l1.3 -0.3l1.3 0.4l1.3 0.7l1.3 -0.4l1.3 -0.5l1.3 -0.5l1.3 0.1l1.3 0.2l1.3 -0.5l1.3 -0.2l1.3 0l1.3 0.1l1.3 -0.2l1.3 -0.3l1.3 -0.5l1.3 0.1l1.3 0.2l0.4 -0.5l0.4 -0.5l0.4 -0.2l0.4 0.3l0.4 0.1l0.4 -0.2l0.4 0l0.4 -0.3l0.4 -0.1l0.4 -0.1l0.4 -0.6l0.4 -0.2l0.4 -0.1l0.4 -0.5l0.4 -0.1l0.4 -0.6l0.4 -0.9l0.4 -0.2l0.4 -1l0.4 -1l0.4 -0.8l0.4 -1.7l0.4 -2.1l0.4 -1.8l0.4 -2.1l0.4 -2.4l0.4 -3.1l0.4 -3.9l0.4 -3.9l0.4 -4l0.4 -4.8l0.4 -5.6l0.4 -5.9l0.4 -5.5l0.4 -5.6l0.4 -5.7l0.4 -5.8l0.4 -5.6l0.4 -4.7l0.4 -4.6l0.4 -3.9l0.4 -2.5l0.4 -1.5l0.4 -0.9l0.4 0l0.4 0.8l0.4 1.3l0.4 2.1l0.4 2.5l0.4 2.7l0.4 3.4l0.4 4l0.4 4.1l0.4 4.6l0.4 4.7l0.4 4.4l0.4 5l0.4 4.9l0.4 4.9l0.4 4.4l0.4 4l0.4 4.7l0.4 4.3l0.4 3.6l0.4 3.6l0.4 2.9l0.4 2.3l0.4 2.5l0.4 2.2l0.4 1.7l0.4 1.8l0.4 1.3l0.4 0.8l0.4 0.9l0.4 0.9l0.4 0.9l0.4 0.7l0.4 0.5l0.4 0.5l0.4 0.3l0.4 -0.1l0.4 0.1l0.4 0.5l0.4 0.2l0.4 -0.1l0.4 -0.1l0.4 0.1l0.4 0.5l1.3 -0.1l1.3 -0.1l1.3 0.5l1.3 0.2l1.3 0.3l1.3 0.2l1.3 0.1l1.3 0.3l1.3 0.3l1.3 -0.1l1.3 -0.1l1.3 0.1l1.3 0l1.3 0l1.3 -0.2l1.3 0.2l1.3 0.4l1.3 -0.2l1.3 -0.2l1.3 0.2l1.3 -0.3l1.3 0.3l1.3 0.7l1.3 -0.1l1.3 -0.1l1.3 -0.3l1.3 -0.6l1.3 0.1l1.3 0.5l1.3 0l1.3 -0.1l1.3 0.2l1.3 0.2l1.3 -0.1l1.3 -0.3l1.3 0.5l1.3 0.2l1.3 -0.4l1.3 -0.4l1.3 -0.3l1.3 -0.2l1.3 0.2l1.3 0.6l1.3 0l1.3 -0.1l1.3 0.1l1.3 0.2l1.3 -0.4l1.3 -0.4l1.3 0.5l1.3 0.3l1.3 -0.1l1.3 -0.2l1.3 0.2l1.3 0.2l1.3 -0.3l1.3 -0.2l1.3 0.1l1.3 0.2l1.3 -0.1l1.3 0.3l1.3 0.2l1.3 -0.3l1.3 -0.3l1.3 -0.1l1.3 0.2l1.3 -0.5l1.3 0l1.3 0.5l1.3 0.3l1.3 0.1l1.3 -0.4l1.3 -0.1l1.3 -0.1l1.3 -0.1l1.3 0.1l1.3 -0.3l1.3 0l1.3 0.1l1.3 -0.2l1.3 0.2l1.3 0.2l1.3 0.4l1.3 0l1.3 -0.4l1.3 -0.4l1.3 -0.1l1.3 -0.1l1.3 0l1.3 -0.1l1.3 -0.4l1.3 0l1.3 0l1.3 -0.2l1.3 -0.3l1.3 -0.5l1.3 -0.2l1.3 -0.6l1.3 -0.8l1.3 -0.8l0.4 -0.3l0.4 -0.2l0.4 0.3l0.4 -0.1l0.4 -0.6l0.4 -0.5l0.4 -0.2l0.4 -0.4l0.4 -0.7l0.4 -0.3l0.4 -0.1l0.4 -0.3l0.4 -0.3l0.4 0l0.4 -0.4l0.4 -0.6l0.4 -0.6l0.4 -0.7l0.4 -0.6l0.4 -0.1l0.4 -0.4l0.4 -1.3l0.4 -1l0.4 -0.6l0.4 -0.7l0.4 -0.7l0.4 -1.1l0.4 -1.1l0.4 -0.9l0.4 -0.8l0.4 -0.9l0.4 -0.9l0.4 -1l0.4 -0.7l0.4 -0.3l0.4 -0.6l0.4 -0.6l0.4 -0.2l0.4 -0.1l0.4 0l0.4 -0.1l0.4 -0.1l0.4 0.1l0.4 0l0.4 0.2l0.4 0.8l0.4 0.8l0.4 0.7l0.4 0.3l0.4 0.6l0.4 1.3l0.4 0.9l0.4 0.9l0.4 0.7l0.4 1l0.4 1.5l0.4 0.8l0.4 0.9l0.4 1l0.4 0.9l0.4 1.3l0.4 0.9l0.4 0.6l0.4 0.9l0.4 0.7l0.4 0.8l0.4 0.3l0.4 0.3l0.4 0.6l0.4 0.2l0.4 0.9l0.4 0.4l0.4 0.4l0.4 0.8l0.4 0.5l0.4 0.7l0.4 0.1l0.4 -0.4l1.3 0.1l1.3 0.4l1.3 0.6l1.3 0.3l1.3 0.2l1.3 -0.1l1.3 -0.3l1.3 0.3l1.3 0.3l1.3 -0.4l1.3 0.2l1.3 0l1.3 -0.2l1.3 0l1.3 0.1l1.3 0.1l1.3 0.6l1.3 0.5l1.3 -0.4l1.3 -0.1l1.3 0l1.3 0.1l1.3 0l1.3 -0.4l1.3 0l1.3 -0.1l1.3 -0.1l1.3 0.4l1.3 -0.1l1.3 0l1.3 0.1l1.3 0.4l1.3 0l1.3 -0.3l1.3 0.2l1.3 -0.1l1.3 -0.1l1.3 0l1.3 -0.1l1.3 0.1l1.3 0.2l1.3 0.2l1.3 -0.2l1.3 0l1.3 0.1l1.3 -0.5l1.3 0l1.3 0l1.3 0l1.3 0.2l1.3 0.1l1.3 0.2l1.3 0.1l1.3 -0.3l1.3 0l1.3 0l1.3 0.1l1.3 0.2l1.3 -0.2l1.3 0l1.3 0.2l1.3 0l1.3 -0.5l1.3 -0.1l1.3 0.1l1.3 0.2l1.3 0.2l1.3 -0.2l1.3 0.3l1.3 0.1l1.3 -0.3l1.3 -0.5l1.3 -0.1l1.3 0.2l1.3 0.1l1.3 -0.1l1.3 0.1l1.3 0.5l1.3 -0.2l1.3 -0.5l1.3 0.1l1.3 0.2l1.3 0.2l1.3 0l1.3 -0.3l1.3 -0.2l1.3 0.1l1.3 -0.2l1.3 -0.2l1.3 0.6l1.3 0.1l1.3 -0.1l1.3 0l1.3 -0.3l1.3 0l1.3 0.4l1.3 0.1l1.3 -0.3l1.3 0l1.3 0.3l1.3 0l1.3 0.2l1.3 -0.1l1.3 -0.6l1.3 0l1.3 0.3l1.3 0.2l1.3 0l1.3 0.2l1.3 0l1.3 -0.2l1.3 -0.3l1.3 0l1.3 0.3l1.3 0.4l1.3 -0.2l1.3 -0.3l1.3 -0.1l1.3 0l1.3 0l1.3 -0.2l1.3 0.2l1.3 -0.1l1.3 -0.2l1.3 0.2l1.3 0.1l0.4 -0.1l0.4 -0.3l0.4 0l0.4 0l0.4 -0.1l0.4 0l0.4 0.5l0.4 -0.3l0.4 -0.7l0.4 0.6l0.4 0.1l0.4 -0.5l0.4 0l0.4 0.6l0.4 -0.3l0.4 -0.4l0.4 -0.4l0.4 -0.6l0.4 0l0.4 -0.3l0.4 -0.6l0.4 -0.8l0.4 -0.7l0.4 -0.8l0.4 -0.9l0.4 -1.1l0.4 -1l0.4 -1.5l0.4 -1.5l0.4 -1.1l0.4 -1.8l0.4 -2.3l0.4 -2.1l0.4 -2l0.4 -2.1l0.4 -1.8l0.4 -1.7l0.4 -1.7l0.4 -1.7l0.4 -1.5l0.4 -1.1l0.4 -1l0.4 -0.6l0.4 -0.6l0.4 -0.9l0.4 -0.3l0.4 0.3l0.4 0.2l0.4 0.4l0.4 0.7l0.4 0.8l0.4 0.7l0.4 0.5l0.4 0.9l0.4 0.9l0.4 0.7l0.4 1.3l0.4 1.6l0.4 1.3l0.4 1.5l0.4 1.2l0.4 0.7l0.4 1.7l0.4 1l0.4 0.8l0.4 1.1l0.4 0.3l0.4 0.9l0.4 1.1l0.4 0.6l0.4 0.7l0.4 0.5l0.4 0.6l0.4 0.9l0.4 0.3l0.4 0.1l0.4 0.6l0.4 0.7l0.4 -0.1l0.4 0.5l0.4 0.9l0.4 0.4l0.4 0.4l0.4 0.9l0.4 0.8l0.4 0l0.4 0.3l0.4 0.4l1.3 1.2l1.3 1l1.3 0.7l1.3 0.4l1.3 0.4l1.3 0.7l1.3 0.2l1.3 0.1l1.3 0.5l1.3 0.1l1.3 0.2l1.3 -0.2l1.3 -0.3l1.3 0l1.3 0l1.3 0.3l1.3 0.3l1.3 -0.1l1.3 -0.2l1.3 0.3l1.3 0.4l1.3 -0.7l1.3 -0.3l1.3 0l1.3 -0.3l1.3 0.3l1.3 0l1.3 0.3l1.3 0.1l1.3 -0.1l1.3 0l1.3 0.4l1.3 0.1l1.3 -0.2l1.3 0.1l1.3 0l1.3 -0.1l1.3 -0.2l1.3 0.2l1.3 0.1l1.3 -0.6l1.3 -0.2l1.3 0.2l1.3 0.3l1.3 -0.1l1.3 0.2l1.3 0.3l1.3 -0.4l1.3 -0.3l1.3 0.2l1.3 0.3l1.3 -0.3l1.3 0.1l1.3 0.5l1.3 0l1.3 -0.2l1.3 -0.1l1.3 -0.4l1.3 -0.1l1.3 0.3l1.3 -0.1l1.3 0.2l1.3 -0.1l1.3 -0.2l1.3 0l1.3 -0.1l1.3 -0.1l1.3 0.3l1.3 0.4l1.3 -0.3l1.3 -0.5l1.3 0.2l1.3 0.3l1.3 0.1l1.3 -0.3l1.3 0l1.3 0l1.3 0l1.3 0.1l1.3 0l1.3 0.1l1.3 0l1.3 0.2l1.3 0.1l1.3 -0.5l1.3 0.2l1.3 0.3l1.3 -0.1l1.3 -0.2l1.3 0l1.3 0.2l1.3 -0.1l1.3 0l1.3 -0.1l1.3 0l1.3 -0.1l1.3 0l1.3 0.3l1.3 -0.2l1.3 0l1.3 -0.3l1.3 -0.1l1.3 0.3l1.3 0.2l1.3 0l1.3 0.1l1.3 0.3l1.3 -0.1l1.3 -0.2l1.3 0.3l1.3 0l1.3 -0.1l1.3 -0.2l1.3 -0.2l1.3 -0.1l1.3 0.1l1.3 0.2l1.3 0l1.3 -0.5l1.3 0.2l1.3 0.6l1.3 0l1.3 -0.1l0.5 -0.1"/>
<path d="M56.3 887.4l1.3 -0.3l1.3 -0.3l1.3 0.3l1.3 -0.2l1.3 0.3l1.3 0.1l1.3 0.1l1.3 0l1.3 -0.3l1.3 0.1l1.3 0.3l1.3 -0.2l1.3 -0.3l1.3 0l1.3 0l1.3 -0.1l1.3 0l1.3 0.3l1.3 0.3l1.3 0l1.3 -0.3l1.3 0.1l1.3 -0.2l1.3 -0.2l1.3 0.1l1.3 -0.1l1.3 0l1.3 -0.3l1.3 0.2l1.3 0.6l1.3 0.2l1.3 -0.2l1.3 -0.1l1.3 -0.2l1.3 -0.1l1.3 -0.1l1.3 0.1l1.3 0.3l1.3 0.1l1.3 -0.3l1.3 -0.1l1.3 0l1.3 0.1l1.3 0.2l1.3 0l1.3 0.1l1.3 0l1.3 0.2l1.3 -0.3l1.3 -0.1l1.3 0.1l1.3 0l1.3 -0.1l1.3 -0.5l1.3 0.1l1.3 0.2l1.3 -0.2l1.3 0.1l1.3 0.4l1.3 0l1.3 -0.1l1.3 0.4l1.3 0l1.3 -0.2l1.3 0l1.3 -0.1l1.3 -0.5l1.3 -0.2l1.3 0.4l1.3 0.6l1.3 -0.2l1.3 -0.3l1.3 -0.4l1.3 0.1l1.3 0.5l1.3 -0.6l1.3 0.2l1.3 0.4l1.3 0.1l1.3 -0.1l1.3 -0.1l1.3 -0.2l1.3 0.2l1.3 0.1l1.3 0l1.3 0.2l1.3 -0.3l1.3 0.1l1.3 -0.1l1.3 -0.1l1.3 0.1l1.3 -0.1l1.3 0l1.3 0.2l1.3 -0.1l1.3 -0.3l1.3 0l1.3 0l1.3 -0.1l1.3 0.1l1.3 -0.1l1.3 -0.1l1.3 0.2l1.3 0.1l1.3 0.1l1.3 0l1.3 -0.1l1.3 0.2l1.3 -0.1l1.3 -0.5l1.3 0.1l1.3 0.3l1.3 0.4l1.3 0.3l1.3 -0.3l1.3 -0.2l1.3 0.3l1.3 -0.4l1.3 0l1.3 0.1l1.3 -0.3l1.3 0l1.3 0.1l1.3 -0.5l1.3 -0.1l1.3 0.4l1.3 -0.2l1.3 0l1.3 0l1.3 -0.2l1.3 0l1.3 -0.3l1.3 0l1.3 0.5l1.3 -0.1l1.3 -0.1l1.3 -0.3l1.3 -0.3l1.3 -0.3l1.3 -0.4l1.3 0.1l1.3 0.3l1.3 0l1.3 -0.2l1.3 0l1.3 -0.8l1.3 -0.5l0.4 -0.2l0.4 -0.2l0.4 0.1l0.4 0.3l0.4 -0.3l0.4 -0.1l0.4 0.2l0.4 -0.5l0.4 -0.2l0.4 -0.3l0.4 -0.3l0.4 0.1l0.4 -0.7l0.4 -0.1l0.4 -0.3l0.4 -0.7l0.4 -0.3l0.4 -0.5l0.4 -0.9l0.4 -1.2l0.4 -0.4l0.4 -0.9l0.4 -2.1l0.4 -2.4l0.4 -2.5l0.4 -2.8l0.4 -3.4l0.4 -3.1l0.4 -3.7l0.4 -4.5l0.4 -4.9l0.4 -5l0.4 -5.8l0.4 -6l0.4 -5.8l0.4 -5.8l0.4 -6.1l0.4 -5.9l0.4 -5.1l0.4 -4.5l0.4 -4.4l0.4 -3.2l0.4 -1.8l0.4 -1.6l0.4 -0.5l0.4 0.1l0.4 1.6l0.4 2.2l0.4 2.1l0.4 2.9l0.4 3.9l0.4 4l0.4 4.4l0.4 4.6l0.4 4.6l0.4 4.6l0.4 4.8l0.4 5.3l0.4 5.6l0.4 4.9l0.4 4.6l0.4 4.2l0.4 4.1l0.4 4l0.4 3.4l0.4 3.3l0.4 3l0.4 2.5l0.4 2.1l0.4 2l0.4 1.4l0.4 1.4l0.4 1.3l0.4 1.4l0.4 0.7l0.4 0.4l0.4 1l0.4 0.7l0.4 0l0.4 0l0.4 0.4l0.4 0.5l0.4 0.5l0.4 0.1l0.4 0l0.4 0.1l0.4 0l0.4 0.4l1.3 0.8l1.3 0l1.3 -0.3l1.3 0.4l1.3 0l1.3 -0.3l1.3 0.4l1.3 0.8l1.3 -0.1l1.3 -0.2l1.3 0.4l1.3 -0.2l1.3 -0.5l1.3 0.7l1.3 0.5l1.3 -0.4l1.3 -0.1l1.3 0.3l1.3 -0.2l1.3 0.4l1.3 -0.3l1.3 -0.1l1.3 0.4l1.3 -0.3l1.3 0l1.3 -0.1l1.3 -0.1l1.3 0.1l1.3 -0.3l1.3 0.2l1.3 0.1l1.3 -0.3l1.3 0.6l1.3 0.1l1.3 0l1.3 0.3l1.3 -0.2l1.3 0l1.3 -0.1l1.3 -0.5l1.3 0l1.3 0.1l1.3 0.2l1.3 0.5l1.3 -0.3l1.3 -0.4l1.3 0.1l1.3 0.2l1.3 -0.1l1.3 0.2l1.3 0l1.3 -0.5l1.3 0.5l1.3 0.4l1.3 -0.3l1.3 -0.5l1.3 0.1l1.3 0.3l1.3 0.3l1.3 0.2l1.3 -0.4l1.3 -0.3l1.3 0l1.3 0l1.3 -0.1l1.3 0l1.3 0l1.3 0.1l1.3 -0.3l1.3 -0.1l1.3 0.5l1.3 0.1l1.3 0l1.3 0.1l1.3 -0.1l1.3 0.1l1.3 -0.1l1.3 -0.5l1.3 0.2l1.3 0.3l1.3 -0.6l1.3 0.1l1.3 0.4l1.3 -0.5l1.3 -0.1l1.3 0.1l1.3 -0.1l1.3 -0.3l1.3 0l1.3 -0.2l1.3 -0.8l1.3 -0.1l1.3 0.1l1.3 -0.2l1.3 0.1l1.3 -0.3l1.3 -0.1l1.3 -0.6l1.3 -1l1.3 0l0.4 0.1l0.4 -0.6l0.4 -1l0.4 -0.4l0.4 -0.1l0.4 0l0.4 -0.3l0.4 -0.2l0.4 -0.3l0.4 -0.3l0.4 0.3l0.4 -0.3l0.4 -0.6l0.4 -0.5l0.4 -0.7l0.4 -0.3l0.4 -0.3l0.4 -1.2l0.4 -0.9l0.4 0.4l0.4 -0.3l0.4 -1.1l0.4 -0.9l0.4 -0.9l0.4 -0.8l0.4 -1.4l0.4 -0.5l0.4 -0.1l0.4 -1.4l0.4 -0.6l0.4 -0.7l0.4 -0.8l0.4 -0.9l0.4 -0.7l0.4 -0.8l0.4 -0.5l0.4 -0.4l0.4 -0.5l0.4 0.2l0.4 -0.4l0.4 0l0.4 0.4l0.4 0.3l0.4 0.6l0.4 0.4l0.4 0.6l0.4 0.4l0.4 0.2l0.4 1.1l0.4 0.8l0.4 0.7l0.4 0.9l0.4 0.8l0.4 1.2l0.4 0.8l0.4 0.7l0.4 0.8l0.4 1.2l0.4 1l0.4 0.5l0.4 1l0.4 1l0.4 0.6l0.4 0.8l0.4 0.9l0.4 0.4l0.4 0.5l0.4 0.9l0.4 0.6l0.4 0.1l0.4 0.4l0.4 0.6l0.4 0.7l0.4 0l0.4 0l0.4 0.4l0.4 0.2l0.4 0.2l1.3 0.3l1.3 0.3l1.3 0.2l1.3 0.4l1.3 0.6l1.3 -0.2l1.3 -0.5l1.3 0.2l1.3 0.5l1.3 0.4l1.3 0.1l1.3 -0.2l1.3 -0.2l1.3 -0.4l1.3 0.1l1.3 0.3l1.3 -0.1l1.3 -0.2l1.3 -0.1l1.3 0.2l1.3 0.2l1.3 0.2l1.3 -0.1l1.3 -0.3l1.3 0.3l1.3 0.2l1.3 -0.6l1.3 -0.1l1.3 0.1l1.3 0.1l1.3 -0.2l1.3 0.2l1.3 0.5l1.3 -0.1l1.3 -0.2l1.3 0l1.3 0l1.3 0.2l1.3 -0.1l1.3 0.3l1.3 0l1.3 -0.5l1.3 0.1l1.3 -0.2l1.3 0.1l1.3 -0.1l1.3 0.1l1.3 0.4l1.3 0l1.3 0.1l1.3 -0.3l1.3 -0.2l1.3 0.1l1.3 0.3l1.3 0l1.3 -0.4l1.3 0.1l1.3 0.1l1.3 0.1l1.3 0.4l1.3 0l1.3 -0.4l1.3 0l1.3 -0.1l1.3 -0.2l1.3 0.4l1.3 0.1l1.3 0.2l1.3 0.1l1.3 -0.3l1.3 0l1.3 0l1.3 0l1.3 -0.4l1.3 -0.3l1.3 0.2l1.3 0l1.3 0.1l1.3 0.4l1.3 0.2l1.3 -0.4l1.3 0.1l1.3 -0.5l1.3 0.1l1.3 0.1l1.3 -0.2l1.3 0.8l1.3 -0.3l1.3 -0.6l1.3 -0.2l1.3 -0.2l1.3 0.5l1.3 0.4l1.3 -0.1l1.3 0l1.3 0l1.3 -0.2l1.3 0l1.3 -0.1l1.3 -0.4l1.3 0.2l1.3 0.6l1.3 0.2l1.3 0.1l1.3 -0.3l1.3 -0.3l1.3 0l1.3 0.3l1.3 0l1.3 -0.2l1.3 0.1l1.3 -0.4l1.3 0.1l1.3 0.8l1.3 -0.4l1.3 -0.3l1.3 0.2l1.3 -0.3l1.3 0.2l1.3 0.3l1.3 -0.2l1.3 0.2l1.3 0.2l1.3 -0.8l1.3 0.2l0.4 0.4l0.4 0l0.4 -0.3l0.4 -0.5l0.4 0.1l0.4 0.2l0.4 0.3l0.4 -0.3l0.4 0.5l0.4 0l0.4 -0.8l0.4 0.5l0.4 0.4l0.4 -0.1l0.4 -0.4l0.4 -0.4l0.4 0.2l0.4 -0.4l0.4 -0.8l0.4 0l0.4 -0.2l0.4 -0.2l0.4 -0.5l0.4 -0.7l0.4 -0.7l0.4 -0.9l0.4 -1l0.4 -1.2l0.4 -1.5l0.4 -1.1l0.4 -1.4l0.4 -1.5l0.4 -1.6l0.4 -1.9l0.4 -1.8l0.4 -2.3l0.4 -2.4l0.4 -1.7l0.4 -1.3l0.4 -1.8l0.4 -1.6l0.4 -1.2l0.4 -1.7l0.4 -1.1l0.4 -0.8l0.4 -0.7l0.4 -0.2l0.4 0.1l0.4 -0.2l0.4 0l0.4 0.6l0.4 0.8l0.4 0.7l0.4 1.2l0.4 0.8l0.4 0.4l0.4 0.8l0.4 1l0.4 1.1l0.4 1.2l0.4 1.6l0.4 1l0.4 1.3l0.4 1.4l0.4 0.6l0.4 1l0.4 1.2l0.4 1.1l0.4 0.7l0.4 1l0.4 0.5l0.4 0.2l0.4 1l0.4 0.5l0.4 0.2l0.4 0.8l0.4 0.8l0.4 0.5l0.4 0.5l0.4 0.4l0.4 0.4l0.4 0.6l0.4 0.5l0.4 0.7l0.4 0.5l0.4 0.5l0.4 0.4l0.4 0.5l0.4 0l0.4 0.6l1.3 1.3l1.3 0.4l1.3 0.7l1.3 1.1l1.3 0.3l1.3 0l1.3 0.6l1.3 0.8l1.3 0.4l1.3 -0.5l1.3 -0.3l1.3 0.2l1.3 -0.1l1.3 0.3l1.3 0.2l1.3 -0.6l1.3 0l1.3 0.3l1.3 -0.1l1.3 0.1l1.3 0.2l1.3 -0.1l1.3 -0.2l1.3 0.1l1.3 -0.2l1.3 0.1l1.3 0.1l1.3 -0.2l1.3 0.2l1.3 0.1l1.3 0l1.3 -0.1l1.3 -0.2l1.3 0.2l1.3 0.5l1.3 -0.1l1.3 -0.2l1.3 -0.2l1.3 0l1.3 0l1.3 -0.1l1.3 -0.1l1.3 -0.3l1.3 0.3l1.3 0.2l1.3 0l1.3 0.5l1.3 0l1.3 -0.5l1.3 -0.1l1.3 0.4l1.3 0.1l1.3 -0.1l1.3 -0.1l1.3 -0.2l1.3 0l1.3 0.1l1.3 0l1.3 -0.1l1.3 0l1.3 0l1.3 0l1.3 0.2l1.3 0.1l1.3 0l1.3 -0.1l1.3 -0.4l1.3 0l1.3 0.2l1.3 0.1l1.3 0.2l1.3 -0.4l1.3 -0.2l1.3 0.1l1.3 -0.2l1.3 0.3l1.3 0.2l1.3 0.3l1.3 -0.1l1.3 0l1.3 0.2l1.3 -0.3l1.3 0l1.3 0l1.3 -0.1l1.3 0.5l1.3 0l1.3 -0.4l1.3 -0.2l1.3 -0.1l1.3 0l1.3 0.4l1.3 0.3l1.3 -0.3l1.3 -0.1l1.3 0.4l1.3 -0.1l1.3 -0.5l1.3 0.4l1.3 0.2l1.3 -0.5l1.3 -0.1l1.3 0.2l1.3 -0.1l1.3 -0.1l1.3 0l1.3 0.1l1.3 0.2l1.3 -0.2l1.3 -0.1l1.3 -0.1l1.3 -0.1l1.3 0.5l1.3 0l1.3 -0.2l1.3 0.3l1.3 0.1l1.3 -0.2l1.3 0l1.3 -0.3l1.3 -0.2l1.3 0.6l1.3 0.2l1 0"/>
<path d="M56.3 926.6l1.3 -0.1l1.3 0.3l1.3 -0.1l1.3 0.1l1.3 -0.1l1.3 0l1.3 0.3l1.3 -0.2l1.3 -0.1l1.3 -0.4l1.3 0.1l1.3 0.4l1.3 -0.4l1.3 -0.3l1.3 0.3l1.3 0.7l1.3 0l1.3 -0.6l1.3 0l1.3 -0.2l1.3 -0.1l1.3 0.2l1.3 0.2l1.3 0.3l1.3 0l1.3 0.1l1.3 0.1l1.3 -0.4l1.3 0l1.3 -0.2l1.3 -0.1l1.3 0.1l1.3 0.4l1.3 0.1l1.3 -0.6l1.3 0.1l1.3 0.3l1.3 -0.2l1.3 0l1.3 0.2l1.3 -0.3l1.3 0.1l1.3 0l1.3 -0.3l1.3 0.4l1.3 -0.2l1.3 -0.5l1.3 0.1l1.3 0.5l1.3 0.1l1.3 -0.1l1.3 -0.2l1.3 0.3l1.3 0.4l1.3 -0.2l1.3 -0.1l1.3 -0.3l1.3 0l1.3 0.6l1.3 0l1.3 -0.1l1.3 -0.1l1.3 -0.1l1.3 -0.5l1.3 -0.1l1.3 0.5l1.3 -0.1l1.3 -0.3l1.3 0.1l1.3 0.1l1.3 0.3l1.3 0.1l1.3 -0.3l1.3 0.3l1.3 -0.1l1.3 -0.2l1.3 0.4l1.3 -0.2l1.3 -0.3l1.3 0.3l1.3 0.2l1.3 -0.2l1.3 -0.3l1.3 0l1.3 -0.1l1.3 0.3l1.3 0.1l1.3 -0.3l1.3 -0.1l1.3 0.3l1.3 -0.4l1.3 -0.2l1.3 0.5l1.3 0l1.3 -0.2l1.3 0.2l1.3 0.2l1.3 0.2l1.3 -0.1l1.3 -0.3l1.3 -0.1l1.3 0.2l1.3 0.3l1.3 -0.1l1.3 0l1.3 0l1.3 -0.1l1.3 -0.1l1.3 0.1l1.3 0l1.3 -0.2l1.3 -0.1l1.3 0.1l1.3 0.2l1.3 0l1.3 -0.3l1.3 -0.2l1.3 0.1l1.3 0.3l1.3 -0.2l1.3 0l1.3 0.1l1.3 -0.4l1.3 -0.3l1.3 0.2l1.3 0.3l1.3 0.1l1.3 0l1.3 -0.1l1.3 -0.1l1.3 -0.2l1.3 -0.2l1.3 0l1.3 0l1.3 0.1l1.3 -0.1l1.3 -0.2l1.3 -0.1l1.3 0.1l1.3 -0.2l1.3 -0.2l1.3 -0.2l1.3 -0.3l1.3 0l1.3 -0.4l1.3 -0.5l1.3 -0.2l0.4 0.1l0.4 -0.2l0.4 -0.2l0.4 -0.1l0.4 0.3l0.4 -0.2l0.4 -0.8l0.4 -0.4l0.4 0.2l0.4 -0.2l0.4 -0.2l0.4 -0.1l0.4 -0.3l0.4 -0.3l0.4 -0.2l0.4 -0.6l0.4 -0.7l0.4 -0.8l0.4 -1.2l0.4 -0.7l0.4 -1.1l0.4 -1.6l0.4 -1.3l0.4 -2.1l0.4 -2.8l0.4 -2.7l0.4 -3.3l0.4 -3.9l0.4 -3.7l0.4 -5.1l0.4 -5.2l0.4 -5.4l0.4 -5.8l0.4 -6.3l0.4 -5.9l0.4 -5.8l0.4 -6.4l0.4 -6l0.4 -5.2l0.4 -4.6l0.4 -4.2l0.4 -3.3l0.4 -2.2l0.4 -1.1l0.4 -0.3l0.4 0.8l0.4 1.9l0.4 2.3l0.4 2.5l0.4 3.3l0.4 3.9l0.4 3.9l0.4 3.7l0.4 4.3l0.4 5.2l0.4 5.7l0.4 5.6l0.4 4.9l0.4 4.9l0.4 5.5l0.4 4.6l0.4 4.1l0.4 4.4l0.4 3.9l0.4 3.6l0.4 3.1l0.4 2.8l0.4 2.8l0.4 2.5l0.4 2.2l0.4 1.6l0.4 1.2l0.4 1.3l0.4 1.2l0.4 0.9l0.4 0.5l0.4 0.1l0.4 0.7l0.4 0.9l0.4 0.3l0.4 0l0.4 0.3l0.4 0.4l0.4 0.3l0.4 0.3l0.4 0l0.4 0.2l0.4 0.3l1.3 -0.3l1.3 0.4l1.3 0.4l1.3 -0.1l1.3 0.4l1.3 0.2l1.3 -0.3l1.3 0.2l1.3 0.5l1.3 0.1l1.3 -0.3l1.3 0.2l1.3 0.4l1.3 -0.2l1.3 -0.2l1.3 -0.2l1.3 0.1l1.3 0.2l1.3 0.5l1.3 0.1l1.3 -0.4l1.3 0.3l1.3 0.3l1.3 -0.1l1.3 -0.3l1.3 -0.5l1.3 -0.3l1.3 0.2l1.3 0.3l1.3 0.2l1.3 0.6l1.3 -0.3l1.3 -0.4l1.3 0.1l1.3 -0.3l1.3 0l1.3 0.6l1.3 0.5l1.3 -0.4l1.3 -0.3l1.3 0.5l1.3 -0.3l1.3 -0.4l1.3 0.5l1.3 -0.1l1.3 -0.3l1.3 0.2l1.3 0.3l1.3 0l1.3 -0.3l1.3 0.1l1.3 -0.1l1.3 -0.4l1.3 0.1l1.3 0.2l1.3 0.1l1.3 0.1l1.3 -0.1l1.3 -0.4l1.3 -0.3l1.3 0.3l1.3 0.5l1.3 -0.1l1.3 -0.3l1.3 0.3l1.3 -0.1l1.3 0l1.3 0.1l1.3 -0.2l1.3 0.2l1.3 0l1.3 0.1l1.3 -0.1l1.3 -0.4l1.3 0.1l1.3 0.3l1.3 -0.1l1.3 -0.1l1.3 0.3l1.3 0.1l1.3 -0.2l1.3 -0.2l1.3 0.3l1.3 0.2l1.3 -0.2l1.3 -0.4l1.3 0l1.3 -0.9l1.3 -0.1l1.3 0.4l1.3 -0.4l1.3 -0.2l1.3 0.1l1.3 0l1.3 -0.1l1.3 -0.3l1.3 -0.2l1.3 -0.1l1.3 -0.4l0.4 -0.1l0.4 0.2l0.4 -0.2l0.4 -0.6l0.4 -0.4l0.4 -0.5l0.4 -0.2l0.4 0.2l0.4 -0.3l0.4 -0.6l0.4 0.1l0.4 0.5l0.4 -0.4l0.4 -0.3l0.4 -0.3l0.4 -0.7l0.4 -0.3l0.4 0l0.4 -0.3l0.4 -0.3l0.4 -0.5l0.4 -0.7l0.4 0l0.4 -0.1l0.4 -0.6l0.4 -0.8l0.4 -1.1l0.4 -0.6l0.4 0.1l0.4 -0.2l0.4 -1.2l0.4 -0.9l0.4 -0.4l0.4 -0.4l0.4 0l0.4 -0.6l0.4 -0.7l0.4 -0.3l0.4 -0.5l0.4 -0.4l0.4 -0.2l0.4 0.2l0.4 0.2l0.4 0l0.4 -0.1l0.4 0l0.4 0.4l0.4 0.4l0.4 0.2l0.4 0.3l0.4 1l0.4 0.6l0.4 0.3l0.4 0.8l0.4 0.5l0.4 0.8l0.4 0.7l0.4 0.5l0.4 0.5l0.4 0.7l0.4 0.7l0.4 0.6l0.4 0.5l0.4 0.3l0.4 0.6l0.4 0.8l0.4 0.3l0.4 0.3l0.4 0.7l0.4 0.6l0.4 -0.1l0.4 -0.1l0.4 0.9l0.4 0.6l0.4 0.2l0.4 0.2l0.4 0.2l0.4 0.2l0.4 0.3l0.4 -0.2l1.3 0.1l1.3 0.7l1.3 0.5l1.3 -0.3l1.3 0.2l1.3 0.4l1.3 -0.1l1.3 -0.1l1.3 -0.3l1.3 0.1l1.3 0.1l1.3 -0.2l1.3 0.1l1.3 0.2l1.3 -0.3l1.3 -0.1l1.3 0.3l1.3 0l1.3 0.1l1.3 0.4l1.3 -0.3l1.3 -0.2l1.3 0.3l1.3 0.1l1.3 -0.3l1.3 -0.4l1.3 0.4l1.3 0.4l1.3 0l1.3 -0.4l1.3 0l1.3 0.1l1.3 -0.4l1.3 0.2l1.3 0.4l1.3 0.2l1.3 -0.1l1.3 -0.4l1.3 -0.2l1.3 0.2l1.3 0.1l1.3 -0.1l1.3 0.3l1.3 -0.2l1.3 -0.1l1.3 0.1l1.3 0.2l1.3 -0.1l1.3 -0.2l1.3 0.2l1.3 -0.2l1.3 -0.2l1.3 0.2l1.3 0.1l1.3 -0.1l1.3 -0.1l1.3 0.3l1.3 0.3l1.3 -0.1l1.3 0.1l1.3 0l1.3 -0.1l1.3 -0.2l1.3 -0.3l1.3 0.2l1.3 0l1.3 0.2l1.3 0.2l1.3 0.2l1.3 -0.1l1.3 -0.4l1.3 0.2l1.3 -0.1l1.3 0l1.3 -0.4l1.3 -0.1l1.3 0.6l1.3 0l1.3 -0.5l1.3 0l1.3 0.2l1.3 0.2l1.3 -0.1l1.3 0l1.3 0l1.3 0l1.3 0.2l1.3 0.2l1.3 0.1l1.3 -0.2l1.3 -0.2l1.3 -0.6l1.3 0.1l1.3 0.4l1.3 -0.2l1.3 0l1.3 -0.2l1.3 0l1.3 0.2l1.3 0.3l1.3 0.1l1.3 -0.3l1.3 0l1.3 -0.3l1.3 -0.2l1.3 0.6l1.3 0.2l1.3 -0.4l1.3 -0.1l1.3 0.2l1.3 0l1.3 0.1l1.3 -0.1l1.3 -0.3l1.3 -0.1l1.3 0.1l1.3 0l1.3 0.3l1.3 0.1l1.3 0l1.3 0l1.3 -0.3l1.3 -0.2l1.3 0.4l1.3 0.2l0.4 -0.6l0.4 -0.4l0.4 0.4l0.4 0.8l0.4 -0.2l0.4 -0.7l0.4 0.2l0.4 0.2l0.4 -0.4l0.4 -0.3l0.4 0.2l0.4 -0.1l0.4 -0.1l0.4 0.2l0.4 0.2l0.4 -0.1l0.4 -0.4l0.4 -0.3l0.4 -0.4l0.4 -0.5l0.4 -0.5l0.4 0l0.4 -0.1l0.4 -0.7l0.4 -1l0.4 -1l0.4 -0.9l0.4 -1.3l0.4 -1.6l0.4 -1.6l0.4 -1.4l0.4 -1.6l0.4 -2.2l0.4 -1.8l0.4 -1.8l0.4 -1.8l0.4 -1.5l0.4 -2l0.4 -2l0.4 -1.5l0.4 -2l0.4 -1.9l0.4 -1l0.4 -0.8l0.4 -0.6l0.4 -0.2l0.4 -0.3l0.4 -0.5l0.4 0.7l0.4 0.5l0.4 -0.3l0.4 1.1l0.4 0.7l0.4 0.4l0.4 1.3l0.4 1.1l0.4 1.1l0.4 1.5l0.4 1.2l0.4 0.9l0.4 1.3l0.4 1.4l0.4 1.6l0.4 0.9l0.4 0.8l0.4 1.2l0.4 0.8l0.4 0.5l0.4 0.5l0.4 0.9l0.4 0.5l0.4 0.7l0.4 1.2l0.4 0.3l0.4 0.5l0.4 0.8l0.4 0.2l0.4 0.3l0.4 0.5l0.4 1.1l0.4 0.4l0.4 0.2l0.4 0.7l0.4 0.4l0.4 0.3l0.4 0.8l0.4 0.8l0.4 0.1l0.4 0.5l1.3 1.1l1.3 0.7l1.3 0.5l1.3 0.3l1.3 0.7l1.3 1.2l1.3 0.5l1.3 0.1l1.3 0.5l1.3 -0.1l1.3 -0.4l1.3 0l1.3 0.1l1.3 0.1l1.3 0l1.3 0.1l1.3 0.3l1.3 -0.2l1.3 -0.1l1.3 0l1.3 0l1.3 -0.1l1.3 0.2l1.3 -0.1l1.3 -0.3l1.3 0.1l1.3 -0.3l1.3 0.3l1.3 0.3l1.3 0.1l1.3 -0.3l1.3 -0.7l1.3 0.3l1.3 0.4l1.3 0.3l1.3 0.1l1.3 0.1l1.3 -0.2l1.3 0.3l1.3 0.1l1.3 -0.8l1.3 -0.3l1.3 0.2l1.3 0.1l1.3 0l1.3 0.1l1.3 0.4l1.3 -0.4l1.3 -0.3l1.3 0.6l1.3 0.4l1.3 0.1l1.3 -0.3l1.3 -0.1l1.3 0l1.3 -0.5l1.3 -0.3l1.3 0.5l1.3 0.1l1.3 -0.3l1.3 -0.2l1.3 0.3l1.3 0.2l1.3 -0.2l1.3 0.3l1.3 0l1.3 -0.4l1.3 0.1l1.3 0.1l1.3 -0.1l1.3 -0.3l1.3 0.5l1.3 0.4l1.3 -0.3l1.3 -0.3l1.3 -0.1l1.3 0.2l1.3 -0.1l1.3 0.1l1.3 0.3l1.3 -0.2l1.3 -0.3l1.3 0.2l1.3 0.6l1.3 -0.1l1.3 -0.3l1.3 0l1.3 -0.4l1.3 0.3l1.3 0.1l1.3 0.1l1.3 0l1.3 -0.7l1.3 0.2l1.3 0.4l1.3 0.1l1.3 -0.1l1.3 -0.4l1.3 0.2l1.3 0l1.3 0.2l1.3 0.1l1.3 -0.4l1.3 0l1.3 0.3l1.3 0.4l1.3 -0.2l1.3 -0.2l1.3 -0.3l1.3 0.1l1.3 -0.3l1.3 0.1l1.3 0.5l1.3 -0.4l1.3 0.1l1.3 0.3l1.3 0.2l1.3 0.2l1.3 -0.4l1.3 -0.2l1.3 -0.3l1.3 0.1l1.3 0l1.3 -0.2l0.6 -0.1"/>
<path d="M56.3 966l1.3 0.1l1.3 0.5l1.3 -0.1l1.3 -0.2l1.3 -0.2l1.3 0.1l1.3 0.4l1.3 -0.1l1.3 -0.3l1.3 0l1.3 -0.3l1.3 0.1l1.3 -0.1l1.3 0.3l1.3 0.6l1.3 0l1.3 -0.3l1.3 -0.2l1.3 0l1.3 -0.3l1.3 0.1l1.3 0.2l1.3 0.1l1.3 0.4l1.3 -0.1l1.3 0l1.3 0.1l1.3 -0.5l1.3 0l1.3 0.2l1.3 -0.1l1.3 0.1l1.3 0l1.3 -0.1l1.3 0l1.3 0l1.3 -0.3l1.3 0.1l1.3 -0.2l1.3 0.2l1.3 0.4l1.3 -0.1l1.3 0.1l1.3 0.2l1.3 -0.2l1.3 -0.1l1.3 0.1l1.3 -0.2l1.3 -0.1l1.3 0.3l1.3 0l1.3 -0.2l1.3 0.1l1.3 -0.3l1.3 -0.4l1.3 0.4l1.3 0.4l1.3 -0.3l1.3 -0.5l1.3 0l1.3 0.2l1.3 0.1l1.3 -0.2l1.3 0.3l1.3 0.3l1.3 -0.2l1.3 -0.2l1.3 0l1.3 0.1l1.3 0.4l1.3 -0.2l1.3 -0.5l1.3 0.1l1.3 0.1l1.3 0.2l1.3 -0.2l1.3 -0.3l1.3 0.4l1.3 0.3l1.3 0.1l1.3 -0.2l1.3 -0.6l1.3 0l1.3 0.2l1.3 0.2l1.3 0l1.3 -0.1l1.3 0.3l1.3 0l1.3 -0.2l1.3 -0.1l1.3 0.1l1.3 0.2l1.3 -0.3l1.3 -0.4l1.3 0.5l1.3 0l1.3 -0.4l1.3 0.1l1.3 0.3l1.3 0.2l1.3 0l1.3 0.2l1.3 -0.4l1.3 -0.2l1.3 -0.2l1.3 -0.1l1.3 0.4l1.3 0.2l1.3 0l1.3 -0.1l1.3 -0.2l1.3 0.1l1.3 0.1l1.3 -0.1l1.3 0.1l1.3 -0.1l1.3 0.2l1.3 0l1.3 0l1.3 0l1.3 -0.4l1.3 -0.1l1.3 0.2l1.3 0.1l1.3 0l1.3 -0.1l1.3 -0.2l1.3 -0.2l1.3 -0.2l1.3 0l1.3 -0.3l1.3 0.1l1.3 0.3l1.3 -0.1l1.3 -0.3l1.3 -0.1l1.3 0.2l1.3 -0.3l1.3 -0.5l1.3 0l1.3 0.1l1.3 -0.4l1.3 -0.1l1.3 -0.4l1.3 -0.1l1.3 -0.2l0.4 -0.7l0.4 0.1l0.4 -0.2l0.4 -0.1l0.4 0l0.4 0.2l0.4 0l0.4 -0.3l0.4 -0.2l0.4 -0.1l0.4 -0.2l0.4 -0.7l0.4 -0.5l0.4 0l0.4 -0.3l0.4 -1l0.4 -0.9l0.4 -0.6l0.4 -1l0.4 -0.8l0.4 -1l0.4 -2.1l0.4 -2.2l0.4 -1.6l0.4 -2.2l0.4 -3.1l0.4 -3.9l0.4 -4.2l0.4 -4l0.4 -5l0.4 -5.7l0.4 -5.9l0.4 -6l0.4 -6l0.4 -6.2l0.4 -6.7l0.4 -6.7l0.4 -6.3l0.4 -5.4l0.4 -4.6l0.4 -4l0.4 -3.1l0.4 -2.3l0.4 -0.7l0.4 0l0.4 0.3l0.4 1.6l0.4 2.9l0.4 3.5l0.4 3.7l0.4 3.7l0.4 4.2l0.4 4.7l0.4 4.9l0.4 4.7l0.4 5.2l0.4 5.8l0.4 5.5l0.4 5.3l0.4 5.2l0.4 5.3l0.4 4.2l0.4 3.8l0.4 4.5l0.4 3.9l0.4 3.7l0.4 3.2l0.4 2.2l0.4 2l0.4 2l0.4 1.8l0.4 1.1l0.4 1.1l0.4 1.5l0.4 1.1l0.4 0.7l0.4 0.8l0.4 0.4l0.4 0l0.4 0.7l0.4 0.6l0.4 -0.1l0.4 0.1l0.4 0.3l0.4 -0.1l0.4 0.2l0.4 0.2l0.4 0.3l1.3 0.5l1.3 0.1l1.3 0.4l1.3 0.5l1.3 -0.2l1.3 -0.5l1.3 0.1l1.3 0.4l1.3 -0.2l1.3 -0.4l1.3 0.8l1.3 0.5l1.3 -0.1l1.3 0l1.3 -0.1l1.3 0.1l1.3 0.1l1.3 0.1l1.3 0.1l1.3 -0.1l1.3 0l1.3 -0.3l1.3 -0.1l1.3 0.4l1.3 0l1.3 -0.1l1.3 0.1l1.3 -0.1l1.3 0.4l1.3 -0.2l1.3 -0.4l1.3 0.1l1.3 0.4l1.3 0.3l1.3 -0.6l1.3 -0.2l1.3 0.2l1.3 0.1l1.3 0l1.3 0.2l1.3 0l1.3 -0.1l1.3 0.2l1.3 -0.1l1.3 -0.4l1.3 -0.1l1.3 0.6l1.3 0.3l1.3 -0.6l1.3 0l1.3 -0.1l1.3 0.2l1.3 0.2l1.3 0.1l1.3 0.4l1.3 -0.2l1.3 -0.4l1.3 -0.2l1.3 0.1l1.3 -0.1l1.3 0l1.3 0.1l1.3 0.2l1.3 0.2l1.3 -0.5l1.3 -0.4l1.3 0.2l1.3 0.4l1.3 0.1l1.3 -0.1l1.3 0.2l1.3 0l1.3 0l1.3 -0.3l1.3 0.2l1.3 0.3l1.3 -0.2l1.3 -0.3l1.3 0l1.3 0l1.3 0.3l1.3 -0.1l1.3 0l1.3 -0.1l1.3 -0.3l1.3 0.1l1.3 0l1.3 0.5l1.3 -0.2l1.3 -0.3l1.3 -0.2l1.3 -0.2l1.3 0.6l1.3 0l1.3 -0.9l1.3 -0.2l1.3 0.2l1.3 -0.3l1.3 0.1l0.4 0.2l0.4 -0.5l0.4 -0.1l0.4 0.1l0.4 -0.5l0.4 0.2l0.4 0.4l0.4 -0.8l0.4 0l0.4 0.2l0.4 -0.2l0.4 -0.1l0.4 -0.5l0.4 -0.1l0.4 0.5l0.4 -0.6l0.4 -0.4l0.4 0.1l0.4 -0.1l0.4 -0.3l0.4 -0.2l0.4 0l0.4 -0.2l0.4 -0.2l0.4 -0.5l0.4 -0.3l0.4 0l0.4 -0.2l0.4 -0.1l0.4 -0.4l0.4 -0.5l0.4 -0.1l0.4 0l0.4 -0.6l0.4 -0.6l0.4 -0.2l0.4 -0.3l0.4 -0.4l0.4 0.2l0.4 0.3l0.4 -0.1l0.4 0.2l0.4 -0.4l0.4 -0.2l0.4 0l0.4 0.1l0.4 0.6l0.4 0l0.4 0.1l0.4 0.4l0.4 0.1l0.4 0.8l0.4 0.4l0.4 -0.3l0.4 0.1l0.4 0.8l0.4 0l0.4 -0.2l0.4 0.6l0.4 0.4l0.4 0l0.4 0.5l0.4 0.8l0.4 0.4l0.4 0.2l0.4 0.3l0.4 0.1l0.4 0.3l0.4 0l0.4 0l0.4 0.3l0.4 0.1l0.4 0l0.4 0.1l0.4 0.3l0.4 0.3l0.4 0.1l0.4 0l0.4 0.1l0.4 0.3l1.3 0.1l1.3 -0.8l1.3 0.4l1.3 0.7l1.3 0l1.3 0.2l1.3 0.2l1.3 -0.4l1.3 -0.4l1.3 0.2l1.3 0l1.3 -0.1l1.3 0.1l1.3 0.3l1.3 0.3l1.3 -0.2l1.3 0l1.3 -0.1l1.3 -0.2l1.3 0.2l1.3 -0.1l1.3 0.2l1.3 0.1l1.3 -0.3l1.3 0.2l1.3 -0.3l1.3 -0.1l1.3 0.3l1.3 -0.5l1.3 0l1.3 0.5l1.3 -0.3l1.3 -0.1l1.3 0l1.3 -0.2l1.3 0.4l1.3 0.4l1.3 0.1l1.3 -0.3l1.3 0.1l1.3 0.1l1.3 -0.1l1.3 -0.1l1.3 0.1l1.3 -0.1l1.3 0.1l1.3 0.2l1.3 -0.1l1.3 0.1l1.3 -0.3l1.3 -0.2l1.3 0.2l1.3 0l1.3 -0.2l1.3 0.1l1.3 0l1.3 0.2l1.3 -0.4l1.3 0l1.3 0.2l1.3 0.2l1.3 0.3l1.3 -0.2l1.3 0.1l1.3 -0.2l1.3 -0.2l1.3 0l1.3 0.3l1.3 -0.1l1.3 -0.3l1.3 0l1.3 0.1l1.3 0.1l1.3 0.1l1.3 -0.2l1.3 -0.4l1.3 0.4l1.3 0.4l1.3 0l1.3 0.1l1.3 0.1l1.3 -0.5l1.3 -0.4l1.3 0.1l1.3 0.1l1.3 0.1l1.3 0l1.3 -0.1l1.3 0l1.3 0.2l1.3 0.1l1.3 0.1l1.3 0.1l1.3 0l1.3 -0.2l1.3 0.2l1.3 0.4l1.3 -0.3l1.3 -0.6l1.3 -0.2l1.3 0.3l1.3 -0.1l1.3 -0.1l1.3 0.6l1.3 -0.5l1.3 -0.2l1.3 0.6l1.3 0l1.3 -0.1l1.3 -0.5l1.3 0l1.3 0.1l1.3 -0.2l1.3 0.3l1.3 0.3l1.3 0l1.3 0.1l1.3 -0.3l1.3 -0.1l1.3 0.2l1.3 -0.2l1.3 -0.1l1.3 0.2l1.3 0.2l0.4 -0.4l0.4 0.1l0.4 0.1l0.4 -0.3l0.4 0.2l0.4 -0.1l0.4 -0.5l0.4 0l0.4 0.5l0.4 -0.1l0.4 0l0.4 0l0.4 0l0.4 0l0.4 0.3l0.4 -0.2l0.4 -0.4l0.4 -0.3l0.4 -0.4l0.4 -0.5l0.4 -0.4l0.4 -0.1l0.4 -0.9l0.4 -0.7l0.4 -0.6l0.4 -0.8l0.4 -1.1l0.4 -1.4l0.4 -1.6l0.4 -1.5l0.4 -1.3l0.4 -2l0.4 -2l0.4 -2.2l0.4 -1.8l0.4 -1.4l0.4 -1.8l0.4 -2.3l0.4 -2l0.4 -1.5l0.4 -1.3l0.4 -1.3l0.4 -1.6l0.4 -0.4l0.4 -0.5l0.4 -0.6l0.4 -0.3l0.4 0.5l0.4 0.3l0.4 -0.2l0.4 0.7l0.4 0.8l0.4 0.7l0.4 0.9l0.4 1.3l0.4 1.5l0.4 1.4l0.4 0.6l0.4 0.9l0.4 1.3l0.4 0.7l0.4 1.1l0.4 1.5l0.4 1.2l0.4 1.1l0.4 1.2l0.4 1.1l0.4 0.7l0.4 0.5l0.4 0.6l0.4 0.9l0.4 0.7l0.4 0.1l0.4 0.5l0.4 0.7l0.4 0.4l0.4 0.6l0.4 0.6l0.4 0.2l0.4 0.6l0.4 0.5l0.4 0.5l0.4 0.4l0.4 0.7l0.4 0.4l0.4 0.4l0.4 0.5l0.4 0.6l0.4 0.7l1.3 0.8l1.3 0.7l1.3 1l1.3 0.3l1.3 0.3l1.3 0.8l1.3 0l1.3 -0.3l1.3 0.6l1.3 0.4l1.3 -0.3l1.3 -0.1l1.3 0.5l1.3 0.2l1.3 -0.3l1.3 0.1l1.3 0.4l1.3 -0.3l1.3 0.1l1.3 0.3l1.3 -0.3l1.3 -0.3l1.3 0.2l1.3 0.5l1.3 -0.1l1.3 -0.5l1.3 -0.2l1.3 0.6l1.3 0l1.3 -0.5l1.3 0.2l1.3 0l1.3 0.1l1.3 0.2l1.3 -0.2l1.3 0l1.3 0.2l1.3 0.2l1.3 0.3l1.3 -0.5l1.3 -0.5l1.3 0.3l1.3 0.3l1.3 -0.3l1.3 -0.5l1.3 0.4l1.3 0.2l1.3 -0.3l1.3 0l1.3 0.1l1.3 0.2l1.3 -0.3l1.3 0l1.3 0.6l1.3 -0.1l1.3 -0.2l1.3 -0.2l1.3 -0.1l1.3 0.3l1.3 -0.3l1.3 -0.1l1.3 0.2l1.3 0.2l1.3 -0.1l1.3 -0.3l1.3 0.1l1.3 0l1.3 0.1l1.3 0.3l1.3 0l1.3 0.3l1.3 0.1l1.3 -0.4l1.3 -0.3l1.3 0l1.3 1l1.3 0l1.3 -0.8l1.3 -0.1l1.3 0.1l1.3 0.2l1.3 0l1.3 0l1.3 -0.3l1.3 0.4l1.3 0.1l1.3 -0.3l1.3 -0.1l1.3 -0.2l1.3 -0.2l1.3 0.2l1.3 0l1.3 -0.3l1.3 0l1.3 0.2l1.3 -0.4l1.3 0.1l1.3 0.4l1.3 0.3l1.3 0.2l1.3 -0.6l1.3 0.2l1.3 0.4l1.3 -0.6l1.3 0.1l1.3 0l1.3 0.2l1.3 -0.2l1.3 -0.5l1.3 0.3l1.3 0.3l1.3 0.2l1.3 -0.2l1.3 -0.4l1.3 -0.1l1.3 0.3l1.3 0.4l1.3 -0.5l1.3 -0.1l1.3 0.6l1.3 0l1.3 -0.3l1.3 0.1l1.3 0.3l1.3 -0.1l0.6 -0.4"/>
<path d="M56.3 1005.2l1.3 -0.3l1.3 0.3l1.3 0.2l1.3 -0.1l1.3 -0.5l1.3 0l1.3 0.5l1.3 0.6l1.3 0l1.3 -0.5l1.3 0.2l1.3 -0.1l1.3 -0.3l1.3 0.2l1.3 0.1l1.3 0l1.3 0.1l1.3 -0.1l1.3 -0.2l1.3 -0.1l1.3 0.2l1.3 -0.1l1.3 -0.2l1.3 0.1l1.3 -0.3l1.3 0.1l1.3 0.5l1.3 -0.3l1.3 -0.1l1.3 0l1.3 0.2l1.3 0l1.3 0l1.3 0.1l1.3 -0.1l1.3 0.1l1.3 -0.1l1.3 0.4l1.3 0.2l1.3 -0.6l1.3 -0.4l1.3 0l1.3 0.2l1.3 -0.1l1.3 0.1l1.3 0.4l1.3 0.3l1.3 -0.2l1.3 -0.1l1.3 -0.4l1.3 -0.1l1.3 0.1l1.3 0l1.3 0.3l1.3 0.3l1.3 -0.3l1.3 -0.2l1.3 0.2l1.3 -0.1l1.3 -0.1l1.3 0.3l1.3 0.2l1.3 -0.2l1.3 0.3l1.3 -0.2l1.3 -0.3l1.3 0l1.3 0l1.3 -0.3l1.3 0.2l1.3 0.3l1.3 -0.4l1.3 0.1l1.3 0l1.3 -0.4l1.3 0.1l1.3 0.3l1.3 0l1.3 -0.1l1.3 0.2l1.3 0.3l1.3 -0.2l1.3 -0.5l1.3 -0.1l1.3 -0.2l1.3 -0.2l1.3 0.4l1.3 0.5l1.3 0.2l1.3 0l1.3 0l1.3 0.2l1.3 -0.4l1.3 -0.4l1.3 0.2l1.3 -0.1l1.3 0l1.3 0l1.3 -0.2l1.3 0.2l1.3 0.4l1.3 -0.3l1.3 -0.4l1.3 0.3l1.3 0.2l1.3 0l1.3 -0.4l1.3 0.2l1.3 0.3l1.3 0l1.3 0.1l1.3 -0.1l1.3 -0.6l1.3 -0.3l1.3 0.3l1.3 0.3l1.3 0.1l1.3 0.1l1.3 -0.3l1.3 -0.1l1.3 0.1l1.3 0.1l1.3 0.3l1.3 -0.2l1.3 -0.3l1.3 0.1l1.3 -0.2l1.3 -0.1l1.3 0l1.3 0.2l1.3 -0.5l1.3 0.2l1.3 0.6l1.3 0l1.3 -0.2l1.3 -0.3l1.3 -0.3l1.3 -0.2l1.3 -0.1l1.3 0l1.3 0l1.3 -0.3l1.3 -0.1l1.3 -0.2l1.3 -0.2l1.3 -0.7l1.3 -0.8l0.4 0l0.4 0.3l0.4 -0.3l0.4 0l0.4 0.3l0.4 -0.1l0.4 -0.2l0.4 -0.3l0.4 -0.4l0.4 -0.2l0.4 -0.4l0.4 -0.3l0.4 0.2l0.4 -0.8l0.4 -0.2l0.4 -0.3l0.4 -0.8l0.4 -0.6l0.4 -1l0.4 -1.1l0.4 -1.3l0.4 -1.5l0.4 -1.9l0.4 -2l0.4 -2.3l0.4 -3.1l0.4 -3.7l0.4 -3.8l0.4 -3.9l0.4 -4.7l0.4 -5.2l0.4 -5.6l0.4 -6l0.4 -6.4l0.4 -6.3l0.4 -6.1l0.4 -6.5l0.4 -5.6l0.4 -5.1l0.4 -4.6l0.4 -4.1l0.4 -3l0.4 -1.6l0.4 -0.9l0.4 -0.1l0.4 0.8l0.4 1.4l0.4 2.4l0.4 2.5l0.4 3.1l0.4 3.8l0.4 4l0.4 4.9l0.4 5.1l0.4 4.9l0.4 5.3l0.4 5.2l0.4 5.4l0.4 5.1l0.4 4.9l0.4 4.9l0.4 4.2l0.4 4.4l0.4 4.3l0.4 3.7l0.4 3.1l0.4 2.6l0.4 2.5l0.4 2l0.4 1.7l0.4 2l0.4 1.5l0.4 1.2l0.4 0.9l0.4 0.6l0.4 0.9l0.4 0.6l0.4 0.1l0.4 0.9l0.4 0.6l0.4 0.1l0.4 0.3l0.4 -0.1l0.4 0.1l0.4 0.3l0.4 0l0.4 0.1l0.4 0.1l1.3 0.5l1.3 0.4l1.3 0.2l1.3 -0.1l1.3 0.1l1.3 0.7l1.3 -0.1l1.3 -0.2l1.3 0.5l1.3 0.1l1.3 0l1.3 0l1.3 -0.6l1.3 0.5l1.3 0.7l1.3 -0.7l1.3 -0.1l1.3 0.3l1.3 -0.2l1.3 -0.4l1.3 0.3l1.3 0.5l1.3 -0.3l1.3 -0.4l1.3 0.5l1.3 0.4l1.3 -0.2l1.3 0.1l1.3 0.1l1.3 -0.4l1.3 0l1.3 0.7l1.3 -0.2l1.3 -0.2l1.3 0.1l1.3 -0.1l1.3 0.2l1.3 0l1.3 0.2l1.3 -0.2l1.3 0.1l1.3 0.1l1.3 -0.5l1.3 0.5l1.3 0.2l1.3 -0.6l1.3 0.1l1.3 0.2l1.3 0.2l1.3 0.2l1.3 -0.2l1.3 -0.2l1.3 0.1l1.3 0l1.3 0l1.3 0l1.3 -0.3l1.3 0.1l1.3 0.3l1.3 0l1.3 -0.3l1.3 -0.2l1.3 -0.4l1.3 -0.4l1.3 0.5l1.3 0.5l1.3 0l1.3 0l1.3 0.1l1.3 -0.2l1.3 0l1.3 0.3l1.3 -0.2l1.3 0l1.3 0l1.3 -0.1l1.3 0.1l1.3 -0.1l1.3 -0.4l1.3 0.3l1.3 0.2l1.3 -0.3l1.3 0.2l1.3 0l1.3 -0.2l1.3 0l1.3 0.1l1.3 0.2l1.3 0.1l1.3 -0.1l1.3 -0.3l1.3 0l1.3 0.1l1.3 0.1l1.3 -0.2l1.3 -0.1l1.3 -0.3l1.3 0l1.3 0.2l0.4 0l0.4 0.1l0.4 -0.1l0.4 0.2l0.4 -0.5l0.4 -0.5l0.4 0.3l0.4 0.3l0.4 -0.3l0.4 -0.3l0.4 0l0.4 0.2l0.4 -0.1l0.4 -0.5l0.4 0.1l0.4 0.1l0.4 0.1l0.4 0.2l0.4 -0.4l0.4 0l0.4 0.2l0.4 -0.2l0.4 -0.4l0.4 -0.3l0.4 0.1l0.4 0.4l0.4 0l0.4 -0.3l0.4 0.2l0.4 -0.4l0.4 -0.5l0.4 0l0.4 -0.2l0.4 -0.1l0.4 -0.3l0.4 0.2l0.4 -0.3l0.4 -0.3l0.4 0l0.4 0.1l0.4 0.3l0.4 0.1l0.4 -0.4l0.4 -0.4l0.4 0.4l0.4 0.4l0.4 -0.2l0.4 0.1l0.4 0.3l0.4 0l0.4 0.6l0.4 0l0.4 -0.2l0.4 0.3l0.4 -0.1l0.4 0l0.4 0l0.4 0.3l0.4 0.1l0.4 0.3l0.4 0.3l0.4 0.1l0.4 0.1l0.4 0.1l0.4 -0.2l0.4 0l0.4 0.1l0.4 0.1l0.4 0.2l0.4 0.2l0.4 0.1l0.4 0.2l0.4 0.3l0.4 -0.2l0.4 -0.3l0.4 0l0.4 0.3l0.4 0.2l0.4 0.1l1.3 0.1l1.3 0l1.3 0l1.3 0.3l1.3 -0.1l1.3 -0.4l1.3 0.4l1.3 0.2l1.3 -0.5l1.3 -0.1l1.3 0l1.3 0.3l1.3 -0.1l1.3 -0.3l1.3 -0.1l1.3 -0.1l1.3 0.3l1.3 -0.1l1.3 -0.1l1.3 0.4l1.3 0.1l1.3 0l1.3 0.1l1.3 0.3l1.3 0l1.3 -0.1l1.3 -0.2l1.3 0l1.3 -0.5l1.3 0.3l1.3 0.3l1.3 -0.4l1.3 0.1l1.3 0.1l1.3 0l1.3 -0.3l1.3 -0.1l1.3 0.4l1.3 0.1l1.3 -0.3l1.3 -0.1l1.3 -0.2l1.3 0.1l1.3 0.2l1.3 0.1l1.3 -0.3l1.3 -0.2l1.3 -0.1l1.3 0.2l1.3 0.5l1.3 0.1l1.3 0.1l1.3 -0.1l1.3 0l1.3 -0.1l1.3 -0.3l1.3 0.1l1.3 0l1.3 0.2l1.3 -0.2l1.3 -0.4l1.3 -0.1l1.3 0.3l1.3 0l1.3 0.4l1.3 0.1l1.3 -0.5l1.3 0.2l1.3 0.2l1.3 -0.2l1.3 -0.1l1.3 0.1l1.3 0.2l1.3 0l1.3 0.1l1.3 -0.4l1.3 0.1l1.3 -0.1l1.3 -0.5l1.3 0l1.3 0.2l1.3 0.7l1.3 0.1l1.3 -0.4l1.3 0l1.3 0.2l1.3 -0.3l1.3 -0.1l1.3 0.4l1.3 0.2l1.3 -0.1l1.3 -0.3l1.3 -0.1l1.3 -0.2l1.3 0l1.3 0.3l1.3 0.1l1.3 0.2l1.3 -0.4l1.3 -0.3l1.3 0.3l1.3 0l1.3 0.2l1.3 0l1.3 -0.4l1.3 0.1l1.3 0.2l1.3 0l1.3 -0.1l1.3 0.1l1.3 -0.1l1.3 0l1.3 0.3l1.3 0.1l1.3 -0.3l1.3 -0.3l1.3 -0.1l1.3 -0.1l1.3 0.3l1.3 0.1l1.3 -0.1l1.3 0.4l1.3 0.2l1.3 0l0.4 -0.6l0.4 -0.1l0.4 0l0.4 -0.2l0.4 -0.4l0.4 0.4l0.4 0.3l0.4 -0.1l0.4 0.1l0.4 -0.2l0.4 -0.2l0.4 0.2l0.4 0.2l0.4 -0.1l0.4 -0.3l0.4 -0.4l0.4 -0.3l0.4 -0.7l0.4 -0.1l0.4 -0.3l0.4 -0.8l0.4 -0.6l0.4 -0.6l0.4 -0.3l0.4 -0.8l0.4 -1.5l0.4 -1.3l0.4 -1.7l0.4 -1.8l0.4 -1.6l0.4 -1.8l0.4 -1.6l0.4 -2.2l0.4 -1.9l0.4 -1.5l0.4 -2.1l0.4 -2.2l0.4 -1.8l0.4 -1.4l0.4 -1.7l0.4 -1.8l0.4 -1.1l0.4 -0.5l0.4 -0.9l0.4 -0.2l0.4 0.2l0.4 0l0.4 0.6l0.4 0.4l0.4 0.2l0.4 0.9l0.4 0.9l0.4 1l0.4 1.1l0.4 0.8l0.4 1.4l0.4 1.2l0.4 0.9l0.4 1.5l0.4 1.1l0.4 0.9l0.4 1.6l0.4 1.3l0.4 1.1l0.4 0.9l0.4 0.8l0.4 0.9l0.4 1l0.4 0.9l0.4 0.7l0.4 0.5l0.4 0.3l0.4 0.4l0.4 0.4l0.4 0.5l0.4 0.5l0.4 0.4l0.4 0.3l0.4 0.7l0.4 0.9l0.4 0.4l0.4 0.4l0.4 0.6l0.4 0.4l0.4 0.4l0.4 0.8l0.4 0.2l0.4 0.2l1.3 1.4l1.3 0.7l1.3 0.7l1.3 0.4l1.3 1.1l1.3 0.4l1.3 -0.1l1.3 0.5l1.3 0.2l1.3 -0.1l1.3 -0.3l1.3 0l1.3 0.3l1.3 0.2l1.3 0.2l1.3 -0.4l1.3 0l1.3 0.5l1.3 0.1l1.3 -0.1l1.3 0.2l1.3 -0.3l1.3 -0.7l1.3 0.6l1.3 0.3l1.3 -0.2l1.3 -0.1l1.3 -0.1l1.3 0.6l1.3 0.3l1.3 -0.2l1.3 -0.3l1.3 -0.3l1.3 -0.3l1.3 -0.3l1.3 0.4l1.3 0.3l1.3 0l1.3 0l1.3 0.3l1.3 0l1.3 -0.4l1.3 0l1.3 0.1l1.3 0.1l1.3 0.1l1.3 -0.3l1.3 0l1.3 0.4l1.3 0.5l1.3 -0.1l1.3 -0.5l1.3 -0.3l1.3 0.2l1.3 -0.2l1.3 0l1.3 0l1.3 -0.5l1.3 0.2l1.3 0.3l1.3 0.4l1.3 0.2l1.3 -0.5l1.3 -0.2l1.3 -0.1l1.3 0.6l1.3 0.4l1.3 -0.5l1.3 -0.5l1.3 0.3l1.3 0.1l1.3 -0.5l1.3 0.2l1.3 0.3l1.3 0l1.3 0l1.3 -0.1l1.3 0l1.3 -0.1l1.3 0.2l1.3 -0.1l1.3 -0.1l1.3 0.3l1.3 -0.4l1.3 0.1l1.3 0.3l1.3 0l1.3 0.4l1.3 -0.2l1.3 -0.5l1.3 -0.2l1.3 -0.2l1.3 0l1.3 0.5l1.3 0.4l1.3 -0.4l1.3 0l1.3 0.4l1.3 -0.3l1.3 -0.4l1.3 0.1l1.3 0l1.3 -0.3l1.3 0.3l1.3 0.1l1.3 -0.4l1.3 -0.1l1.3 0.3l1.3 0.6l1.3 0.2l1.3 -0.4l1.3 -0.1l1.3 0l1.3 0l1.3 -0.3l1.3 0.5l1.3 -0.1l1.3 -0.4l1.3 0.7l1.3 0.2l1.3 -0.1l1.3 -0.6l1.3 0l1.3 0.6l1.3 -0.6l1.3 0.3l0.1 0.6"/>
<path d="M56.3 1044.6l1.3 0.5l1.3 0.1l1.3 -0.2l1.3 0l1.3 0.1l1.3 0l1.3 -0.2l1.3 0.3l1.3 0.3l1.3 -0.3l1.3 -0.3l1.3 -0.2l1.3 0.2l1.3 0l1.3 -0.4l1.3 0.2l1.3 0.5l1.3 0l1.3 -0.1l1.3 -0.2l1.3 -0.2l1.3 0l1.3 0.1l1.3 -0.1l1.3 -0.1l1.3 0l1.3 0.2l1.3 0.4l1.3 0l1.3 -0.3l1.3 -0.3l1.3 -0.1l1.3 0.4l1.3 0.1l1.3 -0.1l1.3 0.3l1.3 0.3l1.3 -0.1l1.3 -0.4l1.3 -0.2l1.3 0.2l1.3 0l1.3 0.2l1.3 0.1l1.3 -0.5l1.3 0.2l1.3 0.2l1.3 -0.1l1.3 -0.1l1.3 -0.2l1.3 0l1.3 0.1l1.3 -0.1l1.3 0.1l1.3 0.1l1.3 0.1l1.3 -0.2l1.3 0.2l1.3 -0.2l1.3 -0.8l1.3 0.3l1.3 1l1.3 -0.5l1.3 -0.5l1.3 0.4l1.3 0.1l1.3 0l1.3 0l1.3 0l1.3 0l1.3 0.1l1.3 -0.1l1.3 -0.3l1.3 -0.1l1.3 0l1.3 -0.2l1.3 0.2l1.3 0.4l1.3 0.1l1.3 -0.1l1.3 0l1.3 0.1l1.3 0.1l1.3 0.1l1.3 -0.2l1.3 -0.2l1.3 0.1l1.3 0.1l1.3 0.1l1.3 0.2l1.3 -0.4l1.3 -0.2l1.3 0.2l1.3 0.3l1.3 0l1.3 -0.2l1.3 0.1l1.3 -0.2l1.3 -0.4l1.3 -0.1l1.3 0.3l1.3 -0.1l1.3 0.3l1.3 0.3l1.3 -0.2l1.3 0l1.3 -0.3l1.3 -0.2l1.3 0l1.3 0.3l1.3 0.1l1.3 -0.7l1.3 0.1l1.3 0.7l1.3 0.1l1.3 -0.2l1.3 0.1l1.3 0l1.3 -0.2l1.3 0l1.3 -0.1l1.3 0l1.3 -0.4l1.3 0l1.3 0.3l1.3 0l1.3 0.1l1.3 0.1l1.3 -0.5l1.3 -0.1l1.3 0.7l1.3 -0.2l1.3 -0.4l1.3 -0.3l1.3 -0.1l1.3 0.4l1.3 0.4l1.3 0l1.3 -0.5l1.3 -0.4l1.3 -0.5l1.3 0l1.3 -0.3l1.3 -0.1l1.3 0.1l1.3 -0.5l1.3 -0.2l0.4 -0.1l0.4 -0.3l0.4 -0.2l0.4 -0.4l0.4 0.1l0.4 -0.1l0.4 -0.1l0.4 0l0.4 -0.5l0.4 -0.3l0.4 0.1l0.4 0.1l0.4 -0.3l0.4 -0.6l0.4 -0.7l0.4 -0.7l0.4 -0.4l0.4 -0.4l0.4 -0.8l0.4 -1l0.4 -1.2l0.4 -1.6l0.4 -1.9l0.4 -1.9l0.4 -2.7l0.4 -3.1l0.4 -3.1l0.4 -4.1l0.4 -4.5l0.4 -4.7l0.4 -4.6l0.4 -5.2l0.4 -6.1l0.4 -6.2l0.4 -5.9l0.4 -5.7l0.4 -5.5l0.4 -5.9l0.4 -5.6l0.4 -4.5l0.4 -3.8l0.4 -3.1l0.4 -2.1l0.4 -1l0.4 0.3l0.4 1l0.4 1.5l0.4 2.5l0.4 2.6l0.4 3.2l0.4 3.7l0.4 3.8l0.4 4.8l0.4 4.8l0.4 4.5l0.4 5.2l0.4 5.4l0.4 5.1l0.4 5.1l0.4 4.6l0.4 4.5l0.4 4.5l0.4 4.1l0.4 3.9l0.4 3.3l0.4 3.2l0.4 2.9l0.4 2.5l0.4 2.2l0.4 1.6l0.4 1.4l0.4 1.3l0.4 1l0.4 1.2l0.4 1.2l0.4 0.5l0.4 0.7l0.4 0.6l0.4 0.2l0.4 0.4l0.4 0.6l0.4 0.2l0.4 0.2l0.4 0.3l0.4 0.1l0.4 0.2l0.4 0.4l0.4 0l1.3 0.2l1.3 -0.2l1.3 0.2l1.3 0.4l1.3 0.4l1.3 0.3l1.3 -0.3l1.3 -0.3l1.3 -0.2l1.3 0.3l1.3 0.2l1.3 0.3l1.3 0.3l1.3 -0.2l1.3 -0.5l1.3 0l1.3 0.6l1.3 0.3l1.3 0l1.3 -0.1l1.3 -0.1l1.3 0.4l1.3 0.5l1.3 -0.4l1.3 -0.5l1.3 0.6l1.3 -0.1l1.3 -0.2l1.3 0.1l1.3 -0.5l1.3 -0.3l1.3 0.4l1.3 0.4l1.3 0l1.3 -0.1l1.3 -0.1l1.3 -0.1l1.3 -0.3l1.3 0.5l1.3 0.7l1.3 0l1.3 -0.6l1.3 -0.3l1.3 -0.1l1.3 -0.1l1.3 0.6l1.3 -0.1l1.3 -0.6l1.3 0.4l1.3 0.4l1.3 -0.2l1.3 -0.2l1.3 0l1.3 -0.4l1.3 0.1l1.3 0.3l1.3 0.1l1.3 0.2l1.3 -0.5l1.3 -0.1l1.3 0.2l1.3 0.2l1.3 0.2l1.3 -0.1l1.3 -0.1l1.3 0l1.3 0.1l1.3 -0.1l1.3 -0.2l1.3 -0.1l1.3 -0.1l1.3 0.5l1.3 0.3l1.3 -0.3l1.3 0l1.3 -0.5l1.3 -0.1l1.3 0.7l1.3 0.2l1.3 -0.4l1.3 0.1l1.3 0l1.3 0.1l1.3 0l1.3 0.1l1.3 -0.1l1.3 -0.5l1.3 0.1l1.3 0.2l1.3 -0.4l1.3 -0.2l1.3 0.3l1.3 0l1.3 0.1l1.3 -0.1l1.3 0l1.3 0.2l1.3 -0.1l1.3 0.3l0.4 -0.1l0.4 -0.6l0.4 0.1l0.4 0.3l0.4 -0.1l0.4 0.3l0.4 0.4l0.4 -0.4l0.4 -0.3l0.4 0l0.4 0l0.4 -0.1l0.4 0.4l0.4 0.1l0.4 -0.2l0.4 0.1l0.4 0.1l0.4 -0.2l0.4 0l0.4 0.6l0.4 -0.5l0.4 -0.3l0.4 0.1l0.4 -0.2l0.4 0l0.4 -0.2l0.4 0l0.4 0l0.4 0l0.4 -0.1l0.4 -0.4l0.4 0.4l0.4 0.4l0.4 -0.5l0.4 -0.2l0.4 0.3l0.4 0l0.4 0l0.4 0.1l0.4 0.2l0.4 0l0.4 -0.2l0.4 -0.1l0.4 -0.1l0.4 0.5l0.4 0l0.4 -0.4l0.4 -0.1l0.4 -0.3l0.4 0.3l0.4 0.4l0.4 0.1l0.4 -0.2l0.4 -0.1l0.4 0.3l0.4 -0.1l0.4 -0.1l0.4 0.2l0.4 -0.2l0.4 -0.1l0.4 0.2l0.4 0.3l0.4 0.2l0.4 -0.2l0.4 -0.1l0.4 0.4l0.4 0.1l0.4 -0.4l0.4 -0.3l0.4 0.1l0.4 0.2l0.4 0l0.4 0.1l0.4 0.3l0.4 -0.5l0.4 -0.3l0.4 0.4l0.4 0.3l0.4 -0.1l1.3 -0.2l1.3 -0.1l1.3 0.2l1.3 0.1l1.3 0.2l1.3 -0.2l1.3 0l1.3 0.3l1.3 -0.4l1.3 0.1l1.3 0.1l1.3 0.1l1.3 0.1l1.3 -0.1l1.3 0l1.3 0l1.3 -0.4l1.3 -0.1l1.3 0.4l1.3 0l1.3 -0.3l1.3 0.3l1.3 0.6l1.3 -0.5l1.3 -0.5l1.3 0l1.3 0.3l1.3 0.1l1.3 -0.4l1.3 -0.2l1.3 0.2l1.3 0.2l1.3 -0.3l1.3 0l1.3 0.4l1.3 -0.2l1.3 -0.1l1.3 0.3l1.3 0.2l1.3 0l1.3 -0.3l1.3 0l1.3 0.1l1.3 -0.1l1.3 0.2l1.3 0l1.3 0l1.3 0l1.3 -0.2l1.3 -0.4l1.3 0.4l1.3 0.2l1.3 -0.2l1.3 -0.2l1.3 0.4l1.3 0.3l1.3 -0.5l1.3 0.2l1.3 0.1l1.3 -0.3l1.3 0l1.3 0.4l1.3 0.2l1.3 -0.4l1.3 0l1.3 0.4l1.3 -0.3l1.3 0l1.3 -0.3l1.3 -0.3l1.3 0.3l1.3 -0.1l1.3 0.2l1.3 0.1l1.3 -0.2l1.3 -0.2l1.3 0l1.3 0.1l1.3 -0.2l1.3 0l1.3 0.5l1.3 0.1l1.3 -0.5l1.3 -0.4l1.3 0.4l1.3 0.4l1.3 0.5l1.3 -0.1l1.3 -0.4l1.3 -0.3l1.3 -0.1l1.3 0.1l1.3 0l1.3 0.4l1.3 -0.1l1.3 0.1l1.3 0.2l1.3 -0.3l1.3 0.2l1.3 -0.2l1.3 -0.1l1.3 0l1.3 -0.2l1.3 0.2l1.3 -0.1l1.3 0.1l1.3 0.1l1.3 0l1.3 0.1l1.3 -0.5l1.3 -0.2l1.3 0.2l1.3 -0.1l1.3 0.2l1.3 0l1.3 0l1.3 0.3l1.3 -0.1l1.3 -0.3l1.3 -0.1l1.3 -0.1l1.3 0.1l1.3 0l0.4 0.2l0.4 0.3l0.4 0l0.4 -0.2l0.4 -0.4l0.4 0.2l0.4 0.4l0.4 -0.1l0.4 -0.7l0.4 -0.2l0.4 0.2l0.4 -0.2l0.4 -0.1l0.4 0.3l0.4 0.2l0.4 -0.9l0.4 -0.1l0.4 0.3l0.4 -0.2l0.4 0.4l0.4 -0.6l0.4 -0.8l0.4 0.1l0.4 -0.4l0.4 -0.8l0.4 -0.9l0.4 -0.8l0.4 -1.3l0.4 -1.2l0.4 -1.3l0.4 -1.4l0.4 -1.1l0.4 -1.6l0.4 -1.9l0.4 -1.8l0.4 -1.6l0.4 -1.9l0.4 -2.1l0.4 -2l0.4 -1.7l0.4 -1.6l0.4 -1.4l0.4 -1.2l0.4 -1.1l0.4 -0.7l0.4 -0.7l0.4 -0.4l0.4 -0.1l0.4 -0.5l0.4 0.5l0.4 1l0.4 -0.1l0.4 0.8l0.4 0.8l0.4 0.4l0.4 1.2l0.4 1l0.4 0.9l0.4 1.2l0.4 1.3l0.4 1.3l0.4 1.1l0.4 0.8l0.4 1.1l0.4 1.5l0.4 0.9l0.4 1l0.4 1.1l0.4 0.5l0.4 0.2l0.4 0.6l0.4 0.7l0.4 0.7l0.4 0.7l0.4 0.4l0.4 0.6l0.4 0.8l0.4 0.4l0.4 0.6l0.4 0.1l0.4 0.2l0.4 1.4l0.4 0.4l0.4 -0.2l0.4 0.3l0.4 0.7l0.4 0.7l0.4 0.6l0.4 0.1l0.4 0l1.3 1.3l1.3 0.9l1.3 0.6l1.3 0.8l1.3 0.7l1.3 0l1.3 0.3l1.3 0.5l1.3 0.4l1.3 0.1l1.3 -0.1l1.3 0l1.3 -0.2l1.3 -0.1l1.3 0.1l1.3 0.2l1.3 -0.5l1.3 -0.3l1.3 0.6l1.3 -0.1l1.3 -0.3l1.3 0.3l1.3 0.3l1.3 -0.2l1.3 0.1l1.3 0.3l1.3 -0.2l1.3 -0.1l1.3 -0.4l1.3 0.4l1.3 0.6l1.3 -0.2l1.3 -0.3l1.3 0.1l1.3 -0.1l1.3 -0.4l1.3 0.1l1.3 0.5l1.3 0l1.3 -0.3l1.3 -0.1l1.3 0.2l1.3 0l1.3 -0.3l1.3 0.1l1.3 -0.1l1.3 -0.2l1.3 0.3l1.3 0.1l1.3 0.2l1.3 -0.2l1.3 -0.3l1.3 0.4l1.3 0.3l1.3 0.1l1.3 -0.1l1.3 -0.2l1.3 0.1l1.3 0.2l1.3 -0.5l1.3 -0.3l1.3 0.1l1.3 -0.3l1.3 -0.1l1.3 0.2l1.3 0.8l1.3 0.1l1.3 -0.5l1.3 -0.2l1.3 0.1l1.3 0.4l1.3 -0.3l1.3 -0.2l1.3 0.3l1.3 0.2l1.3 -0.3l1.3 -0.2l1.3 0.2l1.3 -0.1l1.3 0.1l1.3 0.3l1.3 0.2l1.3 -0.2l1.3 -0.2l1.3 -0.1l1.3 -0.2l1.3 -0.1l1.3 0.1l1.3 0.4l1.3 0.3l1.3 -0.2l1.3 -0.2l1.3 -0.3l1.3 -0.1l1.3 0.4l1.3 0l1.3 0l1.3 -0.1l1.3 -0.4l1.3 0.1l1.3 0.7l1.3 0.1l1.3 -0.3l1.3 -0.1l1.3 -0.3l1.3 -0.3l1.3 0.2l1.3 0.5l1.3 -0.1l1.3 -0.2l1.3 0.4l1.3 0.3l1.3 -0.2l1.3 -0.2l1.3 0.3l1.3 -0.2l1.3 -0.6l1.3 0.1l1.3 0.3l1.3 0.2l1.3 -0.4l1.3 -0.3l1.3 0.3l1.3 0.1l1.3 0.4l1.3 0.1l0.6 -0.4"/>
<path d="M56.3 1084.6l1.3 0.3l1.3 0.1l1.3 0l1.3 0.1l1.3 0.1l1.3 0l1.3 -0.2l1.3 0.3l1.3 -0.1l1.3 -0.4l1.3 0.4l1.3 0.4l1.3 -0.6l1.3 -0.1l1.3 0.6l1.3 -0.2l1.3 -0.3l1.3 0l1.3 0.2l1.3 0l1.3 -0.1l1.3 0l1.3 0.1l1.3 0.1l1.3 0.1l1.3 0l1.3 -0.4l1.3 -0.5l1.3 -0.1l1.3 0.5l1.3 0.2l1.3 -0.2l1.3 0.2l1.3 0.2l1.3 -0.3l1.3 0.2l1.3 0.1l1.3 -0.6l1.3 0.5l1.3 0.2l1.3 -0.1l1.3 -0.1l1.3 0l1.3 0l1.3 -0.1l1.3 0.2l1.3 -0.2l1.3 0.3l1.3 0.1l1.3 -0.2l1.3 0.1l1.3 -0.2l1.3 -0.2l1.3 0.3l1.3 -0.4l1.3 0l1.3 0.6l1.3 -0.2l1.3 -0.2l1.3 -0.2l1.3 0.2l1.3 -0.1l1.3 0l1.3 -0.1l1.3 -0.1l1.3 -0.1l1.3 0.2l1.3 0.3l1.3 -0.2l1.3 -0.1l1.3 -0.2l1.3 -0.1l1.3 0.3l1.3 0.2l1.3 0.2l1.3 -0.1l1.3 -0.6l1.3 0l1.3 0.1l1.3 0.3l1.3 0.3l1.3 -0.4l1.3 -0.1l1.3 0.2l1.3 0.3l1.3 -0.5l1.3 0.2l1.3 0.1l1.3 -0.4l1.3 0.3l1.3 0.1l1.3 0.2l1.3 0.2l1.3 -0.1l1.3 -0.3l1.3 0.1l1.3 -0.2l1.3 -0.4l1.3 0l1.3 0.3l1.3 0.3l1.3 -0.1l1.3 -0.3l1.3 0.2l1.3 0.1l1.3 0l1.3 0.2l1.3 -0.3l1.3 -0.2l1.3 0l1.3 0.3l1.3 -0.2l1.3 -0.5l1.3 0.4l1.3 0.6l1.3 -0.7l1.3 -0.3l1.3 0.4l1.3 0.1l1.3 -0.1l1.3 0l1.3 0.2l1.3 0l1.3 0.1l1.3 0.1l1.3 -0.3l1.3 -0.3l1.3 -0.2l1.3 0.1l1.3 0l1.3 0.2l1.3 0.2l1.3 -0.4l1.3 -0.3l1.3 0.1l1.3 0l1.3 -0.4l1.3 0.1l1.3 0.1l1.3 -0.5l1.3 -0.5l1.3 0l1.3 0l1.3 -0.4l1.3 0l0.4 0l0.4 -0.2l0.4 0.1l0.4 -0.4l0.4 -0.5l0.4 0.1l0.4 -0.1l0.4 -0.2l0.4 0l0.4 -0.3l0.4 -0.5l0.4 -0.1l0.4 -0.2l0.4 -0.7l0.4 -0.4l0.4 0.6l0.4 -0.4l0.4 -0.3l0.4 -1l0.4 -1.2l0.4 -0.5l0.4 -1l0.4 -0.9l0.4 -1.3l0.4 -2l0.4 -2.6l0.4 -2.4l0.4 -2.9l0.4 -3.5l0.4 -3.9l0.4 -4.6l0.4 -4.9l0.4 -4.6l0.4 -5.3l0.4 -6.1l0.4 -6.2l0.4 -6.4l0.4 -6.2l0.4 -6.2l0.4 -6.1l0.4 -5.6l0.4 -4.5l0.4 -4.5l0.4 -3.4l0.4 -1.4l0.4 -1l0.4 -0.4l0.4 0.8l0.4 1.6l0.4 2.2l0.4 3.1l0.4 3l0.4 3.9l0.4 4.8l0.4 4.2l0.4 4.2l0.4 5.2l0.4 5.4l0.4 5.3l0.4 5.3l0.4 5.4l0.4 4.7l0.4 4.9l0.4 5.2l0.4 4.1l0.4 3.6l0.4 3.2l0.4 3.5l0.4 3.2l0.4 2.7l0.4 2.5l0.4 1.9l0.4 1.3l0.4 1.5l0.4 1.5l0.4 1.1l0.4 1.2l0.4 0.7l0.4 0.6l0.4 0.3l0.4 0l0.4 0.4l0.4 0.4l0.4 0.3l0.4 -0.2l0.4 -0.1l0.4 0.4l0.4 0.3l0.4 0.3l0.4 0.6l1.3 0.3l1.3 -0.4l1.3 0.2l1.3 0.6l1.3 0.2l1.3 0l1.3 0.4l1.3 -0.1l1.3 0.2l1.3 0l1.3 -0.5l1.3 0.3l1.3 0.3l1.3 -0.3l1.3 -0.1l1.3 0.4l1.3 0.2l1.3 -0.1l1.3 0.1l1.3 -0.2l1.3 -0.2l1.3 0.2l1.3 0.2l1.3 0.5l1.3 -0.1l1.3 -0.1l1.3 -0.1l1.3 -0.4l1.3 0.1l1.3 0.3l1.3 0.1l1.3 0.1l1.3 -0.1l1.3 -0.2l1.3 0l1.3 -0.2l1.3 0l1.3 0.5l1.3 0l1.3 -0.3l1.3 0.1l1.3 -0.1l1.3 0.2l1.3 0.6l1.3 -0.4l1.3 -0.6l1.3 0.1l1.3 0.2l1.3 0.2l1.3 0l1.3 0l1.3 -0.2l1.3 -0.5l1.3 0l1.3 0.4l1.3 0.1l1.3 0.4l1.3 -0.4l1.3 -0.1l1.3 0.1l1.3 -0.5l1.3 0.2l1.3 0.6l1.3 0.2l1.3 -0.1l1.3 -0.4l1.3 0.2l1.3 0.1l1.3 -0.6l1.3 0l1.3 0.4l1.3 -0.1l1.3 0l1.3 0.1l1.3 0.2l1.3 0l1.3 -0.2l1.3 -0.3l1.3 0.2l1.3 0.5l1.3 -0.1l1.3 -0.1l1.3 -0.2l1.3 -0.1l1.3 0.1l1.3 0.2l1.3 -0.2l1.3 -0.3l1.3 0l1.3 0.4l1.3 0l1.3 0.2l1.3 0.2l1.3 -0.7l1.3 0.1l1.3 0.8l1.3 0.2l1.3 -0.6l1.3 -0.5l1.3 0.3l0.4 0l0.4 -0.2l0.4 0.3l0.4 -0.2l0.4 -0.2l0.4 0l0.4 -0.1l0.4 -0.3l0.4 0.5l0.4 0.4l0.4 -0.6l0.4 0.1l0.4 0.3l0.4 0l0.4 -0.1l0.4 0.2l0.4 -0.3l0.4 -0.1l0.4 0.8l0.4 0l0.4 -0.6l0.4 -0.3l0.4 0.3l0.4 -0.1l0.4 -0.4l0.4 0l0.4 0.1l0.4 0.2l0.4 -0.2l0.4 -0.2l0.4 0.9l0.4 0.2l0.4 -0.2l0.4 0.1l0.4 -0.7l0.4 -0.2l0.4 0.3l0.4 0.2l0.4 -0.2l0.4 0l0.4 0.1l0.4 0.1l0.4 0.3l0.4 0l0.4 0.3l0.4 -0.2l0.4 -0.4l0.4 -0.1l0.4 -0.1l0.4 0l0.4 0.1l0.4 0.1l0.4 -0.1l0.4 0.5l0.4 -0.1l0.4 -0.3l0.4 -0.1l0.4 0.2l0.4 0.4l0.4 -0.1l0.4 -0.1l0.4 0.2l0.4 -0.2l0.4 -0.4l0.4 0.1l0.4 -0.3l0.4 -0.2l0.4 0.1l0.4 0.1l0.4 0.3l0.4 -0.2l0.4 0.1l0.4 0.1l0.4 -0.1l0.4 0l0.4 -0.1l0.4 0l0.4 0.1l0.4 0.3l1.3 -0.6l1.3 0.2l1.3 0.4l1.3 -0.3l1.3 -0.2l1.3 0.2l1.3 0.2l1.3 -0.4l1.3 0.1l1.3 0.2l1.3 -0.2l1.3 0.1l1.3 -0.2l1.3 0l1.3 0.3l1.3 0.1l1.3 -0.1l1.3 -0.2l1.3 0.3l1.3 0.2l1.3 0.1l1.3 -0.1l1.3 0l1.3 -0.3l1.3 0.1l1.3 0.6l1.3 -0.4l1.3 -0.6l1.3 0l1.3 0.4l1.3 0.3l1.3 -0.6l1.3 -0.4l1.3 0.5l1.3 0.2l1.3 -0.3l1.3 -0.1l1.3 0l1.3 -0.2l1.3 -0.1l1.3 0.4l1.3 0.3l1.3 0.2l1.3 -0.4l1.3 0l1.3 0l1.3 0.2l1.3 0.4l1.3 0l1.3 -0.1l1.3 -0.5l1.3 0.1l1.3 0.2l1.3 -0.2l1.3 -0.2l1.3 0.4l1.3 0.3l1.3 -0.2l1.3 0.2l1.3 -0.3l1.3 0.1l1.3 0.1l1.3 -0.2l1.3 -0.1l1.3 0l1.3 0l1.3 0.2l1.3 0.1l1.3 -0.7l1.3 0.3l1.3 0.2l1.3 -0.4l1.3 0.2l1.3 0.1l1.3 0.1l1.3 0l1.3 0.2l1.3 -0.3l1.3 -0.2l1.3 0.3l1.3 0l1.3 -0.2l1.3 0.1l1.3 0.1l1.3 -0.2l1.3 0.1l1.3 0.2l1.3 -0.2l1.3 -0.2l1.3 0.2l1.3 0l1.3 0l1.3 0.2l1.3 -0.2l1.3 -0.3l1.3 0l1.3 0.3l1.3 -0.1l1.3 0.1l1.3 0.1l1.3 0l1.3 0l1.3 -0.5l1.3 0l1.3 0.1l1.3 0l1.3 0.4l1.3 -0.6l1.3 -0.1l1.3 0.6l1.3 0.2l1.3 0l1.3 -0.1l1.3 -0.4l1.3 -0.4l1.3 0.6l1.3 0.1l1.3 -0.2l1.3 0.3l1.3 -0.3l1.3 -0.2l1.3 0.1l0.4 0.1l0.4 -0.2l0.4 -0.1l0.4 -0.1l0.4 0.1l0.4 0.3l0.4 -0.1l0.4 0.1l0.4 0.1l0.4 -0.4l0.4 -0.4l0.4 0.1l0.4 0.2l0.4 -0.2l0.4 -0.1l0.4 0l0.4 -0.4l0.4 -0.3l0.4 0l0.4 -0.4l0.4 -0.6l0.4 -0.3l0.4 -0.4l0.4 -0.9l0.4 -1.5l0.4 -1.3l0.4 -0.6l0.4 -0.7l0.4 -1.7l0.4 -1.6l0.4 -1.4l0.4 -2.1l0.4 -2l0.4 -1.5l0.4 -1.9l0.4 -2.1l0.4 -2l0.4 -2.1l0.4 -1.6l0.4 -1.4l0.4 -1.4l0.4 -1.8l0.4 -1.3l0.4 -0.7l0.4 -0.7l0.4 -0.3l0.4 0l0.4 0.1l0.4 -0.1l0.4 0.4l0.4 1.1l0.4 0.6l0.4 0.6l0.4 1.1l0.4 1l0.4 1.4l0.4 1.2l0.4 0.6l0.4 0.9l0.4 1.7l0.4 1.9l0.4 1.4l0.4 0.8l0.4 0.6l0.4 1.2l0.4 1.3l0.4 0.6l0.4 0.6l0.4 0.7l0.4 0.6l0.4 0.6l0.4 0.8l0.4 0.7l0.4 0.4l0.4 0.2l0.4 0.8l0.4 0.9l0.4 0.4l0.4 0.6l0.4 0.4l0.4 0.5l0.4 0.8l0.4 0.6l0.4 0.1l0.4 0.6l0.4 0.3l0.4 0.5l0.4 0.5l0.4 0.4l1.3 1.6l1.3 0.4l1.3 0.2l1.3 1.1l1.3 0.7l1.3 0l1.3 0.5l1.3 0.3l1.3 0.1l1.3 0.1l1.3 -0.1l1.3 0.2l1.3 0.3l1.3 0l1.3 0.2l1.3 0.1l1.3 0l1.3 -0.1l1.3 0l1.3 0.3l1.3 -0.2l1.3 -0.4l1.3 0.2l1.3 0l1.3 0.2l1.3 -0.3l1.3 -0.1l1.3 0.2l1.3 -0.1l1.3 0.1l1.3 -0.2l1.3 -0.1l1.3 0.3l1.3 0l1.3 0l1.3 0l1.3 0.1l1.3 0.2l1.3 0.1l1.3 -0.2l1.3 -0.7l1.3 -0.1l1.3 0.4l1.3 0.2l1.3 0l1.3 0.3l1.3 0l1.3 -0.4l1.3 0.1l1.3 0l1.3 0.1l1.3 -0.2l1.3 -0.5l1.3 0.3l1.3 0.2l1.3 0l1.3 -0.3l1.3 0.3l1.3 0.8l1.3 -0.2l1.3 -0.8l1.3 0.2l1.3 0.5l1.3 -0.2l1.3 -0.1l1.3 0l1.3 0l1.3 0l1.3 0.2l1.3 0l1.3 -0.5l1.3 0.2l1.3 0.5l1.3 0l1.3 -0.6l1.3 0l1.3 0l1.3 -0.4l1.3 0.2l1.3 0.2l1.3 0l1.3 0.1l1.3 -0.2l1.3 -0.3l1.3 0.3l1.3 -0.2l1.3 -0.2l1.3 0.3l1.3 0.1l1.3 0.5l1.3 0.1l1.3 -0.7l1.3 0.1l1.3 0.6l1.3 -0.1l1.3 -0.4l1.3 0.1l1.3 0.2l1.3 -0.1l1.3 0l1.3 0.2l1.3 -0.2l1.3 -0.6l1.3 0.3l1.3 0.3l1.3 -0.1l1.3 0l1.3 0l1.3 0.2l1.3 -0.3l1.3 0.2l1.3 0.3l1.3 -0.7l1.3 -0.1l1.3 0.3l1.3 0.3l1.3 -0.2l1.3 -0.1l1.3 0.3l1.3 -0.1l1.3 -0.5l1.3 0l1.3 0.6l1.3 -0.2l1.3 -0.1l1.3 0l1.3 -0.1l1.3 -0.1l0.2 0.2"/>
</g>
<rect x="56.3" y="594.3" width="746.9000000000001" height="493.9000000000001" fill="none" stroke="#000" stroke-width="1.6"/>
<path d="M56.3 1080.2V1097.2M93.6 1082.2V1088.2M131.0 1082.2V1088.2M168.3 1082.2V1088.2M205.7 1082.2V1088.2M243.0 1080.2V1097.2M280.4 1082.2V1088.2M317.7 1082.2V1088.2M355.1 1082.2V1088.2M392.4 1082.2V1088.2M429.8 1080.2V1097.2M467.1 1082.2V1088.2M504.4 1082.2V1088.2M541.8 1082.2V1088.2M579.1 1082.2V1088.2M616.5 1080.2V1097.2M653.8 1082.2V1088.2M691.2 1082.2V1088.2M728.5 1082.2V1088.2M765.9 1082.2V1088.2M803.2 1080.2V1097.2" stroke="#000" stroke-width="1.1" fill="none"/>
<text x="56.3" y="1131.6" font-size="28.5" stroke="#000" font-weight="bold" text-anchor="middle">50</text>
<text x="243.0" y="1131.6" font-size="28.5" stroke="#000" font-weight="bold" text-anchor="middle">55</text>
<text x="429.8" y="1131.6" font-size="28.5" stroke="#000" font-weight="bold" text-anchor="middle">60</text>
<text x="616.5" y="1131.6" font-size="28.5" stroke="#000" font-weight="bold" text-anchor="middle">65</text>
<text x="803.2" y="1131.6" font-size="28.5" stroke="#000" font-weight="bold" text-anchor="middle">70</text>
<text x="429.5" y="1168.4" font-size="29" stroke="#000" font-weight="bold" text-anchor="middle">2-theta (degree)</text>
<text transform="translate(37.3 837.4) rotate(-90)" font-size="29" stroke="#000" font-weight="bold" text-anchor="middle">Intensity (a.u.)</text>
<text x="761.5" y="800" font-size="28.5" stroke="#000" text-anchor="end">133 K</text>
<text x="761.5" y="839.8" font-size="28.5" stroke="#000" text-anchor="end">153 K</text>
<text x="761.5" y="879.5" font-size="28.5" stroke="#000" text-anchor="end">173 K</text>
<text x="761.5" y="919.3" font-size="28.5" stroke="#000" text-anchor="end">193 K</text>
<text x="761.5" y="959" font-size="28.5" stroke="#000" text-anchor="end">213 K</text>
<text x="761.5" y="998.5" font-size="28.5" stroke="#000" text-anchor="end">233 K</text>
<text x="761.5" y="1038.3" font-size="28.5" stroke="#000" text-anchor="end">253 K</text>
<text x="761.5" y="1078" font-size="28.5" stroke="#000" text-anchor="end">292 K</text>
<rect x="479" y="600" width="314.4" height="79" fill="#fff" stroke="#000" stroke-width="1.25"/>
<text x="488" y="633" font-size="29.1" fill="#4472c4" stroke="#4472c4">Hydrogen charged at RT</text>
<text x="488" y="667.5" font-size="29.1" fill="#4472c4" stroke="#4472c4">Fe K<tspan font-size="18.9" dy="6.6">α</tspan><tspan dy="-6.6" dx="1.2"> radiation</tspan></text>
<text transform="translate(269.9 693.7) rotate(-90)" font-size="22.7" stroke="#000" textLength="77.6" lengthAdjust="spacingAndGlyphs">(111) fcc</text>
<text transform="translate(433.6 773.3) rotate(-90)" font-size="22.7" stroke="#000" textLength="91.4" lengthAdjust="spacingAndGlyphs">(1011)hcp</text>
<path d="M416 733.4V741.8" stroke="#000" stroke-width="1.1"/>
<text transform="translate(631.3 764.1) rotate(-90)" font-size="22.7" stroke="#000" textLength="78.1" lengthAdjust="spacingAndGlyphs">(200) fcc</text>
<rect x="76.2" y="599.5" width="154.2" height="162.79999999999995" fill="#fff"/>
<clipPath id="ci"><rect x="76.2" y="599.5" width="154.2" height="162.79999999999995"/></clipPath>
<g fill="none" stroke="#000" stroke-width="1.05" stroke-linejoin="round" clip-path="url(#ci)">
<path d="M75.2 619.9l0.5 0.9l0.5 0.4l0.5 -1.6l0.5 -3.1l0.5 -2.6l0.5 -0.5l0.5 0.3l0.5 -3.4l0.5 -6.9l0.5 -6.9l0.5 -5.7l0.5 -11.3l0.5 0l0.5 0l0.5 0l0.5 0l0.5 0l0.5 0l0.5 0l0.5 0l0.5 0l0.5 0l0.5 0l0.5 0l0.5 0l0.5 0l0.5 0l0.5 0l0.5 0l0.5 0l0.5 0l0.5 3.5l0.5 12.1l0.5 7.8l0.5 4.2l0.5 4.9l0.5 2.8l0.5 3l0.5 3.5l0.5 -2l0.5 0.7l0.5 1.9l0.5 0.6l0.5 2l0.5 -1.4l0.5 0.3l0.5 2.3l0.5 1.8l0.5 -0.5l0.5 0.1l0.5 0.4l0.5 -0.8l0.5 0.6l0.5 2.1l0.5 1.8l0.5 1.2l0.5 0.3l0.5 -1.5l0.5 0.3l0.5 -1.6l0.5 -1.2l0.5 1.4l0.5 -1.6l0.5 -2.8l0.5 -1.1l0.5 0.1l0.5 0.6l0.5 1.1l0.5 2.4l0.5 1.5l0.5 -0.4l0.5 1.3l0.5 -0.2l0.5 -2.1l0.5 0.1l0.5 2.4l0.5 1.1l0.5 -2l0.5 -0.7l0.5 1.5l0.5 0.2l0.5 -1.7l0.5 1.8l0.5 0.1l0.5 -0.9l0.5 1.3l0.5 -0.1l0.5 0l0.5 2l0.5 -0.5l0.5 -2.7l0.5 -1.4l0.5 1.2l0.5 1.6l0.5 0.5l0.5 0l0.5 -0.8l0.5 -0.2l0.5 0l0.5 0.9l0.5 0.2l0.5 0l0.5 2.4l0.5 0.4l0.5 -3.6l0.5 1.3l0.5 2.1l0.5 -2.8l0.5 0.6l0.5 1.1l0.5 -1.6l0.5 -0.7l0.5 -0.4l0.5 0.8l0.5 2.2l0.5 -0.4l0.5 -0.7l0.5 2.4l0.5 -1.8l0.5 -1.7l0.5 1l0.5 -1.4l0.5 -0.7l0.5 1.1l0.5 1.5l0.5 -0.5l0.5 -0.4l0.5 1.3l0.5 0.3l0.5 0.1l0.5 0.2l0.5 -0.5l0.5 1.4l0.5 0.1l0.5 -1.8l0.5 -0.1l0.5 -1.2l0.5 -1.3l0.5 1.5l0.5 0.7l0.5 0.3l0.5 -1.3l0.5 -4l0.5 1.1l0.5 1.5l0.5 -4.6l0.5 -1.2l0.5 -0.5l0.5 -5.1l0.5 -2.1l0.5 -0.1l0.5 0.9l0.5 -1.1l0.5 -2.2l0.5 0.8l0.5 0.6l0.5 0.6l0.5 2.1l0.5 3.8l0.5 2.2l0.5 -0.5l0.5 -0.3l0.5 2.6l0.5 1.7l0.5 0.2l0.5 -0.2l0.5 3.5l0.5 3.3l0.5 -2.7l0.5 0.3l0.5 2.7l0.5 -3.3l0.5 -1.9l0.5 2.2l0.5 1.4l0.5 0.3l0.5 -0.8l0.5 0.1l0.5 2.3l0.5 2.3l0.5 -2.4l0.5 -3.3l0.5 3.5l0.5 0l0.5 -3.5l0.5 1.1l0.5 1.2l0.5 1.1l0.5 -0.1l0.5 -2l0.5 0.1l0.5 1.3l0.5 1.4l0.5 -0.2l0.5 -3.4l0.5 -1.1l0.5 3l0.5 0.5l0.5 -3.7l0.5 0l0.5 2.2l0.5 1.9l0.5 -1l0.5 -0.6l0.5 1.9l0.5 -1.4l0.5 -1l0.5 2.6l0.5 2.1l0.5 -1l0.5 -1.5l0.5 0.4l0.5 -0.5l0.5 -1.3l0.5 -0.8l0.5 0.1l0.5 0.9l0.5 2.9l0.5 -0.1l0.5 -1.6l0.5 1.6l0.5 -1.5l0.5 -0.1l0.5 -2.1l0.5 -1.2l0.5 3.3l0.5 -2.7l0.5 -2.1l0.5 3.7l0.5 0.9l0.5 -2.2l0.5 -0.2l0.5 0.6l0.5 1.2l0.5 1.1l0.5 -1.1l0.5 -1.2l0.5 0.3l0.5 2.1l0.5 0.4l0.5 -0.7l0.5 -0.5l0.5 -2.1l0.5 -0.6l0.5 2.1l0.5 0.8l0.5 -1.6l0.5 -1.8l0.5 1l0.5 1.4l0.5 -0.5l0.5 0l0.5 0.7l0.5 0.6l0.5 0.7l0.5 0.7l0.5 0.4l0.5 -0.2l0.5 -1.8l0.5 -0.9l0.5 0.9l0.5 -0.3l0.5 0l0.5 1.5l0.5 -1.4l0.5 -3.2l0.5 2.1l0.5 1.9l0.5 -0.6l0.5 -1.4l0.5 1l0.5 2.1l0.5 -2l0.5 -1.2l0.5 0.2l0.5 0.1l0.5 -0.5l0.5 -1.1l0.5 1.6l0.5 1l0.5 -1.4l0.5 0.1l0.5 -2.7l0.5 0.3l0.5 2l0.5 -1.1l0.5 0.3l0.5 -0.9l0.5 0.6l0.5 0l0.5 -2.1l0.5 -0.5l0.5 0.8l0.5 1.4l0.5 -1.2l0.5 -2.8l0.5 1.2l0.5 -0.1l0.5 -0.5l0.5 0.2l0.5 -3.2l0.5 -2.3l0.5 -1.3l0.5 -2.3l0.5 -7l0.5 -9.4l0.5 -11.3l0.5 -12.8l0.5 0l0.5 0l0.5 0l0.5 0"/>
<path d="M75.2 678.2l0.5 3.6l0.5 1.2l0.5 -2.7l0.5 -1.9l0.5 -0.4l0.5 -1.8l0.5 -4l0.5 -4.6l0.5 -4l0.5 -5.1l0.5 -9.3l0.5 -13.7l0.5 -21l0.5 -32.1l0.5 -2.9l0.5 0l0.5 0l0.5 0l0.5 0l0.5 0l0.5 0l0.5 0l0.5 0l0.5 0l0.5 0l0.5 0l0.5 0l0.5 0l0.5 0l0.5 16.2l0.5 29l0.5 20.3l0.5 11.4l0.5 7l0.5 5.3l0.5 4l0.5 2.7l0.5 2.3l0.5 1.6l0.5 1.8l0.5 2.1l0.5 0.9l0.5 -0.2l0.5 -0.2l0.5 1.7l0.5 1l0.5 0.1l0.5 -1.8l0.5 -2.1l0.5 3.1l0.5 3.4l0.5 1.3l0.5 0.7l0.5 -0.9l0.5 -0.4l0.5 -1.4l0.5 1l0.5 1l0.5 -0.3l0.5 0.9l0.5 -0.4l0.5 0.2l0.5 -1.6l0.5 -2.3l0.5 -1.4l0.5 -0.2l0.5 3.2l0.5 1.4l0.5 0.8l0.5 2.1l0.5 0.1l0.5 0.4l0.5 -1.6l0.5 -0.3l0.5 2.7l0.5 -1l0.5 -1.5l0.5 0.1l0.5 0.4l0.5 -0.3l0.5 1.3l0.5 0.8l0.5 -3l0.5 2.1l0.5 2.6l0.5 -1.2l0.5 -0.4l0.5 -0.8l0.5 -0.7l0.5 1.1l0.5 1.1l0.5 0.3l0.5 -0.7l0.5 -1.3l0.5 -0.4l0.5 1.6l0.5 1.6l0.5 -1.4l0.5 -1.8l0.5 1.5l0.5 1.2l0.5 -0.5l0.5 -2l0.5 -1l0.5 0.8l0.5 0.6l0.5 -1.2l0.5 1.1l0.5 1.9l0.5 -0.8l0.5 -1.5l0.5 -0.4l0.5 2.4l0.5 -1.5l0.5 -1l0.5 2.2l0.5 -1.1l0.5 0.1l0.5 0.3l0.5 0.3l0.5 0.8l0.5 -1.1l0.5 1.4l0.5 0.5l0.5 -0.8l0.5 -2.1l0.5 -2.1l0.5 1.9l0.5 1.4l0.5 -1.1l0.5 -0.3l0.5 -1.1l0.5 -0.8l0.5 -0.2l0.5 -0.1l0.5 0.5l0.5 -1.2l0.5 0.3l0.5 2.2l0.5 -1.2l0.5 -2.6l0.5 1.9l0.5 0l0.5 0.5l0.5 0.5l0.5 -1.8l0.5 0.1l0.5 1.5l0.5 0.2l0.5 -1.2l0.5 -0.4l0.5 -2.1l0.5 -1l0.5 3l0.5 1.8l0.5 -0.8l0.5 -0.1l0.5 -0.8l0.5 -0.2l0.5 -0.1l0.5 0.2l0.5 0.4l0.5 -0.3l0.5 1.4l0.5 0.1l0.5 0.4l0.5 1l0.5 0l0.5 1l0.5 -1.5l0.5 -2.7l0.5 2.3l0.5 2.7l0.5 1.5l0.5 0l0.5 -0.9l0.5 -1.5l0.5 0.1l0.5 1.7l0.5 -1.7l0.5 -1.4l0.5 1.1l0.5 1.3l0.5 -2.7l0.5 -0.1l0.5 3.2l0.5 -0.2l0.5 0.1l0.5 0.7l0.5 -1.2l0.5 0l0.5 0.8l0.5 -1.2l0.5 0.5l0.5 2.4l0.5 -1.6l0.5 -3.1l0.5 -0.1l0.5 3.6l0.5 1.4l0.5 -2l0.5 -0.5l0.5 -0.8l0.5 -1.2l0.5 1.1l0.5 2.2l0.5 -2l0.5 -1.3l0.5 1.2l0.5 1l0.5 1l0.5 1.2l0.5 1.1l0.5 0l0.5 -0.1l0.5 -2.1l0.5 -1.9l0.5 2.3l0.5 0.8l0.5 -1.1l0.5 -2.2l0.5 -1.8l0.5 2.7l0.5 2.1l0.5 -1l0.5 -0.7l0.5 -1.4l0.5 0.8l0.5 2.7l0.5 1.3l0.5 -1l0.5 -1.8l0.5 -1.1l0.5 1.4l0.5 2.8l0.5 -1.8l0.5 -1.4l0.5 0.7l0.5 -0.9l0.5 -2.5l0.5 0.2l0.5 3l0.5 -1l0.5 -1.4l0.5 -1.8l0.5 2l0.5 3.8l0.5 -1.3l0.5 -0.7l0.5 -0.7l0.5 0.2l0.5 0.3l0.5 -0.2l0.5 0.3l0.5 0.4l0.5 1.5l0.5 -1.6l0.5 -1.2l0.5 0.8l0.5 -1.4l0.5 -1.8l0.5 1.7l0.5 1.4l0.5 -1.4l0.5 1.4l0.5 -0.4l0.5 -0.4l0.5 0.9l0.5 0.7l0.5 1.1l0.5 -1.7l0.5 -0.2l0.5 0.7l0.5 -0.8l0.5 -0.2l0.5 0.6l0.5 -1.1l0.5 -0.5l0.5 2.2l0.5 -0.6l0.5 0.7l0.5 -0.6l0.5 -1.9l0.5 0.1l0.5 -0.9l0.5 -0.8l0.5 -0.1l0.5 0.8l0.5 -0.5l0.5 0.7l0.5 2l0.5 -2.6l0.5 -1l0.5 1.3l0.5 -1l0.5 1.8l0.5 0.5l0.5 -2.7l0.5 -1.8l0.5 -3.3l0.5 -0.8l0.5 -0.5l0.5 -3.7l0.5 -3.9l0.5 -6.6l0.5 -9l0.5 -15.3l0.5 -21l0.5 -26.1l0.5 -19.9l0.5 0l0.5 0"/>
<path d="M75.2 741.1l0.5 -3.3l0.5 -3.9l0.5 2.1l0.5 -1.1l0.5 -6.9l0.5 -3.2l0.5 0.4l0.5 -3.4l0.5 -8.2l0.5 -10.6l0.5 -17.6l0.5 -28.4l0.5 -41.6l0.5 -35.9l0.5 0l0.5 0l0.5 0l0.5 0l0.5 0l0.5 0l0.5 0l0.5 0l0.5 0l0.5 0l0.5 0l0.5 0l0.5 16.3l0.5 42.8l0.5 31l0.5 22.2l0.5 18.3l0.5 10.3l0.5 3.9l0.5 3.6l0.5 3.7l0.5 2.6l0.5 1.5l0.5 0.8l0.5 2.2l0.5 3.2l0.5 -0.2l0.5 -1.1l0.5 2.3l0.5 -0.2l0.5 -1.1l0.5 1.5l0.5 1.2l0.5 0.5l0.5 -0.6l0.5 0.9l0.5 0l0.5 -1.7l0.5 -0.5l0.5 2.6l0.5 0.5l0.5 -0.1l0.5 2.4l0.5 0.5l0.5 -0.6l0.5 -1.2l0.5 0.2l0.5 -0.3l0.5 -1.8l0.5 1.2l0.5 -0.2l0.5 0.4l0.5 1.8l0.5 -1.3l0.5 0.8l0.5 2.1l0.5 -1.3l0.5 -1.8l0.5 0.4l0.5 1.2l0.5 1.4l0.5 0l0.5 -1l0.5 -0.5l0.5 1.9l0.5 1.6l0.5 -0.9l0.5 -2.3l0.5 0.5l0.5 1.6l0.5 -0.3l0.5 1.4l0.5 0.6l0.5 -2.5l0.5 -1.7l0.5 2.3l0.5 1.1l0.5 -0.4l0.5 -0.3l0.5 -1.7l0.5 0.4l0.5 2.5l0.5 0.1l0.5 -2.6l0.5 -0.6l0.5 0.7l0.5 0.4l0.5 1.5l0.5 1.7l0.5 -0.8l0.5 -2.2l0.5 -0.2l0.5 0.4l0.5 -0.5l0.5 0l0.5 0.4l0.5 -1.2l0.5 0.5l0.5 0.7l0.5 -1.5l0.5 0.8l0.5 0.4l0.5 1.1l0.5 0.8l0.5 -1.6l0.5 -1.3l0.5 -0.5l0.5 1.4l0.5 -0.4l0.5 -0.2l0.5 -1.4l0.5 -0.7l0.5 2.7l0.5 0l0.5 -1l0.5 0.5l0.5 -0.9l0.5 -2l0.5 0.8l0.5 1.9l0.5 0.2l0.5 -1.5l0.5 -0.2l0.5 0.4l0.5 -1.5l0.5 -3.2l0.5 0.1l0.5 1.2l0.5 0.3l0.5 0.2l0.5 -0.3l0.5 1.5l0.5 0.9l0.5 -0.4l0.5 1.5l0.5 -0.4l0.5 -1.9l0.5 1.7l0.5 -0.6l0.5 -2.6l0.5 2.4l0.5 2l0.5 -0.6l0.5 0.5l0.5 0.4l0.5 -0.9l0.5 -0.7l0.5 -0.5l0.5 0.4l0.5 1.5l0.5 -0.4l0.5 0.6l0.5 3.4l0.5 -1.6l0.5 -1.8l0.5 2.1l0.5 0.4l0.5 -1.5l0.5 0.3l0.5 1.5l0.5 -1.1l0.5 -0.8l0.5 0.5l0.5 1.4l0.5 0.7l0.5 1.4l0.5 -1.1l0.5 -1.4l0.5 0l0.5 0.2l0.5 0.6l0.5 -1.2l0.5 -1.3l0.5 -0.1l0.5 1.6l0.5 2.2l0.5 0.5l0.5 -2.5l0.5 -1.1l0.5 1.2l0.5 0.4l0.5 0l0.5 0.9l0.5 0.1l0.5 -1.3l0.5 -2l0.5 0.3l0.5 0.2l0.5 0.2l0.5 1.9l0.5 -1.1l0.5 -0.4l0.5 0.9l0.5 2l0.5 0.7l0.5 -3.6l0.5 0l0.5 2.2l0.5 -0.6l0.5 -0.7l0.5 0.7l0.5 1l0.5 -0.1l0.5 -1.6l0.5 -0.7l0.5 -0.5l0.5 -1.2l0.5 1l0.5 0.4l0.5 0.2l0.5 3.3l0.5 0.9l0.5 -3.2l0.5 -2.5l0.5 0l0.5 0.7l0.5 -1.3l0.5 2.1l0.5 1.6l0.5 -0.3l0.5 3.4l0.5 -0.2l0.5 -2.8l0.5 0.1l0.5 -0.3l0.5 -1.2l0.5 0.1l0.5 1.9l0.5 -0.1l0.5 -2.4l0.5 -0.9l0.5 0.3l0.5 1.2l0.5 1.5l0.5 0.4l0.5 0.7l0.5 -0.7l0.5 -0.3l0.5 0.5l0.5 -0.1l0.5 -2l0.5 0.5l0.5 0.2l0.5 -2.2l0.5 2.2l0.5 0.7l0.5 0.9l0.5 0.5l0.5 -2.6l0.5 -0.1l0.5 0.6l0.5 1.3l0.5 1.9l0.5 -0.8l0.5 -2l0.5 -0.6l0.5 1.3l0.5 -0.9l0.5 -1.8l0.5 1.5l0.5 1.4l0.5 -1.1l0.5 -1l0.5 -1.8l0.5 1.3l0.5 1.6l0.5 -2.5l0.5 -1.1l0.5 0.3l0.5 2.6l0.5 1.3l0.5 -3l0.5 0.9l0.5 2.3l0.5 -3l0.5 -4.1l0.5 1.7l0.5 1.6l0.5 -1.4l0.5 -0.3l0.5 0.9l0.5 1.3l0.5 -1l0.5 -2.3l0.5 -1.6l0.5 -0.8l0.5 -4.2l0.5 -3.2l0.5 -4.6l0.5 -9.6l0.5 -11.8l0.5 -15.7l0.5 -19.5l0.5 -22.3l0.5 -26.5l0.5 -26.9l0.5 -19.4l0.5 -1.2"/>
</g>
<rect x="76.2" y="599.5" width="154.2" height="162.79999999999995" fill="none" stroke="#000" stroke-width="2.1"/>
<path d="M91.6 762.3v-3.6M107.0 762.3v-3.6M122.5 762.3v-3.6M137.9 762.3v-3.6M153.3 762.3v-3.6M168.7 762.3v-3.6M184.1 762.3v-3.6M199.6 762.3v-3.6M215.0 762.3v-3.6" stroke="#000" stroke-width="1" fill="none"/>
<text x="76.2" y="787.5" font-size="16" fill="#595959" stroke="#595959" font-weight="bold" text-anchor="middle">55</text>
<text x="153.3" y="787.5" font-size="16" fill="#595959" stroke="#595959" font-weight="bold" text-anchor="middle">60</text>
<text x="230.4" y="787.5" font-size="16" fill="#595959" stroke="#595959" font-weight="bold" text-anchor="middle">65</text>
<text x="224" y="624.5" font-size="24" stroke="#000" text-anchor="end">233 K</text>
<text x="224" y="682.5" font-size="24" stroke="#000" text-anchor="end">253 K</text>
<text x="224" y="740.3" font-size="24" stroke="#000" text-anchor="end">292 K</text>
<text x="139" y="709.3" font-size="21" stroke="#000">hcp</text>
<path d="M150.6 657h3.2V672.0h3.8L152.2 682.3L146.79999999999998 672.0h3.8z" fill="#ff0000"/>
<path d="M150.1 714.7h3.2V729.7h3.8L151.7 740L146.29999999999998 729.7h3.8z" fill="#ff0000"/>
</g>
<g id="panel-d">
<text x="830.4" y="638.1" font-size="38.5" stroke="#000">(d)</text>
<clipPath id="cd"><rect x="888.2" y="594.6" width="744.8" height="493.6"/></clipPath>
<g fill="none" stroke="#000" stroke-width="1.9" stroke-linejoin="round" clip-path="url(#cd)">
<path d="M888.2 806.6l1.3 0.3l1.3 0.4l1.3 0l1.3 -0.7l1.3 -0.4l1.3 0.6l1.3 0.6l1.3 -0.4l1.3 -0.1l1.3 0.5l1.3 -0.2l1.3 -0.5l1.3 -0.1l1.3 0.2l1.3 0.2l1.3 0.3l1.3 -0.3l1.3 -0.2l1.3 0.2l1.3 -0.1l1.3 0.2l1.3 0l1.3 -0.2l1.3 -0.2l1.3 0l1.3 0.1l1.3 0.4l1.3 0.2l1.3 -0.4l1.3 0l1.3 -0.2l1.3 -0.1l1.3 0.2l1.3 0.3l1.3 0l1.3 -0.4l1.3 -0.1l1.3 0.2l1.3 -0.3l1.3 0.1l1.3 0.5l1.3 -0.3l1.3 0.3l1.3 0.2l1.3 -0.5l1.3 0.3l1.3 0l1.3 -0.3l1.3 -0.3l1.3 -0.2l1.3 0.7l1.3 0l1.3 -0.5l1.3 0.1l1.3 0.1l1.3 -0.2l1.3 -0.1l1.3 0.2l1.3 0.5l1.3 0.2l1.3 0.1l1.3 -0.3l1.3 -0.4l1.3 0.2l1.3 0.1l1.3 0.1l1.3 -0.4l1.3 0.1l1.3 0.3l1.3 -0.4l1.3 0.1l1.3 0l1.3 -0.3l1.3 0l1.3 -0.1l1.3 -0.1l1.3 0.5l1.3 0.3l1.3 -0.4l1.3 -0.5l1.3 0.2l1.3 0.5l1.3 0l1.3 -0.3l1.3 0l1.3 0.2l1.3 0l1.3 0.2l1.3 -0.1l1.3 -0.1l1.3 0.1l1.3 0.1l1.3 -0.3l1.3 -0.1l1.3 0.3l1.3 0.1l1.3 -0.2l1.3 -0.1l1.3 -0.1l1.3 0l1.3 0.4l1.3 0.1l1.3 -0.3l1.3 0l1.3 0.1l1.3 0l1.3 -0.3l1.3 -0.2l1.3 0.4l1.3 0.3l1.3 -0.3l1.3 -0.3l1.3 0.5l1.3 0.1l1.3 -0.4l1.3 0.1l1.3 -0.1l1.3 -0.5l1.3 0.1l1.3 0.3l1.3 -0.1l1.3 0l1.3 -0.1l1.3 -0.1l1.3 -0.2l1.3 0.3l1.3 0.6l1.3 -0.4l1.3 -0.6l1.3 0.2l1.3 0.5l1.3 -0.2l1.3 -0.4l1.3 0.4l1.3 0l1.3 -0.3l1.3 0.1l1.3 0l1.3 0.1l1.3 0.1l1.3 -0.6l1.3 -0.4l1.3 0.4l1.3 -0.1l1.3 -0.5l1.3 0l1.3 -0.2l1.3 -0.4l1.3 -0.1l0.4 0.1l0.4 0.1l0.4 -0.1l0.4 -0.5l0.4 -0.1l0.4 -0.1l0.4 -0.3l0.4 -0.1l0.4 -0.3l0.4 -0.1l0.4 -0.1l0.4 -0.2l0.4 -0.5l0.4 -0.1l0.4 -0.1l0.4 -0.4l0.4 -0.3l0.4 -0.5l0.4 -0.5l0.4 0.1l0.4 -0.3l0.4 -0.8l0.4 -0.6l0.4 -1.2l0.4 -1.2l0.4 -1.3l0.4 -1.6l0.4 -2.1l0.4 -3l0.4 -3.4l0.4 -3.9l0.4 -5.6l0.4 -6.2l0.4 -6.8l0.4 -8.4l0.4 -9.1l0.4 -8.9l0.4 -9.4l0.4 -9.6l0.4 -7.8l0.4 -6.4l0.4 -4l0.4 -1.1l0.4 1l0.4 3l0.4 4l0.4 4.4l0.4 4.4l0.4 4.4l0.4 3.8l0.4 3.3l0.4 3.7l0.4 3.5l0.4 4l0.4 4.7l0.4 5.8l0.4 6.3l0.4 6l0.4 5.4l0.4 5.7l0.4 4.8l0.4 4.3l0.4 4.6l0.4 3.6l0.4 2.6l0.4 2.4l0.4 2.3l0.4 1.3l0.4 1.1l0.4 1.1l0.4 0.8l0.4 0.4l0.4 0.5l0.4 0.9l0.4 0.5l0.4 0.1l0.4 -0.3l0.4 0.3l0.4 0.2l0.4 0.2l0.4 0.6l0.4 0.3l0.4 0l0.4 0.2l0.4 0.2l0.4 -0.3l0.4 0.3l0.4 0.7l1.3 0.4l1.3 -0.1l1.3 0.4l1.3 0.3l1.3 0.1l1.3 -0.4l1.3 -0.2l1.3 0.8l1.3 0.2l1.3 -0.5l1.3 0.3l1.3 0.3l1.3 -0.6l1.3 -0.2l1.3 0.2l1.3 0l1.3 0.1l1.3 0l1.3 0l1.3 0.4l1.3 0l1.3 0l1.3 0.2l1.3 0l1.3 -0.1l1.3 -0.1l1.3 -0.3l1.3 0.3l1.3 0.1l1.3 -0.1l1.3 0.4l1.3 -0.1l1.3 0.2l1.3 0.3l1.3 -0.5l1.3 0.2l1.3 0.2l1.3 -0.2l1.3 -0.1l1.3 -0.2l1.3 0.1l1.3 0l1.3 -0.1l1.3 -0.2l1.3 0l1.3 -0.3l1.3 0l1.3 0.5l1.3 -0.1l1.3 -0.3l1.3 0.5l1.3 -0.1l1.3 -0.3l1.3 0.4l1.3 0.2l1.3 0l1.3 -0.1l1.3 -0.1l1.3 -0.2l1.3 -0.4l1.3 0.5l1.3 0.4l1.3 -0.3l1.3 -0.2l1.3 0l1.3 -0.1l1.3 -0.1l1.3 0.3l1.3 0.5l1.3 0.1l1.3 0l1.3 0l1.3 -0.4l1.3 0.2l1.3 0l1.3 -0.6l1.3 0.1l1.3 0.4l1.3 -0.1l1.3 0l1.3 -0.1l1.3 -0.1l1.3 -0.1l1.3 0.1l1.3 0.1l1.3 0.1l1.3 0.2l1.3 -0.4l1.3 0.1l1.3 0.2l1.3 0l1.3 -0.1l1.3 -0.2l1.3 0.3l1.3 -0.2l1.3 -0.5l1.3 0.5l1.3 0.5l1.3 -0.7l1.3 0l1.3 0.4l1.3 -0.9l1.3 -0.3l1.3 0l1.3 0l1.3 0l0.4 0.1l0.4 0.1l0.4 -0.1l0.4 0.1l0.4 -0.5l0.4 -0.2l0.4 0.2l0.4 0.1l0.4 -0.3l0.4 0l0.4 -0.1l0.4 -0.2l0.4 0.3l0.4 0.2l0.4 -0.3l0.4 -0.1l0.4 0.3l0.4 0.2l0.4 0l0.4 -0.1l0.4 -0.3l0.4 -0.4l0.4 0.1l0.4 0.2l0.4 0.2l0.4 0.2l0.4 0.2l0.4 0.4l0.4 -0.4l0.4 -0.5l1.3 0.2l1.3 0.1l1.3 0.2l1.3 0.2l1.3 0.2l1.3 0l1.3 0.1l1.3 0.5l1.3 0.3l1.3 -0.2l1.3 0.1l1.3 -0.4l1.3 -0.3l1.3 0.6l1.3 0.1l1.3 -0.3l1.3 0l1.3 0.1l1.3 0.2l1.3 0.4l1.3 -0.4l1.3 -0.5l1.3 0.1l1.3 0.3l1.3 0.2l1.3 0l1.3 -0.1l1.3 0l1.3 0l1.3 -0.4l1.3 0.1l1.3 0.4l1.3 -0.4l1.3 0l1.3 0l1.3 0.2l1.3 0.5l1.3 -0.2l1.3 -0.6l1.3 -0.4l1.3 0.4l1.3 0.2l1.3 0.3l1.3 0l1.3 -0.7l1.3 0.4l1.3 0.7l1.3 -0.5l1.3 -0.2l1.3 0.4l1.3 -0.2l1.3 -0.4l1.3 0l1.3 0.1l1.3 0.3l1.3 0.2l1.3 -0.2l1.3 -0.5l1.3 -0.1l1.3 0.3l1.3 -0.1l1.3 0.2l1.3 0.5l1.3 0l1.3 -0.3l1.3 -0.4l1.3 0.1l1.3 0.6l1.3 -0.1l1.3 -0.2l1.3 0.1l1.3 -0.1l1.3 -0.3l1.3 0.4l1.3 0.4l1.3 -0.1l1.3 -0.2l1.3 -0.1l1.3 -0.4l1.3 -0.2l1.3 0.4l1.3 -0.1l1.3 -0.2l1.3 -0.2l1.3 0.3l1.3 0.3l1.3 0.1l1.3 -0.2l1.3 0.1l1.3 0.5l1.3 -0.2l1.3 -0.3l1.3 -0.4l1.3 0.2l1.3 0.8l1.3 -0.4l1.3 -0.1l1.3 -0.3l1.3 0.1l1.3 0.1l1.3 -0.3l1.3 0.1l1.3 0.2l1.3 0.1l1.3 -0.1l1.3 0.2l1.3 -0.3l1.3 -0.1l1.3 0.4l1.3 0.3l1.3 0l1.3 -0.6l1.3 0l1.3 -0.1l1.3 -0.3l1.3 0.2l1.3 0.2l1.3 0l1.3 -0.2l1.3 0.2l1.3 0l1.3 -0.1l1.3 -0.1l1.3 -0.1l1.3 0.3l1.3 0.1l1.3 -0.1l1.3 -0.1l1.3 -0.5l1.3 0.1l1.3 0.6l0.4 0l0.4 -0.6l0.4 -0.4l0.4 0.1l0.4 0.2l0.4 0l0.4 -0.1l0.4 0.2l0.4 -0.1l0.4 0.2l0.4 0.1l0.4 -0.3l0.4 -0.4l0.4 -0.2l0.4 0l0.4 -0.4l0.4 -0.1l0.4 0.3l0.4 -0.4l0.4 -0.7l0.4 -0.3l0.4 -0.4l0.4 -0.5l0.4 -0.6l0.4 -1l0.4 -1l0.4 -1.2l0.4 -1.5l0.4 -1.5l0.4 -1.7l0.4 -2.1l0.4 -1.9l0.4 -2.4l0.4 -2.6l0.4 -2.2l0.4 -2.4l0.4 -2.4l0.4 -2.2l0.4 -2.5l0.4 -2.3l0.4 -2l0.4 -1.7l0.4 -1.3l0.4 -0.3l0.4 -0.7l0.4 -0.7l0.4 0.4l0.4 0.3l0.4 0.3l0.4 0.7l0.4 1.1l0.4 0.7l0.4 1.1l0.4 1.3l0.4 1.3l0.4 1.3l0.4 1.2l0.4 1.5l0.4 1.7l0.4 1.6l0.4 1.7l0.4 1.8l0.4 1.1l0.4 1.5l0.4 2.2l0.4 1.6l0.4 0.9l0.4 1.4l0.4 1.5l0.4 1.2l0.4 1l0.4 1.1l0.4 1.1l0.4 0.6l0.4 0.5l0.4 0.6l0.4 1.3l0.4 1.1l0.4 0.5l0.4 0l0.4 0.6l0.4 0.4l0.4 0l0.4 0.4l0.4 0.3l0.4 0.3l0.4 0.6l0.4 0.5l0.4 0.6l1.3 0.3l1.3 0.1l1.3 0.2l1.3 0.1l1.3 0.1l1.3 -0.1l1.3 0l1.3 -0.1l1.3 -0.1l1.3 0.6l1.3 0.1l1.3 -0.4l1.3 -0.1l1.3 -0.2l1.3 0.3l1.3 0.1l1.3 -0.4l1.3 0l1.3 0.2l1.3 0.4l1.3 -0.1l1.3 0.4l1.3 -0.2l1.3 -0.2l1.3 -0.1l1.3 -0.3l1.3 0.4l1.3 -0.2l1.3 0l1.3 0.3l1.3 -0.1l1.3 0.2l1.3 0l1.3 0.1l1.3 -0.2l1.3 -0.2l1.3 0.2l1.3 -0.2l1.3 0.1l1.3 0l1.3 0l1.3 -0.1l1.3 -0.1l1.3 0.2l1.3 0.3l1.3 0l1.3 -0.5l1.3 -0.4l1.3 0.1l1.3 0.4l1.3 0.4l1.3 0.5l1.3 -0.3l1.3 -0.5l1.3 0.3l1.3 -0.2l1.3 -0.3l1.3 0.5l1.3 0l1.3 -0.2l1.3 0l1.3 -0.2l1.3 -0.1l1.3 0.1l1.3 -0.2l1.3 0l1.3 0.4l1.3 0.1l1.3 -0.6l1.3 0l1.3 0.7l1.3 -0.1l1.3 0.1l1.3 0.1l1.3 -0.2l1.3 -0.2l1.3 -0.3l1.3 -0.1l1.3 0.2l1.3 -0.2l1.3 0.2l1.3 0.2l1.3 -0.4l1.3 0.2l1.3 0.1l1.3 -0.1l1.3 0l1.3 0.5l1.3 0l1.3 -0.3l1.3 0.2l1.3 -0.1l1.3 -0.1l1.3 -0.1l1.3 0.2l1.3 0.2l1.3 -0.3l1.3 0.2l1.3 0.5l1.3 -0.1l1.3 0.1l1.3 -0.4l1.3 -0.3l1.3 0.2l1.3 -0.2l1.3 0l1.3 0l1.3 0.3l1.3 0l1.3 -0.6l1.3 -0.2l1.3 0.2l1.3 0.1l1.3 0.4l1.3 0l1.3 -0.6l1.3 0.3l1.3 0.4l1.3 0.2l1.3 -0.3l1.3 -0.3l1.3 0l1.3 0.1l0.3 0.4"/>
<path d="M888.2 845.5l1.3 0.4l1.3 0.6l1.3 -0.4l1.3 -0.1l1.3 0.1l1.3 -0.1l1.3 0.2l1.3 0l1.3 -0.2l1.3 0.4l1.3 0.2l1.3 -0.2l1.3 -0.1l1.3 0l1.3 0.2l1.3 -0.3l1.3 -0.3l1.3 0.3l1.3 0.2l1.3 -0.4l1.3 -0.2l1.3 0l1.3 0.4l1.3 0.3l1.3 -0.3l1.3 0.3l1.3 0.1l1.3 -0.2l1.3 0.3l1.3 -0.3l1.3 -0.4l1.3 0l1.3 0l1.3 -0.1l1.3 0.3l1.3 0.5l1.3 -0.3l1.3 -0.2l1.3 0.1l1.3 -0.1l1.3 -0.3l1.3 0.2l1.3 0.2l1.3 -0.2l1.3 -0.5l1.3 0l1.3 0.5l1.3 0.3l1.3 0.2l1.3 0.1l1.3 -0.7l1.3 0.2l1.3 0.2l1.3 -0.1l1.3 0.2l1.3 -0.3l1.3 0.1l1.3 -0.1l1.3 -0.5l1.3 0.1l1.3 0.2l1.3 0.1l1.3 0.2l1.3 -0.1l1.3 -0.2l1.3 -0.1l1.3 0.3l1.3 0.2l1.3 -0.1l1.3 0.2l1.3 -0.3l1.3 -0.2l1.3 0.4l1.3 -0.1l1.3 -0.2l1.3 0.3l1.3 0.2l1.3 -0.3l1.3 -0.4l1.3 0.1l1.3 0.1l1.3 0.1l1.3 0.3l1.3 -0.5l1.3 -0.2l1.3 0.2l1.3 0.1l1.3 0.3l1.3 0.1l1.3 0l1.3 -0.1l1.3 -0.7l1.3 -0.6l1.3 0.5l1.3 0.7l1.3 0l1.3 -0.1l1.3 -0.3l1.3 0.2l1.3 -0.2l1.3 -0.4l1.3 0.1l1.3 0.5l1.3 0l1.3 0l1.3 0.2l1.3 -0.5l1.3 -0.1l1.3 0.3l1.3 0.1l1.3 0.1l1.3 0l1.3 0.1l1.3 0l1.3 -0.2l1.3 0.2l1.3 -0.2l1.3 0l1.3 0.2l1.3 0l1.3 -0.3l1.3 -0.1l1.3 0.1l1.3 -0.1l1.3 0.1l1.3 -0.1l1.3 -0.4l1.3 0.1l1.3 0.1l1.3 0.1l1.3 0.4l1.3 -0.5l1.3 -0.3l1.3 0.3l1.3 0l1.3 0l1.3 0l1.3 -0.1l1.3 0l1.3 -0.3l1.3 0l1.3 -0.2l1.3 -0.7l1.3 0.3l1.3 0.3l1.3 -0.2l1.3 -1l1.3 -0.5l0.4 0.4l0.4 0.2l0.4 -0.1l0.4 -0.2l0.4 -0.2l0.4 0l0.4 0.1l0.4 0l0.4 -0.5l0.4 -0.2l0.4 0l0.4 -0.5l0.4 0l0.4 0l0.4 -0.5l0.4 -0.2l0.4 -0.7l0.4 -0.1l0.4 0.2l0.4 -0.7l0.4 -0.6l0.4 -0.3l0.4 -0.2l0.4 -0.5l0.4 -1l0.4 -0.8l0.4 -1.1l0.4 -1.8l0.4 -1.3l0.4 -2.2l0.4 -4l0.4 -3.8l0.4 -4.1l0.4 -5.7l0.4 -6.6l0.4 -7.1l0.4 -8.6l0.4 -9.5l0.4 -9.3l0.4 -9.6l0.4 -9.2l0.4 -7.6l0.4 -5.6l0.4 -3.3l0.4 -0.6l0.4 1.6l0.4 3l0.4 3.8l0.4 4.6l0.4 4.8l0.4 3.9l0.4 3.9l0.4 3.8l0.4 3.5l0.4 3.9l0.4 4.4l0.4 5l0.4 6.1l0.4 6.3l0.4 5.9l0.4 5.7l0.4 5.5l0.4 4.9l0.4 4.2l0.4 4.2l0.4 3.2l0.4 3l0.4 2.5l0.4 1.7l0.4 1.3l0.4 1.2l0.4 1.1l0.4 0.8l0.4 0.5l0.4 0.6l0.4 0.6l0.4 0.4l0.4 0l0.4 0.3l0.4 0.2l0.4 0.3l0.4 0.8l0.4 0l0.4 0l0.4 0.3l0.4 -0.1l0.4 0.1l0.4 0.4l0.4 -0.1l1.3 0.3l1.3 0.4l1.3 -0.1l1.3 0.2l1.3 0.7l1.3 0l1.3 -0.1l1.3 -0.1l1.3 -0.2l1.3 0.1l1.3 0.3l1.3 0.3l1.3 0l1.3 0.2l1.3 0l1.3 -0.1l1.3 0.1l1.3 -0.1l1.3 0.2l1.3 0l1.3 -0.3l1.3 0l1.3 0.3l1.3 0.3l1.3 -0.4l1.3 -0.3l1.3 0.4l1.3 -0.1l1.3 -0.2l1.3 0.1l1.3 0.1l1.3 0.4l1.3 -0.1l1.3 -0.1l1.3 0.1l1.3 -0.3l1.3 -0.1l1.3 0l1.3 -0.1l1.3 -0.4l1.3 0.5l1.3 0.4l1.3 -0.1l1.3 0.1l1.3 -0.2l1.3 0l1.3 0.3l1.3 -0.2l1.3 -0.2l1.3 0.1l1.3 0.2l1.3 -0.2l1.3 0.2l1.3 -0.2l1.3 0l1.3 0.3l1.3 -0.4l1.3 0.1l1.3 0l1.3 0l1.3 0.1l1.3 -0.1l1.3 0.3l1.3 0.1l1.3 -0.3l1.3 0.2l1.3 0.1l1.3 -0.2l1.3 0l1.3 -0.3l1.3 0.3l1.3 -0.1l1.3 0l1.3 0.4l1.3 -0.3l1.3 -0.3l1.3 -0.2l1.3 -0.2l1.3 0.6l1.3 0.4l1.3 -0.1l1.3 0l1.3 -0.4l1.3 0l1.3 0.1l1.3 -0.5l1.3 0.1l1.3 0.2l1.3 0.4l1.3 -0.1l1.3 -0.5l1.3 0.2l1.3 0.4l1.3 -0.4l1.3 -0.2l1.3 0.6l1.3 0.4l1.3 -0.1l1.3 -0.2l1.3 -0.1l1.3 -0.2l1.3 0l1.3 -0.1l1.3 0l1.3 0.2l1.3 0.2l1.3 0.3l0.4 -0.1l0.4 -0.3l0.4 0l0.4 -0.4l0.4 0l0.4 0.4l0.4 -0.3l0.4 0.1l0.4 -0.1l0.4 0.1l0.4 0.1l0.4 -0.4l0.4 0.1l0.4 0.2l0.4 -0.2l0.4 -0.4l0.4 0.5l0.4 0.2l0.4 -0.4l0.4 0.2l0.4 -0.1l0.4 -0.1l0.4 0.4l0.4 0.5l0.4 0.2l0.4 -0.3l0.4 -0.5l0.4 0l0.4 0.2l1.3 0.1l1.3 0l1.3 -0.6l1.3 0.2l1.3 0.5l1.3 -0.3l1.3 -0.4l1.3 0.2l1.3 0l1.3 -0.1l1.3 0l1.3 -0.1l1.3 0.3l1.3 0.2l1.3 0.1l1.3 -0.4l1.3 0l1.3 0.2l1.3 -0.2l1.3 -0.1l1.3 0.3l1.3 0.3l1.3 0.1l1.3 -0.4l1.3 -0.4l1.3 0.2l1.3 0l1.3 -0.2l1.3 0.1l1.3 0.2l1.3 0.3l1.3 0l1.3 -0.5l1.3 0.3l1.3 0l1.3 0l1.3 0.1l1.3 -0.3l1.3 0.4l1.3 0.1l1.3 -0.8l1.3 -0.1l1.3 0.3l1.3 0.3l1.3 0.1l1.3 -0.3l1.3 -0.1l1.3 -0.1l1.3 0.1l1.3 0.3l1.3 0.1l1.3 -0.1l1.3 -0.4l1.3 -0.1l1.3 0.4l1.3 0.2l1.3 0.2l1.3 0.2l1.3 -0.1l1.3 0.1l1.3 0l1.3 -0.3l1.3 0.1l1.3 -0.2l1.3 -0.1l1.3 -0.2l1.3 -0.2l1.3 0.5l1.3 0.4l1.3 -0.6l1.3 -0.5l1.3 0.3l1.3 0l1.3 -0.1l1.3 0.3l1.3 0.3l1.3 -0.1l1.3 -0.2l1.3 -0.1l1.3 0.1l1.3 0.4l1.3 -0.1l1.3 -0.2l1.3 0.1l1.3 0.2l1.3 -0.5l1.3 0.1l1.3 0.7l1.3 -0.2l1.3 -0.4l1.3 0l1.3 0.4l1.3 -0.1l1.3 -0.7l1.3 0.4l1.3 0.3l1.3 -0.2l1.3 -0.1l1.3 -0.1l1.3 0.2l1.3 0.2l1.3 -0.4l1.3 -0.4l1.3 -0.2l1.3 0.1l1.3 0.4l1.3 0.2l1.3 -0.2l1.3 0l1.3 0.3l1.3 0l1.3 0l1.3 -0.2l1.3 -0.2l1.3 0.3l1.3 -0.1l1.3 -0.1l1.3 -0.4l1.3 0.1l1.3 0.5l1.3 -0.2l1.3 -0.2l1.3 0.1l1.3 0.3l1.3 -0.5l1.3 -0.7l1.3 0.5l1.3 0.7l1.3 -0.1l1.3 -0.4l1.3 -0.2l0.4 0.1l0.4 0l0.4 0.3l0.4 -0.3l0.4 -0.2l0.4 0.3l0.4 -0.1l0.4 -0.5l0.4 0l0.4 0l0.4 -0.5l0.4 0.2l0.4 0.1l0.4 0.1l0.4 -0.2l0.4 0l0.4 0.1l0.4 -0.2l0.4 -0.3l0.4 -0.5l0.4 -0.2l0.4 -0.4l0.4 -0.9l0.4 -0.5l0.4 -0.6l0.4 -0.9l0.4 -1.4l0.4 -1.3l0.4 -1.3l0.4 -2.3l0.4 -1.9l0.4 -1.8l0.4 -2.3l0.4 -2.5l0.4 -2.5l0.4 -2.7l0.4 -2.5l0.4 -2.2l0.4 -2.7l0.4 -2.2l0.4 -2.1l0.4 -2l0.4 -1.4l0.4 -1.5l0.4 -0.7l0.4 -0.1l0.4 0l0.4 -0.1l0.4 0.3l0.4 0.5l0.4 0.9l0.4 1l0.4 0.9l0.4 0.8l0.4 1.8l0.4 1.6l0.4 1l0.4 1.7l0.4 1.7l0.4 1.6l0.4 1.8l0.4 1.4l0.4 1.8l0.4 1.8l0.4 1.4l0.4 1.3l0.4 2.2l0.4 1.6l0.4 0.7l0.4 1.2l0.4 1l0.4 1.6l0.4 1.7l0.4 0.5l0.4 0.5l0.4 1.1l0.4 0.8l0.4 0.7l0.4 0.8l0.4 0.2l0.4 0.4l0.4 1l0.4 0.6l0.4 0.2l0.4 0.3l0.4 0.4l0.4 0.5l0.4 0.1l0.4 0l1.3 0.3l1.3 0.3l1.3 0.5l1.3 0.4l1.3 0l1.3 -0.1l1.3 0.2l1.3 -0.1l1.3 0.2l1.3 0.1l1.3 0l1.3 -0.1l1.3 -0.1l1.3 -0.3l1.3 0.1l1.3 0.4l1.3 -0.5l1.3 0l1.3 0.3l1.3 0.2l1.3 0.1l1.3 -0.2l1.3 0.1l1.3 -0.3l1.3 0.1l1.3 0.1l1.3 -0.2l1.3 -0.1l1.3 0l1.3 0.1l1.3 0.3l1.3 0.6l1.3 0l1.3 -0.5l1.3 0.1l1.3 -0.3l1.3 -0.3l1.3 0.4l1.3 0.3l1.3 0l1.3 0l1.3 -0.5l1.3 0l1.3 -0.1l1.3 0.1l1.3 0.4l1.3 -0.2l1.3 -0.3l1.3 0l1.3 0l1.3 0.3l1.3 0.2l1.3 -0.2l1.3 0l1.3 0.4l1.3 -0.1l1.3 -0.3l1.3 -0.1l1.3 -0.4l1.3 0.1l1.3 0.3l1.3 0.3l1.3 0l1.3 -0.3l1.3 0.1l1.3 0l1.3 0.4l1.3 0.1l1.3 -0.6l1.3 -0.2l1.3 0l1.3 0l1.3 0.2l1.3 0.1l1.3 -0.2l1.3 -0.1l1.3 0.3l1.3 0.2l1.3 -0.3l1.3 0.2l1.3 0.2l1.3 0.1l1.3 -0.3l1.3 0.1l1.3 0.3l1.3 -0.2l1.3 0l1.3 0.1l1.3 -0.4l1.3 -0.3l1.3 -0.2l1.3 0.1l1.3 0.1l1.3 0.3l1.3 0.1l1.3 -0.3l1.3 0.2l1.3 0.3l1.3 -0.1l1.3 0.2l1.3 -0.1l1.3 -0.3l1.3 0.4l1.3 0.3l1.3 -0.7l1.3 -0.3l1.3 0.4l1.3 0.4l1.3 0l1.3 -0.3l1.3 -0.5l1.3 0l1.3 0.2l1.3 0.4l1.3 -0.1l1.3 -0.4l1.3 -0.1l1.3 0.1l1.3 0.2l1.3 0l1.3 0.4l1.3 -0.3l1.3 0.1l0.3 0.4"/>
<path d="M888.2 885.3l1.3 0.1l1.3 0l1.3 0.1l1.3 -0.1l1.3 0.3l1.3 -0.4l1.3 -0.4l1.3 0.5l1.3 -0.1l1.3 -0.1l1.3 0.2l1.3 -0.2l1.3 -0.1l1.3 0.3l1.3 -0.3l1.3 0l1.3 0.6l1.3 0l1.3 0.1l1.3 0.2l1.3 -0.3l1.3 -0.2l1.3 0.3l1.3 -0.2l1.3 0.2l1.3 0.2l1.3 -0.3l1.3 -0.2l1.3 -0.1l1.3 0l1.3 0l1.3 0.1l1.3 -0.1l1.3 -0.3l1.3 0.4l1.3 0.6l1.3 -0.3l1.3 -0.4l1.3 -0.2l1.3 0.1l1.3 -0.3l1.3 0.2l1.3 0.6l1.3 -0.4l1.3 -0.1l1.3 -0.1l1.3 -0.1l1.3 0.2l1.3 0.1l1.3 0.3l1.3 0.2l1.3 -0.2l1.3 -0.1l1.3 -0.4l1.3 -0.2l1.3 0.3l1.3 0.1l1.3 0.1l1.3 0.1l1.3 0l1.3 -0.1l1.3 -0.1l1.3 -0.4l1.3 0l1.3 0.4l1.3 0.3l1.3 -0.5l1.3 -0.4l1.3 0.3l1.3 0.2l1.3 0.5l1.3 -0.1l1.3 -0.1l1.3 0.4l1.3 -0.5l1.3 -0.1l1.3 0.3l1.3 -0.3l1.3 -0.2l1.3 0.1l1.3 0l1.3 0l1.3 -0.2l1.3 0.1l1.3 0.1l1.3 0.1l1.3 0l1.3 0l1.3 0l1.3 -0.1l1.3 0.1l1.3 0.2l1.3 0.1l1.3 -0.2l1.3 -0.2l1.3 0.3l1.3 -0.4l1.3 -0.6l1.3 0.2l1.3 0.1l1.3 0l1.3 0.2l1.3 0.1l1.3 -0.1l1.3 0.1l1.3 0.4l1.3 0l1.3 0.1l1.3 -0.3l1.3 -0.9l1.3 0.2l1.3 1l1.3 -0.2l1.3 -0.1l1.3 0l1.3 0.1l1.3 0l1.3 -0.2l1.3 0.5l1.3 -0.5l1.3 -0.5l1.3 0.6l1.3 -0.2l1.3 -0.3l1.3 0.4l1.3 -0.3l1.3 -0.3l1.3 0.5l1.3 0.2l1.3 0l1.3 -0.4l1.3 -0.2l1.3 0.2l1.3 -0.3l1.3 0.3l1.3 -0.3l1.3 -0.2l1.3 0.5l1.3 -0.4l1.3 -0.2l1.3 0.1l1.3 -0.6l1.3 0.1l1.3 -0.2l1.3 -0.1l1.3 0.1l1.3 -0.6l1.3 -0.1l0.4 0.1l0.4 0l0.4 -0.4l0.4 -0.6l0.4 0l0.4 0l0.4 0.4l0.4 0l0.4 -0.6l0.4 0l0.4 -0.6l0.4 -0.4l0.4 -0.2l0.4 0.3l0.4 -0.1l0.4 -0.6l0.4 -0.1l0.4 -0.3l0.4 -0.4l0.4 -0.4l0.4 -0.4l0.4 -0.8l0.4 -0.7l0.4 -0.5l0.4 -1.2l0.4 -1.2l0.4 -1.8l0.4 -2.6l0.4 -2.3l0.4 -3.3l0.4 -4l0.4 -4.8l0.4 -6.4l0.4 -7.1l0.4 -7.9l0.4 -9l0.4 -9l0.4 -9.3l0.4 -9.5l0.4 -9l0.4 -7.1l0.4 -4.1l0.4 -1.8l0.4 0.6l0.4 2.6l0.4 3.6l0.4 4.8l0.4 5l0.4 4.2l0.4 3.7l0.4 3.6l0.4 3.7l0.4 3.4l0.4 4.3l0.4 4.9l0.4 5.2l0.4 6l0.4 6.2l0.4 5.7l0.4 5.5l0.4 5.2l0.4 4.9l0.4 4.3l0.4 3.5l0.4 3.2l0.4 2.3l0.4 1.7l0.4 1.7l0.4 1.3l0.4 1l0.4 1.2l0.4 0.4l0.4 0.6l0.4 0.7l0.4 0.2l0.4 0.4l0.4 0.3l0.4 0.1l0.4 0.3l0.4 -0.1l0.4 0l0.4 0.5l0.4 0.5l0.4 0l0.4 0.1l0.4 0.3l0.4 0.1l0.4 0.1l1.3 0.3l1.3 0.3l1.3 0l1.3 0.7l1.3 0.3l1.3 -0.4l1.3 0.2l1.3 0l1.3 -0.2l1.3 -0.4l1.3 0.1l1.3 0.4l1.3 0.5l1.3 0.5l1.3 0l1.3 0.1l1.3 0l1.3 -0.5l1.3 -0.3l1.3 0.2l1.3 0.1l1.3 -0.1l1.3 -0.1l1.3 0.2l1.3 0.5l1.3 -0.6l1.3 -0.1l1.3 0.4l1.3 -0.3l1.3 0.1l1.3 0l1.3 0l1.3 0.2l1.3 0.1l1.3 0.2l1.3 0.1l1.3 -0.2l1.3 -0.3l1.3 -0.2l1.3 0l1.3 0.1l1.3 0.3l1.3 0.2l1.3 0l1.3 0.1l1.3 -0.4l1.3 0.2l1.3 0.1l1.3 -0.3l1.3 0l1.3 0.1l1.3 0l1.3 0.2l1.3 0.2l1.3 -0.2l1.3 -0.4l1.3 -0.3l1.3 0.4l1.3 0.2l1.3 -0.3l1.3 -0.1l1.3 0l1.3 0.1l1.3 0.3l1.3 0.4l1.3 -0.1l1.3 -0.4l1.3 -0.2l1.3 0.1l1.3 -0.1l1.3 0.2l1.3 -0.1l1.3 -0.1l1.3 0.2l1.3 0l1.3 -0.3l1.3 0.1l1.3 0l1.3 -0.2l1.3 0.4l1.3 0.1l1.3 0.1l1.3 0.2l1.3 -0.4l1.3 -0.5l1.3 -0.1l1.3 0l1.3 0.6l1.3 0.1l1.3 -0.1l1.3 0.2l1.3 0.4l1.3 -0.1l1.3 -0.6l1.3 0l1.3 0.3l1.3 -0.1l1.3 -0.3l1.3 0.4l1.3 0l1.3 -0.3l1.3 0.1l1.3 0l1.3 0.1l1.3 -0.1l1.3 0.2l1.3 -0.1l0.4 -0.7l0.4 0.1l0.4 0.5l0.4 0.1l0.4 0.2l0.4 -0.1l0.4 -0.3l0.4 0.2l0.4 0.2l0.4 0.1l0.4 -0.3l0.4 -0.1l0.4 0.2l0.4 0l0.4 0l0.4 0.1l0.4 -0.4l0.4 0.1l0.4 0.1l0.4 -0.2l0.4 0.3l0.4 0.1l0.4 -0.3l0.4 0.2l0.4 0.1l0.4 -0.6l0.4 0.2l0.4 0.3l0.4 -0.4l0.4 -0.2l1.3 0.1l1.3 0.4l1.3 0.4l1.3 -0.4l1.3 -0.2l1.3 0.3l1.3 0.1l1.3 0.1l1.3 0.4l1.3 -0.4l1.3 -0.5l1.3 0l1.3 0.3l1.3 0.1l1.3 0l1.3 -0.1l1.3 -0.2l1.3 0.3l1.3 0l1.3 -0.2l1.3 -0.2l1.3 0.3l1.3 0.1l1.3 -0.3l1.3 0.1l1.3 -0.1l1.3 -0.2l1.3 -0.1l1.3 -0.1l1.3 0.2l1.3 0.6l1.3 -0.4l1.3 -0.3l1.3 0.4l1.3 0.1l1.3 -0.1l1.3 -0.3l1.3 -0.3l1.3 -0.1l1.3 0.8l1.3 0.2l1.3 -0.8l1.3 0l1.3 0.5l1.3 0.2l1.3 -0.4l1.3 -0.1l1.3 0.1l1.3 -0.3l1.3 0.4l1.3 0.4l1.3 -0.6l1.3 0l1.3 0.4l1.3 0l1.3 -0.1l1.3 0l1.3 0l1.3 0l1.3 0l1.3 0.1l1.3 -0.2l1.3 -0.1l1.3 0.1l1.3 -0.5l1.3 0l1.3 0.2l1.3 0.4l1.3 0.4l1.3 -0.1l1.3 -0.5l1.3 0.1l1.3 0.7l1.3 -0.6l1.3 -0.3l1.3 0.6l1.3 -0.5l1.3 -0.1l1.3 0.1l1.3 0l1.3 0.1l1.3 0.1l1.3 -0.1l1.3 -0.3l1.3 0.1l1.3 0.3l1.3 0.1l1.3 0.3l1.3 -0.2l1.3 -0.2l1.3 0.1l1.3 -0.4l1.3 0.3l1.3 -0.2l1.3 0l1.3 0.2l1.3 -0.2l1.3 0.1l1.3 0.1l1.3 -0.4l1.3 -0.3l1.3 0.1l1.3 -0.1l1.3 0.2l1.3 0.3l1.3 0l1.3 0.1l1.3 0l1.3 0.2l1.3 0.2l1.3 -0.6l1.3 0l1.3 0l1.3 0.1l1.3 0l1.3 -0.3l1.3 0.1l1.3 0.3l1.3 -0.1l1.3 0l1.3 0.6l1.3 -0.3l1.3 -0.3l1.3 -0.2l1.3 -0.2l1.3 0.1l1.3 -0.2l1.3 0.3l1.3 0.1l1.3 -0.3l0.4 -0.3l0.4 -0.2l0.4 0l0.4 0.1l0.4 0.3l0.4 0l0.4 -0.1l0.4 0.1l0.4 -0.1l0.4 -0.2l0.4 0.1l0.4 -0.1l0.4 0.1l0.4 0.1l0.4 -0.3l0.4 0l0.4 0.2l0.4 -0.6l0.4 -0.4l0.4 -0.1l0.4 -0.6l0.4 -0.5l0.4 -0.2l0.4 -1.1l0.4 -0.7l0.4 -0.8l0.4 -1.4l0.4 -1.3l0.4 -1.3l0.4 -1.4l0.4 -1.5l0.4 -2l0.4 -2.5l0.4 -1.9l0.4 -2.2l0.4 -2.8l0.4 -2.2l0.4 -2.6l0.4 -2.9l0.4 -2l0.4 -1.7l0.4 -2l0.4 -1.5l0.4 -0.7l0.4 -0.4l0.4 -0.9l0.4 -0.3l0.4 0.7l0.4 0.1l0.4 0.5l0.4 1.1l0.4 1l0.4 1.2l0.4 1.1l0.4 1.1l0.4 0.9l0.4 1.1l0.4 1.7l0.4 1.1l0.4 1.8l0.4 2.3l0.4 1.5l0.4 1.1l0.4 1.5l0.4 1.9l0.4 1.2l0.4 1.7l0.4 1.9l0.4 1.1l0.4 1.1l0.4 1.2l0.4 1l0.4 1l0.4 0.9l0.4 0.7l0.4 0.8l0.4 0.4l0.4 0.7l0.4 0.7l0.4 0.2l0.4 0.5l0.4 0.6l0.4 0.7l0.4 0.4l0.4 0.1l0.4 0l0.4 0.8l0.4 0.2l0.4 -0.2l1.3 0.9l1.3 0.3l1.3 0.3l1.3 0l1.3 -0.1l1.3 -0.1l1.3 0.3l1.3 0.9l1.3 -0.5l1.3 -0.5l1.3 0.3l1.3 0.1l1.3 0.2l1.3 0.2l1.3 -0.5l1.3 -0.3l1.3 0.1l1.3 0l1.3 0.2l1.3 0.1l1.3 0.1l1.3 0.2l1.3 0.1l1.3 -0.5l1.3 -0.2l1.3 0.4l1.3 -0.1l1.3 0.3l1.3 0.4l1.3 -0.3l1.3 -0.4l1.3 -0.2l1.3 0.2l1.3 0l1.3 0l1.3 0.1l1.3 0.1l1.3 0.4l1.3 -0.4l1.3 -0.7l1.3 0.3l1.3 0.1l1.3 -0.2l1.3 0.2l1.3 0.2l1.3 -0.1l1.3 0l1.3 -0.2l1.3 -0.3l1.3 0l1.3 0.3l1.3 0.1l1.3 0l1.3 0.2l1.3 0.1l1.3 -0.2l1.3 0.3l1.3 0.3l1.3 -0.2l1.3 -0.4l1.3 0l1.3 0.7l1.3 0l1.3 -0.6l1.3 -0.3l1.3 -0.1l1.3 -0.1l1.3 0.2l1.3 -0.2l1.3 -0.2l1.3 0.5l1.3 0.4l1.3 -0.3l1.3 0.1l1.3 0.4l1.3 -0.1l1.3 -0.3l1.3 -0.2l1.3 0.2l1.3 0l1.3 -0.3l1.3 0.2l1.3 0.3l1.3 0.1l1.3 0.1l1.3 0l1.3 -0.2l1.3 -0.2l1.3 0.2l1.3 -0.1l1.3 -0.3l1.3 0.2l1.3 0.3l1.3 -0.4l1.3 -0.1l1.3 0.3l1.3 0l1.3 0l1.3 -0.6l1.3 -0.1l1.3 0.4l1.3 0.1l1.3 0.3l1.3 0l1.3 -0.3l1.3 -0.1l1.3 0l1.3 -0.1l1.3 0.4l1.3 0.5l1.3 -0.4l1.3 -0.6l1.3 0.1l1.3 0.3l1.3 -0.2l1.3 0.2l1.3 -0.1l1.3 0l1.3 0l1.3 0l1.3 0.3l1.3 0l1.3 -0.3l1.3 -0.1l0.3 -0.2"/>
<path d="M888.2 924.7l1.3 0.4l1.3 0.4l1.3 -0.2l1.3 -0.2l1.3 0l1.3 -0.3l1.3 -0.2l1.3 0.2l1.3 0l1.3 -0.2l1.3 -0.1l1.3 0l1.3 0.3l1.3 -0.1l1.3 -0.5l1.3 0l1.3 0.6l1.3 0.2l1.3 0.1l1.3 0l1.3 -0.6l1.3 0.6l1.3 0.3l1.3 -0.5l1.3 0l1.3 -0.3l1.3 -0.2l1.3 0.3l1.3 -0.3l1.3 0.4l1.3 0.2l1.3 -0.3l1.3 0.1l1.3 0.5l1.3 0.2l1.3 -0.4l1.3 -0.3l1.3 -0.6l1.3 0.5l1.3 0.2l1.3 -0.4l1.3 0.1l1.3 0.3l1.3 -0.1l1.3 -0.4l1.3 0.1l1.3 0l1.3 0.2l1.3 0.1l1.3 -0.6l1.3 -0.1l1.3 0.6l1.3 0.2l1.3 -0.2l1.3 -0.4l1.3 0l1.3 0.4l1.3 -0.2l1.3 0.2l1.3 0.2l1.3 -0.1l1.3 0.3l1.3 0.1l1.3 -0.2l1.3 0l1.3 -0.1l1.3 -0.4l1.3 -0.1l1.3 0.3l1.3 0.2l1.3 -0.2l1.3 -0.4l1.3 0.1l1.3 0.2l1.3 0.2l1.3 0.1l1.3 -0.1l1.3 0.3l1.3 -0.5l1.3 -0.4l1.3 0.7l1.3 0l1.3 -0.2l1.3 -0.1l1.3 0l1.3 0.1l1.3 0l1.3 0.2l1.3 -0.3l1.3 -0.1l1.3 1.1l1.3 -0.2l1.3 -1l1.3 -0.2l1.3 0l1.3 0.5l1.3 0.1l1.3 -0.2l1.3 -0.3l1.3 0l1.3 0.3l1.3 0l1.3 0.1l1.3 0l1.3 -0.2l1.3 0l1.3 0l1.3 -0.1l1.3 0.4l1.3 -0.1l1.3 -0.4l1.3 0.4l1.3 0.5l1.3 -0.3l1.3 -0.2l1.3 0.3l1.3 -0.1l1.3 0l1.3 -0.1l1.3 -0.2l1.3 -0.2l1.3 -0.3l1.3 0.2l1.3 -0.1l1.3 -0.1l1.3 0l1.3 0.4l1.3 -0.1l1.3 -0.1l1.3 0l1.3 -0.2l1.3 0l1.3 -0.2l1.3 0.5l1.3 0.2l1.3 -0.6l1.3 -0.4l1.3 -0.1l1.3 0.2l1.3 0l1.3 -0.1l1.3 -0.3l1.3 -0.2l1.3 0l1.3 -0.2l1.3 -0.2l1.3 -0.2l0.4 0l0.4 0l0.4 0.1l0.4 0.2l0.4 -0.4l0.4 -0.6l0.4 -0.2l0.4 0.3l0.4 0l0.4 -0.4l0.4 -0.4l0.4 -0.1l0.4 -0.3l0.4 -0.4l0.4 -0.2l0.4 -0.1l0.4 -0.2l0.4 -0.2l0.4 0.1l0.4 -0.2l0.4 -0.7l0.4 -0.2l0.4 -0.5l0.4 -0.7l0.4 -0.8l0.4 -1.1l0.4 -0.6l0.4 -1.3l0.4 -2.1l0.4 -2.1l0.4 -3.1l0.4 -3.3l0.4 -4.1l0.4 -5.4l0.4 -5.7l0.4 -6.9l0.4 -8.4l0.4 -8.9l0.4 -9.1l0.4 -9.2l0.4 -8.7l0.4 -7.5l0.4 -6.3l0.4 -4l0.4 -0.9l0.4 1.4l0.4 2.7l0.4 3.5l0.4 4.7l0.4 5.1l0.4 4.1l0.4 3.3l0.4 3.1l0.4 3.7l0.4 3.6l0.4 4l0.4 5.5l0.4 5.4l0.4 5.5l0.4 6.1l0.4 5.3l0.4 5l0.4 5.1l0.4 4.7l0.4 4.1l0.4 3l0.4 3l0.4 2.5l0.4 1.5l0.4 1.3l0.4 1.4l0.4 1.2l0.4 0.6l0.4 0.5l0.4 0.6l0.4 0.4l0.4 0.5l0.4 0.4l0.4 0l0.4 -0.2l0.4 0.2l0.4 0.3l0.4 0.3l0.4 0.5l0.4 0.1l0.4 0l0.4 0.2l0.4 0.4l0.4 0.1l0.4 -0.2l1.3 0.2l1.3 0.3l1.3 0.4l1.3 0.3l1.3 0.1l1.3 0.2l1.3 0.1l1.3 -0.1l1.3 0.1l1.3 0.2l1.3 -0.1l1.3 -0.3l1.3 0l1.3 0.2l1.3 -0.1l1.3 -0.2l1.3 0.2l1.3 0.6l1.3 0l1.3 -0.1l1.3 -0.1l1.3 0l1.3 0.3l1.3 0l1.3 -0.2l1.3 0.1l1.3 0.1l1.3 -0.2l1.3 -0.1l1.3 0.1l1.3 0.3l1.3 0l1.3 -0.3l1.3 0l1.3 0.2l1.3 0l1.3 0l1.3 0.4l1.3 0.5l1.3 -0.3l1.3 -0.3l1.3 -0.1l1.3 0l1.3 0.3l1.3 -0.1l1.3 -0.3l1.3 0l1.3 0.1l1.3 -0.1l1.3 0l1.3 -0.1l1.3 0.1l1.3 0.3l1.3 -0.2l1.3 -0.1l1.3 0.3l1.3 -0.1l1.3 -0.1l1.3 0.1l1.3 -0.1l1.3 -0.1l1.3 0.3l1.3 0l1.3 -0.2l1.3 0l1.3 -0.4l1.3 0.1l1.3 0.2l1.3 -0.1l1.3 -0.1l1.3 0l1.3 0.3l1.3 0.2l1.3 -0.2l1.3 0.1l1.3 0l1.3 0.2l1.3 0l1.3 -0.6l1.3 -0.1l1.3 0.4l1.3 0.3l1.3 -0.1l1.3 -0.2l1.3 -0.1l1.3 0.1l1.3 0.3l1.3 -0.1l1.3 -0.2l1.3 -0.1l1.3 -0.3l1.3 0.3l1.3 0.4l1.3 -0.2l1.3 -0.3l1.3 0.1l1.3 0l1.3 -0.1l1.3 0.3l1.3 0.3l1.3 0l1.3 -0.4l1.3 0.1l1.3 0.2l1.3 -0.4l1.3 0l1.3 0.3l1.3 0l0.4 0.2l0.4 0.2l0.4 -0.3l0.4 -0.1l0.4 0l0.4 -0.2l0.4 -0.5l0.4 0.4l0.4 -0.1l0.4 0l0.4 0.2l0.4 0l0.4 -0.2l0.4 -0.3l0.4 0.6l0.4 0.4l0.4 0l0.4 -0.2l0.4 -0.5l0.4 0l0.4 0.3l0.4 -0.2l0.4 0l0.4 0.4l0.4 0.3l0.4 -0.3l0.4 -0.3l0.4 0l1.3 -0.2l1.3 0l1.3 0.4l1.3 -0.2l1.3 -0.3l1.3 0.5l1.3 0.2l1.3 -0.6l1.3 0l1.3 0.6l1.3 -0.1l1.3 -0.5l1.3 0.1l1.3 0.4l1.3 -0.2l1.3 -0.2l1.3 -0.5l1.3 -0.3l1.3 0.2l1.3 0.4l1.3 0.5l1.3 0.1l1.3 0l1.3 -0.3l1.3 -0.3l1.3 0l1.3 -0.1l1.3 0.4l1.3 0.2l1.3 -0.2l1.3 -0.2l1.3 0.2l1.3 0.3l1.3 0.1l1.3 -0.3l1.3 0.1l1.3 0.2l1.3 -0.4l1.3 -0.2l1.3 0.4l1.3 0.3l1.3 -0.3l1.3 -0.5l1.3 -0.1l1.3 0.3l1.3 0l1.3 0l1.3 0.4l1.3 0.2l1.3 -0.3l1.3 -0.3l1.3 0.2l1.3 -0.1l1.3 -0.3l1.3 0.4l1.3 0.2l1.3 -0.5l1.3 -0.5l1.3 0.3l1.3 0.7l1.3 0.1l1.3 -0.3l1.3 0.3l1.3 -0.4l1.3 -0.4l1.3 0.3l1.3 0.2l1.3 0l1.3 -0.2l1.3 -0.1l1.3 0.2l1.3 -0.1l1.3 0l1.3 0l1.3 -0.1l1.3 -0.3l1.3 0.2l1.3 0.1l1.3 0l1.3 0l1.3 -0.2l1.3 -0.1l1.3 0.2l1.3 0.1l1.3 0.1l1.3 -0.1l1.3 0.1l1.3 0.1l1.3 0l1.3 0.2l1.3 0l1.3 -0.2l1.3 0l1.3 0l1.3 -0.1l1.3 -0.2l1.3 -0.2l1.3 0.2l1.3 0.2l1.3 -0.1l1.3 0.2l1.3 0.2l1.3 0l1.3 0.1l1.3 -0.1l1.3 -0.4l1.3 0.1l1.3 0.3l1.3 0.1l1.3 -0.2l1.3 -0.1l1.3 -0.2l1.3 0l1.3 0.3l1.3 0.2l1.3 0.1l1.3 -0.2l1.3 -0.1l1.3 0.1l1.3 -0.2l1.3 0.2l1.3 0l1.3 -0.2l1.3 -0.1l1.3 -0.3l1.3 0.1l1.3 -0.1l1.3 0.2l1.3 0.4l1.3 -0.7l0.4 -0.1l0.4 0l0.4 -0.3l0.4 0.4l0.4 -0.1l0.4 0.1l0.4 -0.1l0.4 -0.6l0.4 0.2l0.4 0.3l0.4 0l0.4 -0.1l0.4 -0.5l0.4 -0.1l0.4 0.2l0.4 -0.5l0.4 0l0.4 0.2l0.4 -0.6l0.4 -0.2l0.4 -0.2l0.4 -0.5l0.4 -1.4l0.4 -0.6l0.4 -0.4l0.4 -1.2l0.4 -1.5l0.4 -1.3l0.4 -1.5l0.4 -1.7l0.4 -1.4l0.4 -2.3l0.4 -2.4l0.4 -2.4l0.4 -2.1l0.4 -2.5l0.4 -2.6l0.4 -2.5l0.4 -2.6l0.4 -2.1l0.4 -1.6l0.4 -1.4l0.4 -1l0.4 -0.3l0.4 -0.7l0.4 -0.3l0.4 0.2l0.4 0.4l0.4 0.9l0.4 0.8l0.4 0.6l0.4 1.1l0.4 0.9l0.4 1.1l0.4 1.4l0.4 1.1l0.4 1.5l0.4 1.7l0.4 1.7l0.4 1.5l0.4 1.3l0.4 1.9l0.4 1.9l0.4 1.5l0.4 1.1l0.4 1.3l0.4 1.6l0.4 1.3l0.4 1.3l0.4 1.2l0.4 0.5l0.4 1.2l0.4 1.4l0.4 0.6l0.4 0.4l0.4 0.5l0.4 0.6l0.4 0.7l0.4 0.7l0.4 0.6l0.4 0.2l0.4 0.7l0.4 0.4l0.4 0.5l0.4 0.2l0.4 0.1l0.4 0.4l0.4 0.2l1.3 0.5l1.3 -0.1l1.3 0l1.3 0.2l1.3 0.5l1.3 -0.1l1.3 0.2l1.3 0.4l1.3 0.1l1.3 -0.2l1.3 -0.4l1.3 0.2l1.3 0.1l1.3 -0.2l1.3 0l1.3 0.3l1.3 0.1l1.3 -0.1l1.3 -0.3l1.3 -0.1l1.3 0.3l1.3 0.3l1.3 -0.2l1.3 -0.3l1.3 -0.2l1.3 0.2l1.3 0.5l1.3 0l1.3 -0.4l1.3 0.3l1.3 -0.2l1.3 -0.4l1.3 0.2l1.3 0.2l1.3 0l1.3 -0.4l1.3 0.3l1.3 0.2l1.3 -0.1l1.3 0.1l1.3 0.2l1.3 -0.2l1.3 0.1l1.3 0.1l1.3 0.1l1.3 0.4l1.3 0l1.3 0.2l1.3 -0.5l1.3 -0.6l1.3 0.4l1.3 0.3l1.3 -0.6l1.3 -0.4l1.3 0.1l1.3 0.5l1.3 -0.2l1.3 -0.2l1.3 0.4l1.3 -0.1l1.3 -0.2l1.3 0.5l1.3 -0.2l1.3 -0.1l1.3 0.4l1.3 -0.1l1.3 -0.6l1.3 0.1l1.3 0.4l1.3 -0.5l1.3 0.2l1.3 0.5l1.3 -0.1l1.3 -0.5l1.3 0.2l1.3 0.4l1.3 -0.1l1.3 0.2l1.3 -0.3l1.3 -0.4l1.3 0.1l1.3 0.4l1.3 0l1.3 -0.2l1.3 0.2l1.3 0.1l1.3 -0.2l1.3 0.2l1.3 0.1l1.3 -0.1l1.3 -0.2l1.3 -0.3l1.3 -0.2l1.3 0.4l1.3 0l1.3 -0.1l1.3 0l1.3 0l1.3 0.4l1.3 0l1.3 -0.3l1.3 -0.2l1.3 0.3l1.3 0l1.3 -0.1l1.3 -0.1l1.3 -0.3l1.3 0.5l1.3 0.6l1.3 0l1.3 -0.5l1.3 -0.4l1.3 0.3l1.3 0.2l1.3 -0.2l1.3 -0.1l1.3 0.3l1.3 0.1l1.3 -0.3l1.3 -0.2l1.3 0l1.3 -0.2l1.3 0.3l1.3 0.2l0.7 -0.5"/>
<path d="M888.2 964.1l1.3 -0.5l1.3 0.1l1.3 0.1l1.3 0.2l1.3 -0.6l1.3 0l1.3 0.5l1.3 -0.1l1.3 0l1.3 0.2l1.3 -0.1l1.3 -0.1l1.3 0.2l1.3 0.2l1.3 -0.4l1.3 -0.3l1.3 0.6l1.3 0.1l1.3 -0.2l1.3 -0.1l1.3 -0.1l1.3 0.1l1.3 -0.2l1.3 0l1.3 0.2l1.3 0.1l1.3 0.1l1.3 -0.5l1.3 0.2l1.3 0.3l1.3 0l1.3 0.2l1.3 0.1l1.3 0l1.3 -0.4l1.3 -0.4l1.3 0.3l1.3 0.1l1.3 0.1l1.3 -0.2l1.3 -0.1l1.3 0.1l1.3 0.1l1.3 0.1l1.3 -0.1l1.3 -0.1l1.3 0.1l1.3 0.2l1.3 -0.4l1.3 0.1l1.3 0.5l1.3 -0.2l1.3 0.1l1.3 -0.1l1.3 -0.3l1.3 0l1.3 0.1l1.3 0.2l1.3 -0.3l1.3 -0.1l1.3 0l1.3 0.1l1.3 0l1.3 -0.3l1.3 0.2l1.3 0.1l1.3 -0.2l1.3 -0.2l1.3 0l1.3 -0.1l1.3 0.4l1.3 0.2l1.3 -0.2l1.3 -0.3l1.3 0l1.3 0.4l1.3 0l1.3 0l1.3 0.1l1.3 -0.4l1.3 -0.2l1.3 0.6l1.3 0.1l1.3 -0.2l1.3 0.7l1.3 0.3l1.3 -0.6l1.3 -0.3l1.3 -0.2l1.3 0l1.3 0l1.3 0l1.3 0.1l1.3 -0.1l1.3 0l1.3 -0.1l1.3 0.1l1.3 -0.2l1.3 0l1.3 0.1l1.3 -0.1l1.3 0.1l1.3 -0.1l1.3 0.1l1.3 0.3l1.3 -0.3l1.3 -0.2l1.3 0.3l1.3 0.4l1.3 -0.3l1.3 -0.3l1.3 0.5l1.3 0.1l1.3 0.2l1.3 -0.3l1.3 -0.5l1.3 -0.2l1.3 0.1l1.3 0.5l1.3 -0.2l1.3 -0.3l1.3 0.1l1.3 -0.1l1.3 -0.1l1.3 0l1.3 -0.2l1.3 0l1.3 0.2l1.3 -0.1l1.3 0l1.3 0.3l1.3 -0.2l1.3 -0.2l1.3 0.3l1.3 -0.2l1.3 0l1.3 -0.1l1.3 -0.5l1.3 0.3l1.3 0l1.3 -0.3l1.3 0.2l1.3 0.1l1.3 -0.6l1.3 -0.5l1.3 0.2l1.3 0l0.4 -0.4l0.4 0l0.4 -0.3l0.4 -0.4l0.4 0l0.4 0.1l0.4 0l0.4 -0.5l0.4 0l0.4 -0.1l0.4 0.1l0.4 -0.2l0.4 -0.6l0.4 -0.5l0.4 -0.5l0.4 -0.2l0.4 -0.4l0.4 0.1l0.4 -0.5l0.4 -0.4l0.4 0l0.4 -0.9l0.4 -0.7l0.4 -0.8l0.4 -1l0.4 -1.1l0.4 -1.6l0.4 -2.5l0.4 -3.1l0.4 -2.7l0.4 -3.7l0.4 -5.2l0.4 -5.6l0.4 -7l0.4 -7.8l0.4 -8.1l0.4 -9.8l0.4 -9.5l0.4 -9.4l0.4 -9.1l0.4 -7.2l0.4 -5.4l0.4 -2.4l0.4 0.3l0.4 2.3l0.4 3.8l0.4 4.4l0.4 4.8l0.4 4.7l0.4 3.9l0.4 3.6l0.4 3l0.4 3.3l0.4 4.8l0.4 4.9l0.4 4.8l0.4 5.9l0.4 6.2l0.4 6.5l0.4 6.1l0.4 5.1l0.4 4.4l0.4 4.2l0.4 4l0.4 3l0.4 2.1l0.4 2.1l0.4 1.9l0.4 1.9l0.4 0.9l0.4 0.9l0.4 0.9l0.4 0.3l0.4 0.7l0.4 0.4l0.4 0l0.4 0.7l0.4 0.6l0.4 -0.3l0.4 0.1l0.4 0.4l0.4 0.4l0.4 0l0.4 0l0.4 0.6l0.4 0.1l0.4 -0.1l0.4 0.2l1.3 0.1l1.3 0.2l1.3 0.6l1.3 0l1.3 -0.1l1.3 0.2l1.3 0.4l1.3 0.4l1.3 -0.1l1.3 0l1.3 -0.2l1.3 0.1l1.3 0.5l1.3 0l1.3 -0.3l1.3 0.1l1.3 0.2l1.3 -0.6l1.3 0.3l1.3 0.5l1.3 -0.4l1.3 0.3l1.3 0.4l1.3 -0.2l1.3 -0.1l1.3 0l1.3 -0.4l1.3 -0.2l1.3 0.4l1.3 0.1l1.3 0.3l1.3 -0.1l1.3 -0.2l1.3 -0.1l1.3 -0.2l1.3 0.4l1.3 0.1l1.3 -0.4l1.3 -0.1l1.3 0.1l1.3 0l1.3 0l1.3 0l1.3 -0.1l1.3 0.1l1.3 0.2l1.3 0.3l1.3 -0.1l1.3 0l1.3 -0.3l1.3 -0.2l1.3 0.1l1.3 -0.1l1.3 0.4l1.3 0.1l1.3 -0.2l1.3 0.2l1.3 -0.2l1.3 -0.2l1.3 0.5l1.3 -0.1l1.3 -0.3l1.3 0.4l1.3 -0.1l1.3 0l1.3 0.2l1.3 -0.3l1.3 -0.2l1.3 0.2l1.3 0.4l1.3 -0.5l1.3 0.2l1.3 0.3l1.3 -0.4l1.3 -0.1l1.3 -0.2l1.3 0.2l1.3 -0.1l1.3 0l1.3 0.2l1.3 -0.1l1.3 0l1.3 0.2l1.3 0.3l1.3 -0.1l1.3 -0.4l1.3 0l1.3 -0.1l1.3 -0.4l1.3 0.2l1.3 0.5l1.3 -0.1l1.3 -0.1l1.3 0.1l1.3 -0.1l1.3 -0.2l1.3 0.2l1.3 0.3l1.3 0.2l1.3 -0.1l1.3 0l1.3 -0.4l1.3 -0.3l1.3 0.3l1.3 0.1l1.3 -0.3l1.3 0.3l1.3 0.3l0.4 0.1l0.4 -0.2l0.4 -0.1l0.4 0.4l0.4 0l0.4 -0.2l0.4 -0.2l0.4 -0.4l0.4 0.4l0.4 0.3l0.4 -0.1l0.4 -0.4l0.4 -0.6l0.4 0.3l0.4 0.4l0.4 -0.1l0.4 0l0.4 0.3l0.4 0.1l0.4 0.2l0.4 -0.3l0.4 -0.4l0.4 0.2l0.4 0l0.4 0.5l0.4 0.3l0.4 -0.5l0.4 -0.2l0.4 -0.3l0.4 -0.3l1.3 -0.1l1.3 0.6l1.3 0.3l1.3 -0.2l1.3 0.2l1.3 -0.5l1.3 -0.1l1.3 0.6l1.3 -0.3l1.3 -0.3l1.3 0l1.3 -0.3l1.3 0.3l1.3 0.3l1.3 0.2l1.3 0.2l1.3 -0.2l1.3 0l1.3 0.2l1.3 0.1l1.3 0.1l1.3 -0.4l1.3 0.1l1.3 0.3l1.3 -0.5l1.3 -0.5l1.3 0.2l1.3 0.4l1.3 -0.3l1.3 0l1.3 0.6l1.3 0.2l1.3 -0.8l1.3 -0.2l1.3 0.3l1.3 -0.1l1.3 0l1.3 0.1l1.3 0.2l1.3 -0.1l1.3 -0.2l1.3 0l1.3 -0.2l1.3 -0.1l1.3 0.2l1.3 0.2l1.3 0l1.3 0.4l1.3 0.2l1.3 -0.6l1.3 0.3l1.3 0.4l1.3 -0.6l1.3 0l1.3 0l1.3 -0.2l1.3 0.2l1.3 0.1l1.3 -0.1l1.3 0l1.3 0.1l1.3 -0.1l1.3 0l1.3 0.1l1.3 0l1.3 -0.2l1.3 -0.3l1.3 0.1l1.3 0.4l1.3 0.2l1.3 0.2l1.3 0.3l1.3 -0.6l1.3 -0.7l1.3 0.1l1.3 0.3l1.3 0l1.3 0l1.3 0l1.3 -0.2l1.3 0.1l1.3 -0.1l1.3 0.3l1.3 0.2l1.3 -0.4l1.3 -0.2l1.3 0.3l1.3 0.2l1.3 -0.1l1.3 -0.1l1.3 -0.1l1.3 0.5l1.3 0.3l1.3 -0.7l1.3 0.1l1.3 0.1l1.3 -0.1l1.3 -0.1l1.3 -0.1l1.3 -0.1l1.3 -0.2l1.3 0.4l1.3 0.7l1.3 -0.1l1.3 -0.5l1.3 -0.4l1.3 0.5l1.3 0.2l1.3 -0.2l1.3 -0.3l1.3 -0.3l1.3 0.4l1.3 0.2l1.3 -0.4l1.3 -0.4l1.3 0.5l1.3 0.2l1.3 -0.5l1.3 0.1l1.3 0l1.3 0l1.3 0l1.3 -0.1l1.3 -0.2l1.3 -0.1l1.3 0.2l1.3 -0.1l1.3 0.4l1.3 0.1l0.4 -0.1l0.4 0.1l0.4 -0.3l0.4 -0.4l0.4 0.3l0.4 0.2l0.4 -0.6l0.4 -0.3l0.4 0.2l0.4 0.6l0.4 0l0.4 -0.5l0.4 0l0.4 0.2l0.4 0.2l0.4 -0.5l0.4 -0.1l0.4 0.1l0.4 -0.4l0.4 0.2l0.4 -0.3l0.4 -0.7l0.4 -0.5l0.4 -0.6l0.4 -0.9l0.4 -1l0.4 -0.9l0.4 -0.9l0.4 -1.3l0.4 -1.4l0.4 -0.9l0.4 -1.6l0.4 -2.7l0.4 -2.2l0.4 -1.8l0.4 -2.2l0.4 -2.4l0.4 -2.8l0.4 -2.4l0.4 -2l0.4 -2.2l0.4 -2.1l0.4 -1.8l0.4 -1.5l0.4 -1l0.4 -0.6l0.4 -0.6l0.4 -0.2l0.4 0l0.4 0.7l0.4 1.2l0.4 0.5l0.4 1l0.4 1.2l0.4 0.8l0.4 0.8l0.4 1.1l0.4 1.2l0.4 1.5l0.4 1.8l0.4 1.5l0.4 1.8l0.4 1.5l0.4 1.1l0.4 1.8l0.4 1.6l0.4 1.7l0.4 1.7l0.4 1.2l0.4 1.3l0.4 1l0.4 0.9l0.4 0.8l0.4 1l0.4 1.1l0.4 0.9l0.4 0.8l0.4 1.2l0.4 0.8l0.4 -0.4l0.4 0.5l0.4 0.8l0.4 0.9l0.4 0.4l0.4 -0.2l0.4 0.2l0.4 0.4l0.4 0.6l0.4 0.3l0.4 0.1l1.3 0.3l1.3 0.6l1.3 0.3l1.3 -0.2l1.3 0.2l1.3 0.5l1.3 -0.2l1.3 -0.2l1.3 0.2l1.3 -0.4l1.3 0.1l1.3 0.2l1.3 -0.3l1.3 0.3l1.3 0.2l1.3 0.3l1.3 -0.2l1.3 -0.1l1.3 -0.2l1.3 -0.3l1.3 0.2l1.3 0.4l1.3 0.2l1.3 -0.2l1.3 -0.2l1.3 0l1.3 0.1l1.3 0l1.3 0.2l1.3 0.2l1.3 -0.1l1.3 0l1.3 -0.3l1.3 -0.2l1.3 0.1l1.3 0.2l1.3 0.5l1.3 -0.5l1.3 -0.3l1.3 0.4l1.3 -0.1l1.3 -0.2l1.3 -0.1l1.3 0.1l1.3 0.4l1.3 0.1l1.3 -0.7l1.3 -0.6l1.3 0.5l1.3 0.7l1.3 0.1l1.3 -0.1l1.3 0l1.3 -0.2l1.3 -0.3l1.3 -0.1l1.3 0.1l1.3 0.4l1.3 0.2l1.3 -0.2l1.3 -0.1l1.3 0.1l1.3 -0.1l1.3 -0.2l1.3 -0.3l1.3 -0.2l1.3 0.3l1.3 0l1.3 0l1.3 0.4l1.3 0.1l1.3 0l1.3 0l1.3 -0.1l1.3 0.1l1.3 -0.2l1.3 0l1.3 0.1l1.3 -0.3l1.3 0.2l1.3 0.4l1.3 -0.6l1.3 -0.2l1.3 0.5l1.3 0.3l1.3 -0.6l1.3 -0.2l1.3 0.6l1.3 0l1.3 -0.2l1.3 0l1.3 0.2l1.3 0l1.3 0l1.3 0.2l1.3 -0.1l1.3 -0.5l1.3 0.1l1.3 0.6l1.3 -0.2l1.3 -0.2l1.3 0.1l1.3 -0.3l1.3 0.1l1.3 0.1l1.3 -0.1l1.3 0l1.3 -0.4l1.3 -0.1l1.3 0.3l1.3 0.3l1.3 -0.1l1.3 -0.4l1.3 0.2l1.3 0.1l1.3 -0.1l1.3 0.3l1.3 0.3l1.3 -0.2l1.3 -0.3l1.3 0l1.3 -0.2l1.3 0.3l1.3 0.4l1.2 -0.2"/>
<path d="M888.2 1003.8l1.3 -0.5l1.3 0l1.3 -0.1l1.3 -0.2l1.3 0.2l1.3 0.2l1.3 0.2l1.3 0.1l1.3 -0.2l1.3 0.1l1.3 0.5l1.3 -0.3l1.3 -0.7l1.3 -0.2l1.3 0.3l1.3 0.2l1.3 0.1l1.3 -0.1l1.3 -0.2l1.3 0l1.3 -0.1l1.3 -0.2l1.3 0.4l1.3 0.5l1.3 -0.2l1.3 -0.5l1.3 -0.3l1.3 0.3l1.3 0.2l1.3 0.2l1.3 -0.2l1.3 -0.1l1.3 0l1.3 0.2l1.3 0.3l1.3 0.1l1.3 0l1.3 -0.3l1.3 0l1.3 0l1.3 -0.3l1.3 0l1.3 0.1l1.3 0.2l1.3 0l1.3 0.1l1.3 -0.4l1.3 -0.3l1.3 0.3l1.3 0.2l1.3 -0.3l1.3 -0.5l1.3 0.4l1.3 0.4l1.3 -0.1l1.3 0.1l1.3 -0.2l1.3 -0.2l1.3 0l1.3 0.2l1.3 0.2l1.3 -0.1l1.3 0l1.3 0l1.3 -0.4l1.3 0l1.3 0.3l1.3 0.4l1.3 0.1l1.3 -0.4l1.3 -0.2l1.3 0.2l1.3 0l1.3 -0.3l1.3 0l1.3 0.2l1.3 0l1.3 -0.1l1.3 0.1l1.3 0.3l1.3 0.2l1.3 -0.5l1.3 -0.6l1.3 0.2l1.3 0.8l1.3 0.1l1.3 -0.2l1.3 0.1l1.3 -0.4l1.3 -0.3l1.3 0.1l1.3 0.2l1.3 0l1.3 0l1.3 0.3l1.3 0.1l1.3 -0.2l1.3 -0.1l1.3 0l1.3 -0.2l1.3 -0.1l1.3 0.6l1.3 0.3l1.3 -0.3l1.3 -0.4l1.3 -0.1l1.3 0l1.3 0.4l1.3 0.4l1.3 -0.2l1.3 -0.4l1.3 -0.1l1.3 -0.1l1.3 -0.1l1.3 0l1.3 0.1l1.3 0l1.3 -0.1l1.3 -0.3l1.3 0.5l1.3 0l1.3 -0.2l1.3 0.1l1.3 0.1l1.3 0.1l1.3 0.4l1.3 -0.5l1.3 -0.8l1.3 0.7l1.3 -0.2l1.3 -0.8l1.3 0.5l1.3 0.5l1.3 -0.1l1.3 -0.4l1.3 -0.6l1.3 -0.1l1.3 0.9l1.3 0.3l1.3 -0.8l1.3 0.2l1.3 -0.1l1.3 -0.7l1.3 -0.3l1.3 -0.4l1.3 0l0.4 0.2l0.4 0l0.4 -0.3l0.4 0l0.4 -0.3l0.4 -0.2l0.4 0.3l0.4 -0.4l0.4 -0.4l0.4 0l0.4 -0.2l0.4 -0.4l0.4 -0.1l0.4 0.2l0.4 -0.3l0.4 -0.5l0.4 -0.2l0.4 -0.2l0.4 -0.1l0.4 -0.4l0.4 -0.6l0.4 -0.5l0.4 -0.2l0.4 -0.6l0.4 -0.7l0.4 -1l0.4 -1.4l0.4 -1l0.4 -1.8l0.4 -2l0.4 -2.7l0.4 -4l0.4 -4.2l0.4 -5l0.4 -6.6l0.4 -7.3l0.4 -7.8l0.4 -8.7l0.4 -9.5l0.4 -9.9l0.4 -9.7l0.4 -8.4l0.4 -6.7l0.4 -4.7l0.4 -2l0.4 0.9l0.4 2.9l0.4 4l0.4 4.5l0.4 4.8l0.4 4.6l0.4 3.9l0.4 3.7l0.4 3.3l0.4 4l0.4 4.7l0.4 4.8l0.4 5.4l0.4 5.8l0.4 6.2l0.4 6.3l0.4 5.9l0.4 5l0.4 4.6l0.4 4.7l0.4 3.6l0.4 2.8l0.4 2.3l0.4 2l0.4 1.5l0.4 1.4l0.4 1.8l0.4 0.6l0.4 0.3l0.4 0.6l0.4 0.3l0.4 0.1l0.4 0.1l0.4 0.7l0.4 0.7l0.4 0.4l0.4 -0.1l0.4 -0.3l0.4 0.6l0.4 0.2l0.4 0.1l0.4 0.2l0.4 0.2l0.4 -0.2l0.4 -0.2l1.3 0.4l1.3 0.4l1.3 0.6l1.3 0.1l1.3 0.2l1.3 0.4l1.3 -0.1l1.3 0l1.3 0.3l1.3 0l1.3 -0.3l1.3 0.3l1.3 0.7l1.3 -0.3l1.3 -0.5l1.3 0.2l1.3 0.4l1.3 -0.2l1.3 -0.3l1.3 0.4l1.3 0.2l1.3 -0.2l1.3 0.5l1.3 -0.2l1.3 -0.8l1.3 0.4l1.3 0l1.3 0l1.3 0.4l1.3 0l1.3 0.2l1.3 0l1.3 -0.3l1.3 0.1l1.3 0l1.3 -0.3l1.3 0.2l1.3 -0.2l1.3 -0.2l1.3 0.2l1.3 0.1l1.3 0l1.3 -0.2l1.3 0.2l1.3 0.1l1.3 -0.2l1.3 -0.2l1.3 0.3l1.3 -0.1l1.3 0.2l1.3 0.3l1.3 0.2l1.3 -0.2l1.3 -0.3l1.3 -0.2l1.3 0.4l1.3 0.4l1.3 -0.4l1.3 -0.2l1.3 0.2l1.3 0.1l1.3 0.2l1.3 0l1.3 -0.5l1.3 -0.4l1.3 0.1l1.3 0.3l1.3 0l1.3 0.1l1.3 0.3l1.3 -0.1l1.3 -0.4l1.3 -0.1l1.3 0.2l1.3 0.1l1.3 0l1.3 -0.4l1.3 -0.1l1.3 0.5l1.3 -0.1l1.3 -0.1l1.3 0.6l1.3 0l1.3 -1l1.3 0l1.3 0.3l1.3 -0.1l1.3 0.3l1.3 0.1l1.3 -0.1l1.3 -0.2l1.3 -0.1l1.3 -0.2l1.3 0.5l1.3 0.2l1.3 -0.5l1.3 0.3l1.3 0.2l1.3 -0.4l1.3 -0.2l1.3 0.5l1.3 0l1.3 -0.2l1.3 -0.1l1.3 0.2l1.3 0l1.3 -0.1l1.3 0.4l1.3 -0.3l0.4 -0.4l0.4 0.4l0.4 0.2l0.4 -0.1l0.4 -0.2l0.4 0.2l0.4 -0.3l0.4 -0.1l0.4 0.5l0.4 0.3l0.4 -0.1l0.4 0.1l0.4 -0.1l0.4 -0.3l0.4 -0.2l0.4 0.1l0.4 0.4l0.4 0.2l0.4 -0.3l0.4 -0.2l0.4 0.2l0.4 0.1l0.4 0.1l0.4 -0.2l0.4 -0.4l0.4 0.1l0.4 0.2l0.4 -0.2l1.3 -0.3l1.3 0.2l1.3 -0.1l1.3 -0.5l1.3 0.3l1.3 0.7l1.3 0l1.3 -0.4l1.3 0l1.3 0.1l1.3 -0.1l1.3 0l1.3 0l1.3 -0.3l1.3 0.1l1.3 0.3l1.3 0.3l1.3 -0.2l1.3 -0.3l1.3 0.3l1.3 0.3l1.3 0.3l1.3 0l1.3 -0.6l1.3 -0.3l1.3 0.8l1.3 0.4l1.3 -0.7l1.3 -0.4l1.3 0.1l1.3 0l1.3 0.1l1.3 0l1.3 0l1.3 -0.2l1.3 0l1.3 0.4l1.3 0.1l1.3 -0.2l1.3 -0.3l1.3 0l1.3 0.2l1.3 0.1l1.3 0.1l1.3 0.3l1.3 -0.2l1.3 -0.1l1.3 0.1l1.3 0l1.3 -0.3l1.3 -0.4l1.3 0.3l1.3 0.2l1.3 -0.4l1.3 0.1l1.3 0l1.3 -0.1l1.3 0.2l1.3 -0.3l1.3 0l1.3 0.5l1.3 0l1.3 -0.1l1.3 -0.2l1.3 0l1.3 0.4l1.3 -0.1l1.3 0l1.3 0.2l1.3 -0.3l1.3 -0.2l1.3 0.2l1.3 0l1.3 0l1.3 0l1.3 -0.1l1.3 0.2l1.3 -0.1l1.3 -0.3l1.3 0.5l1.3 0.6l1.3 -0.3l1.3 -0.6l1.3 -0.5l1.3 0l1.3 0.5l1.3 0.3l1.3 -0.2l1.3 -0.2l1.3 0.4l1.3 0l1.3 -0.2l1.3 0.3l1.3 -0.3l1.3 -0.5l1.3 0.2l1.3 0.5l1.3 0.2l1.3 -0.2l1.3 -0.2l1.3 -0.3l1.3 -0.1l1.3 0.1l1.3 0.2l1.3 0l1.3 -0.2l1.3 0.2l1.3 0l1.3 -0.3l1.3 0l1.3 0.2l1.3 -0.1l1.3 0.4l1.3 0.1l1.3 -0.6l1.3 -0.1l1.3 0.3l1.3 0.1l1.3 -0.2l1.3 0.1l1.3 0.3l1.3 -0.5l1.3 -0.5l1.3 0.2l1.3 0.4l1.3 0l1.3 -0.1l1.3 0.2l1.3 -0.3l0.4 -0.4l0.4 0.2l0.4 0.3l0.4 0l0.4 -0.2l0.4 -0.3l0.4 0l0.4 0.1l0.4 0l0.4 0l0.4 -0.3l0.4 -0.3l0.4 0.1l0.4 0l0.4 0.1l0.4 0.2l0.4 0l0.4 0l0.4 -0.9l0.4 -0.4l0.4 0l0.4 -0.6l0.4 -0.7l0.4 -0.5l0.4 -0.5l0.4 -1l0.4 -1.3l0.4 -1.5l0.4 -1l0.4 -1.3l0.4 -2l0.4 -2.2l0.4 -2.3l0.4 -2.2l0.4 -2.4l0.4 -2.4l0.4 -2.3l0.4 -2.4l0.4 -2.4l0.4 -2.6l0.4 -2.2l0.4 -1.7l0.4 -1.5l0.4 -1.3l0.4 -0.8l0.4 -0.9l0.4 -0.3l0.4 0.6l0.4 0.4l0.4 0.3l0.4 0.8l0.4 0.8l0.4 1l0.4 1.3l0.4 1.1l0.4 1.6l0.4 1.7l0.4 1.1l0.4 1.1l0.4 1.7l0.4 2.1l0.4 1.2l0.4 1.4l0.4 1.9l0.4 2.2l0.4 1.6l0.4 1.4l0.4 1.6l0.4 1.3l0.4 1.1l0.4 1l0.4 1.2l0.4 0.7l0.4 0.7l0.4 0.8l0.4 0.9l0.4 0.5l0.4 0.4l0.4 1.1l0.4 0.8l0.4 0.4l0.4 0.6l0.4 0.6l0.4 0.3l0.4 0.6l0.4 0.1l0.4 0.2l0.4 0.1l0.4 -0.1l0.4 0.8l1.3 0.9l1.3 0.5l1.3 -0.1l1.3 -0.3l1.3 0.1l1.3 -0.1l1.3 0.1l1.3 0.3l1.3 0l1.3 0l1.3 0.1l1.3 0.1l1.3 -0.2l1.3 -0.1l1.3 0l1.3 0l1.3 0.1l1.3 -0.1l1.3 0.1l1.3 0.3l1.3 0l1.3 -0.4l1.3 -0.1l1.3 0.1l1.3 0.2l1.3 0.1l1.3 -0.4l1.3 0.2l1.3 0.2l1.3 -0.3l1.3 -0.3l1.3 0l1.3 0.5l1.3 0.1l1.3 -0.2l1.3 -0.3l1.3 0.1l1.3 0.3l1.3 0.3l1.3 0.3l1.3 -0.4l1.3 -0.5l1.3 0.4l1.3 0.2l1.3 -0.3l1.3 -0.2l1.3 -0.2l1.3 0.3l1.3 0.1l1.3 -0.2l1.3 0.1l1.3 0.2l1.3 0.1l1.3 -0.1l1.3 -0.2l1.3 0.1l1.3 0.1l1.3 -0.2l1.3 -0.1l1.3 0.2l1.3 0.5l1.3 -0.3l1.3 -0.2l1.3 0l1.3 0.3l1.3 0.1l1.3 -0.3l1.3 0l1.3 -0.1l1.3 0l1.3 0l1.3 0.1l1.3 0.1l1.3 -0.4l1.3 -0.3l1.3 0l1.3 0.3l1.3 0.2l1.3 -0.1l1.3 0l1.3 0.4l1.3 0.1l1.3 -0.3l1.3 -0.5l1.3 0.2l1.3 0.8l1.3 0.2l1.3 -0.6l1.3 -0.3l1.3 0.2l1.3 0l1.3 -0.3l1.3 -0.2l1.3 0.1l1.3 0.4l1.3 0.1l1.3 -0.3l1.3 -0.2l1.3 0.4l1.3 0.6l1.3 -0.3l1.3 -0.4l1.3 -0.4l1.3 0.2l1.3 0.5l1.3 0.2l1.3 -0.1l1.3 -0.5l1.3 0l1.3 0.4l1.3 0.1l1.3 -0.3l1.3 0.2l1.3 0.1l1.3 -0.1l1.3 -0.2l1.3 0.1l1.3 0.1l1.3 -0.2l1.3 -0.2l1.3 0.3l1.3 0.2l1.3 -0.4l1.3 0l1.2 0.1"/>
<path d="M888.2 1043.1l1.3 0.1l1.3 0.2l1.3 -0.7l1.3 -0.2l1.3 0.4l1.3 0.2l1.3 -0.2l1.3 -0.2l1.3 0.7l1.3 0.1l1.3 -0.2l1.3 -0.4l1.3 0l1.3 0.4l1.3 -0.2l1.3 0l1.3 0l1.3 0.2l1.3 0l1.3 -0.4l1.3 0.1l1.3 -0.4l1.3 0.1l1.3 0.8l1.3 -0.2l1.3 -0.4l1.3 0l1.3 -0.1l1.3 0.1l1.3 0.4l1.3 -0.2l1.3 -0.6l1.3 0l1.3 0l1.3 0l1.3 0.3l1.3 0.5l1.3 0.2l1.3 -0.3l1.3 -0.4l1.3 0.2l1.3 0.1l1.3 -0.1l1.3 -0.2l1.3 0l1.3 0.4l1.3 0.1l1.3 -0.1l1.3 0l1.3 0l1.3 -0.2l1.3 0l1.3 0l1.3 0.2l1.3 -0.1l1.3 -0.3l1.3 0l1.3 -0.1l1.3 0.4l1.3 -0.1l1.3 -0.4l1.3 0.2l1.3 0.3l1.3 -0.3l1.3 0.3l1.3 0.1l1.3 -0.3l1.3 0.1l1.3 0.1l1.3 0.2l1.3 -0.3l1.3 -0.4l1.3 0.2l1.3 0.2l1.3 -0.5l1.3 -0.3l1.3 0.6l1.3 0.7l1.3 -0.2l1.3 -0.3l1.3 -0.2l1.3 -0.2l1.3 0.2l1.3 0.4l1.3 0.1l1.3 -0.1l1.3 -0.4l1.3 0.1l1.3 0.4l1.3 -0.5l1.3 0.1l1.3 0.6l1.3 0.1l1.3 -0.6l1.3 -0.3l1.3 0.1l1.3 0.3l1.3 0.1l1.3 -0.5l1.3 0l1.3 0.2l1.3 -0.2l1.3 -0.3l1.3 0.3l1.3 -0.1l1.3 0.1l1.3 0.4l1.3 -0.2l1.3 0.2l1.3 0.1l1.3 -0.5l1.3 -0.3l1.3 0.6l1.3 0.2l1.3 -0.3l1.3 0.1l1.3 0.2l1.3 -0.2l1.3 -0.2l1.3 -0.1l1.3 -0.4l1.3 -0.5l1.3 0.6l1.3 0.4l1.3 0l1.3 -0.3l1.3 -0.1l1.3 0.9l1.3 -0.4l1.3 -0.5l1.3 -0.1l1.3 0l1.3 -0.1l1.3 -0.4l1.3 0.1l1.3 0.4l1.3 -0.2l1.3 0l1.3 -0.2l1.3 -0.3l1.3 0l1.3 -0.2l1.3 0.2l1.3 -0.6l1.3 -0.3l1.3 -0.1l0.4 -0.2l0.4 0l0.4 0.3l0.4 -0.2l0.4 -0.6l0.4 -0.1l0.4 -0.3l0.4 0.3l0.4 0.1l0.4 -0.4l0.4 -0.5l0.4 -0.4l0.4 0.2l0.4 -0.4l0.4 -0.2l0.4 -0.1l0.4 -0.6l0.4 -0.2l0.4 -0.1l0.4 -0.5l0.4 -0.3l0.4 -0.6l0.4 -0.5l0.4 -0.6l0.4 -1l0.4 -1.3l0.4 -1.8l0.4 -2.3l0.4 -2l0.4 -2.8l0.4 -4.4l0.4 -4.7l0.4 -5.4l0.4 -6.7l0.4 -7.2l0.4 -8.7l0.4 -9.2l0.4 -9.7l0.4 -9.6l0.4 -8.7l0.4 -7.4l0.4 -5.5l0.4 -3.2l0.4 0l0.4 2.1l0.4 3l0.4 4.9l0.4 4.8l0.4 3.8l0.4 4.4l0.4 3.6l0.4 3l0.4 3.7l0.4 4.2l0.4 4.7l0.4 5l0.4 5.5l0.4 6.1l0.4 6.4l0.4 5.6l0.4 5.4l0.4 5.2l0.4 4.4l0.4 3.3l0.4 3.1l0.4 3.3l0.4 2l0.4 1.3l0.4 1.4l0.4 1.1l0.4 1.2l0.4 1.1l0.4 0.7l0.4 0.4l0.4 0l0.4 0.4l0.4 0.2l0.4 0.3l0.4 0.2l0.4 0.1l0.4 0.6l0.4 0.3l0.4 0.2l0.4 -0.1l0.4 -0.1l0.4 0.1l0.4 0.1l0.4 0.4l1.3 0.5l1.3 0.2l1.3 0l1.3 0.3l1.3 0l1.3 0.3l1.3 0.1l1.3 -0.2l1.3 0.3l1.3 0.4l1.3 0.2l1.3 0.1l1.3 -0.4l1.3 0.1l1.3 -0.2l1.3 -0.2l1.3 0.7l1.3 -0.1l1.3 -0.1l1.3 -0.2l1.3 0l1.3 0.4l1.3 0l1.3 -0.1l1.3 0l1.3 0l1.3 0.3l1.3 -0.1l1.3 0.1l1.3 0.1l1.3 -0.2l1.3 0.1l1.3 0.3l1.3 0l1.3 -0.4l1.3 -0.2l1.3 -0.1l1.3 0.5l1.3 0.1l1.3 -0.5l1.3 0.2l1.3 0.2l1.3 0.1l1.3 0.2l1.3 -0.5l1.3 0l1.3 0.1l1.3 0l1.3 0.1l1.3 -0.1l1.3 -0.1l1.3 0l1.3 -0.1l1.3 0l1.3 0.4l1.3 0l1.3 -0.5l1.3 0.2l1.3 0.3l1.3 -0.1l1.3 0.1l1.3 0l1.3 -0.2l1.3 0l1.3 0.2l1.3 0.1l1.3 -0.1l1.3 -0.4l1.3 0.4l1.3 0.4l1.3 -0.3l1.3 0.3l1.3 -0.2l1.3 -0.8l1.3 0.3l1.3 0.3l1.3 0.1l1.3 0.3l1.3 -0.2l1.3 -0.3l1.3 -0.1l1.3 0.2l1.3 0.1l1.3 -0.1l1.3 0.1l1.3 -0.4l1.3 0l1.3 0.3l1.3 0.3l1.3 -0.1l1.3 -0.2l1.3 0.1l1.3 -0.4l1.3 -0.2l1.3 0.6l1.3 -0.1l1.3 -0.4l1.3 0.5l1.3 -0.4l1.3 -0.5l1.3 0.4l1.3 0.4l1.3 -0.3l1.3 -0.5l1.3 0.2l1.3 -0.1l1.3 0.1l1.3 0.6l1.3 0.3l0.4 -0.3l0.4 -0.1l0.4 -0.4l0.4 -0.1l0.4 0.1l0.4 0l0.4 0l0.4 -0.2l0.4 0.1l0.4 0.5l0.4 0.3l0.4 -0.1l0.4 0l0.4 -0.2l0.4 0.3l0.4 0.2l0.4 0l0.4 -0.1l0.4 -0.3l0.4 -0.4l0.4 0.1l0.4 0.1l0.4 -0.3l0.4 0.2l0.4 0l0.4 0.2l0.4 0.1l0.4 -0.4l0.4 0.3l0.4 0.1l1.3 -0.3l1.3 0.4l1.3 0.1l1.3 -0.1l1.3 0.3l1.3 0.1l1.3 -0.3l1.3 -0.2l1.3 0.1l1.3 -0.1l1.3 -0.2l1.3 0.4l1.3 0.1l1.3 -0.1l1.3 -0.3l1.3 -0.2l1.3 -0.3l1.3 0.3l1.3 0.6l1.3 0l1.3 -0.6l1.3 0l1.3 0.6l1.3 -0.2l1.3 -0.2l1.3 0l1.3 0l1.3 0.1l1.3 -0.1l1.3 -0.3l1.3 0.2l1.3 0.1l1.3 0l1.3 0.2l1.3 -0.1l1.3 -0.1l1.3 0.1l1.3 -0.4l1.3 -0.4l1.3 0.6l1.3 0.2l1.3 0l1.3 0.3l1.3 0l1.3 -0.5l1.3 -0.1l1.3 0.1l1.3 -0.4l1.3 0.3l1.3 0.6l1.3 0l1.3 0.2l1.3 -0.3l1.3 -0.5l1.3 0.2l1.3 0l1.3 -0.1l1.3 0.1l1.3 0.1l1.3 0.2l1.3 -0.2l1.3 -0.2l1.3 0.4l1.3 0l1.3 -0.5l1.3 0.2l1.3 0.2l1.3 0.1l1.3 0.3l1.3 -0.5l1.3 -0.1l1.3 0.2l1.3 -0.1l1.3 0.2l1.3 -0.1l1.3 -0.3l1.3 -0.2l1.3 0l1.3 0.3l1.3 0.1l1.3 -0.3l1.3 -0.1l1.3 -0.3l1.3 0.2l1.3 0.4l1.3 0l1.3 0l1.3 -0.3l1.3 0.4l1.3 0.2l1.3 0.1l1.3 0.1l1.3 -0.6l1.3 -0.2l1.3 0.2l1.3 -0.3l1.3 -0.2l1.3 0.7l1.3 0.4l1.3 -0.4l1.3 -0.1l1.3 0.4l1.3 -0.4l1.3 -0.3l1.3 0.5l1.3 -0.1l1.3 -0.1l1.3 0.2l1.3 -0.4l1.3 0l1.3 0.5l1.3 -0.1l1.3 -0.5l1.3 0l1.3 0.1l1.3 0.1l1.3 0.2l1.3 0l1.3 0.2l1.3 -0.4l1.3 -0.3l1.3 0.1l1.3 -0.2l1.3 -0.2l1.3 0.1l1.3 0.4l1.3 0.2l1.3 0l0.4 -0.7l0.4 -0.3l0.4 0.7l0.4 0l0.4 -0.5l0.4 -0.1l0.4 0.4l0.4 0.3l0.4 -0.1l0.4 -1l0.4 -0.1l0.4 0.3l0.4 0.3l0.4 0l0.4 -0.5l0.4 -0.1l0.4 -0.2l0.4 0.3l0.4 -0.1l0.4 -0.5l0.4 -0.2l0.4 -0.3l0.4 -0.8l0.4 -0.6l0.4 -0.2l0.4 -1l0.4 -1.4l0.4 -1.1l0.4 -1.7l0.4 -1.4l0.4 -1.1l0.4 -2.1l0.4 -2.5l0.4 -1.9l0.4 -2.3l0.4 -2.6l0.4 -2.6l0.4 -2.3l0.4 -2.5l0.4 -2.6l0.4 -2.1l0.4 -1.5l0.4 -1.2l0.4 -1.5l0.4 -1.2l0.4 0l0.4 -0.2l0.4 -0.3l0.4 -0.1l0.4 0.2l0.4 0.9l0.4 1.2l0.4 1.1l0.4 1l0.4 0.7l0.4 1l0.4 1.7l0.4 1.9l0.4 1.2l0.4 1.2l0.4 2l0.4 1.8l0.4 1.5l0.4 1.3l0.4 1.6l0.4 1.7l0.4 1.3l0.4 0.9l0.4 1.6l0.4 1.4l0.4 1l0.4 1.3l0.4 1.3l0.4 0.8l0.4 0.8l0.4 1.1l0.4 0.7l0.4 0.5l0.4 0.5l0.4 0.5l0.4 0.9l0.4 0.2l0.4 0.3l0.4 0.7l0.4 0.3l0.4 0.4l0.4 0l0.4 0l0.4 1l0.4 0.4l1.3 -0.1l1.3 0.5l1.3 0.5l1.3 0.1l1.3 0.2l1.3 0.1l1.3 0l1.3 -0.1l1.3 -0.3l1.3 -0.1l1.3 0.4l1.3 0.1l1.3 -0.1l1.3 0l1.3 0.2l1.3 0.1l1.3 -0.6l1.3 -0.3l1.3 0.2l1.3 0.4l1.3 0.5l1.3 -0.3l1.3 -0.3l1.3 0.2l1.3 0l1.3 -0.2l1.3 -0.1l1.3 0.5l1.3 0l1.3 -0.5l1.3 0.3l1.3 0.2l1.3 -0.1l1.3 -0.2l1.3 -0.2l1.3 0.3l1.3 0.1l1.3 0l1.3 0.1l1.3 -0.1l1.3 0l1.3 -0.1l1.3 0.1l1.3 0.2l1.3 0.2l1.3 -0.1l1.3 -0.2l1.3 -0.1l1.3 -0.3l1.3 0.1l1.3 0.1l1.3 -0.5l1.3 -0.1l1.3 0.4l1.3 0l1.3 -0.3l1.3 0.6l1.3 0.1l1.3 -0.5l1.3 0.3l1.3 0.3l1.3 -0.3l1.3 -0.2l1.3 -0.1l1.3 0l1.3 0.3l1.3 0.3l1.3 -0.1l1.3 0.4l1.3 0l1.3 -0.7l1.3 0.1l1.3 -0.2l1.3 -0.2l1.3 0.5l1.3 0.2l1.3 -0.1l1.3 0l1.3 -0.3l1.3 -0.1l1.3 0.4l1.3 -0.4l1.3 -0.1l1.3 0.2l1.3 0l1.3 0l1.3 -0.2l1.3 0l1.3 0.3l1.3 -0.1l1.3 -0.1l1.3 0l1.3 0.3l1.3 0.2l1.3 -0.4l1.3 -0.1l1.3 0.2l1.3 0l1.3 0l1.3 -0.2l1.3 0l1.3 0.3l1.3 0l1.3 -0.1l1.3 0.2l1.3 0l1.3 0.2l1.3 -0.2l1.3 -0.3l1.3 -0.1l1.3 -0.1l1.3 0.4l1.3 0l1.3 0.2l1.3 0.2l1.3 -0.4l1.3 -0.2l1.3 -0.2l1.3 0l1.3 0l1.3 0.2l1.3 0l1.3 0.5l1.3 0.2l1.3 -0.6l1.2 0.1"/>
<path d="M888.2 1082.7l1.3 -0.4l1.3 0.3l1.3 0.5l1.3 -0.1l1.3 -0.2l1.3 0l1.3 0.4l1.3 -0.1l1.3 -0.2l1.3 0.2l1.3 -0.1l1.3 -0.2l1.3 -0.1l1.3 -0.1l1.3 0.2l1.3 0.2l1.3 -0.2l1.3 -0.1l1.3 -0.1l1.3 -0.1l1.3 0.1l1.3 0.1l1.3 0.1l1.3 -0.1l1.3 0.2l1.3 0l1.3 -0.3l1.3 0.2l1.3 0l1.3 -0.3l1.3 -0.2l1.3 0l1.3 0.2l1.3 0.4l1.3 0.5l1.3 0.3l1.3 -0.4l1.3 -0.7l1.3 -0.5l1.3 0.6l1.3 0.1l1.3 -0.6l1.3 0.1l1.3 0.4l1.3 0.2l1.3 -0.5l1.3 -0.1l1.3 0.3l1.3 0.2l1.3 0.1l1.3 -0.5l1.3 0l1.3 0.5l1.3 0l1.3 -0.2l1.3 0.1l1.3 -0.2l1.3 0.1l1.3 0.1l1.3 -0.4l1.3 0.2l1.3 0.4l1.3 -0.4l1.3 -0.2l1.3 0.4l1.3 -0.1l1.3 0.2l1.3 0.4l1.3 -0.3l1.3 -0.2l1.3 0l1.3 -0.1l1.3 0l1.3 0l1.3 -0.2l1.3 -0.1l1.3 0.1l1.3 0.4l1.3 -0.2l1.3 -0.5l1.3 0.2l1.3 0.3l1.3 0.1l1.3 -0.4l1.3 0.1l1.3 0.6l1.3 -0.5l1.3 -0.2l1.3 0.4l1.3 0.4l1.3 -0.2l1.3 -0.3l1.3 0.1l1.3 0.1l1.3 0.1l1.3 -0.1l1.3 -0.6l1.3 0l1.3 0l1.3 -0.4l1.3 0.8l1.3 0.5l1.3 -0.1l1.3 -0.3l1.3 0l1.3 0.2l1.3 -0.3l1.3 -0.1l1.3 -0.5l1.3 0.1l1.3 0.4l1.3 -0.1l1.3 0l1.3 0.2l1.3 -0.2l1.3 -0.1l1.3 0l1.3 0l1.3 0.2l1.3 0.1l1.3 -0.4l1.3 0l1.3 0.2l1.3 -0.2l1.3 0.2l1.3 0.1l1.3 0l1.3 -0.2l1.3 -0.4l1.3 0.1l1.3 -0.1l1.3 0l1.3 0.3l1.3 -0.2l1.3 -0.3l1.3 0.3l1.3 0l1.3 -0.4l1.3 0.1l1.3 -0.2l1.3 -0.1l1.3 -0.3l1.3 -0.8l1.3 0l1.3 0.2l0.4 0.3l0.4 -0.2l0.4 -0.6l0.4 -0.1l0.4 0l0.4 -0.2l0.4 -0.1l0.4 -0.2l0.4 -0.3l0.4 0l0.4 0.2l0.4 -0.4l0.4 -0.3l0.4 -0.1l0.4 -0.4l0.4 -0.4l0.4 -0.2l0.4 -0.1l0.4 0l0.4 -0.2l0.4 -0.3l0.4 -0.6l0.4 -0.8l0.4 -0.5l0.4 -0.6l0.4 -0.8l0.4 -1l0.4 -1.5l0.4 -1.7l0.4 -1.7l0.4 -2.6l0.4 -3.2l0.4 -4.2l0.4 -5.3l0.4 -6.2l0.4 -6.7l0.4 -8.1l0.4 -8.5l0.4 -9l0.4 -10l0.4 -9.9l0.4 -8.9l0.4 -7.3l0.4 -4.7l0.4 -1.5l0.4 0l0.4 2.3l0.4 4l0.4 4.8l0.4 4.9l0.4 3.8l0.4 3.8l0.4 4.2l0.4 3.8l0.4 3.4l0.4 4.2l0.4 4.9l0.4 5.1l0.4 5.9l0.4 5.8l0.4 5.9l0.4 6.1l0.4 5.5l0.4 4.5l0.4 4.6l0.4 3.7l0.4 2.5l0.4 2.8l0.4 2.3l0.4 1.6l0.4 1.5l0.4 1.1l0.4 0.4l0.4 0.8l0.4 0.9l0.4 0.4l0.4 0.8l0.4 0.3l0.4 0.2l0.4 0.5l0.4 0.4l0.4 0.3l0.4 -0.3l0.4 0l0.4 0.5l0.4 -0.5l0.4 -0.2l0.4 0.5l0.4 0.6l0.4 0.6l1.3 -0.4l1.3 0.1l1.3 0.7l1.3 0.2l1.3 0l1.3 0l1.3 0.3l1.3 0l1.3 0l1.3 0.7l1.3 -0.3l1.3 -0.4l1.3 0.8l1.3 0l1.3 -0.6l1.3 0.1l1.3 0.3l1.3 -0.3l1.3 -0.2l1.3 0l1.3 0.2l1.3 0.7l1.3 0.3l1.3 -0.6l1.3 -0.3l1.3 -0.2l1.3 0l1.3 0.4l1.3 0.1l1.3 0.3l1.3 0l1.3 -0.2l1.3 0l1.3 0l1.3 0.4l1.3 0l1.3 -0.3l1.3 -0.1l1.3 -0.1l1.3 0l1.3 0.1l1.3 0.1l1.3 0.1l1.3 -0.3l1.3 0.1l1.3 -0.2l1.3 0l1.3 0.3l1.3 -0.2l1.3 0.2l1.3 0.4l1.3 -0.2l1.3 -0.3l1.3 -0.1l1.3 0.2l1.3 -0.2l1.3 -0.3l1.3 0l1.3 0l1.3 0.4l1.3 0.3l1.3 0.1l1.3 -0.2l1.3 0.1l1.3 -0.2l1.3 0l1.3 0.5l1.3 -0.2l1.3 0l1.3 -0.1l1.3 -0.6l1.3 0.2l1.3 0.6l1.3 -0.5l1.3 -0.1l1.3 0.2l1.3 -0.2l1.3 0.2l1.3 0.2l1.3 0l1.3 0.2l1.3 0l1.3 -0.2l1.3 0l1.3 0.2l1.3 -0.1l1.3 -0.1l1.3 -0.2l1.3 0.2l1.3 0.2l1.3 -0.4l1.3 -0.1l1.3 0.3l1.3 0.1l1.3 -0.3l1.3 0.1l1.3 -0.2l1.3 -0.3l1.3 0.1l1.3 0l1.3 0.2l1.3 0.4l1.3 -0.1l1.3 -0.4l1.3 -0.1l1.3 0.1l1.3 0.1l1.3 0.2l1.3 -0.2l1.3 -0.2l0.4 0.3l0.4 0.3l0.4 0.4l0.4 -0.3l0.4 -0.4l0.4 0.1l0.4 -0.4l0.4 0.3l0.4 0.3l0.4 -0.4l0.4 -0.2l0.4 0l0.4 0.1l0.4 0.5l0.4 0.2l0.4 -0.4l0.4 -0.3l0.4 0l0.4 0.1l0.4 -0.1l0.4 -0.3l0.4 0.1l0.4 0.5l0.4 0.4l0.4 -0.2l0.4 -0.3l0.4 0.2l0.4 -0.1l1.3 0l1.3 -0.2l1.3 -0.4l1.3 0.2l1.3 0.2l1.3 0.1l1.3 0.1l1.3 0l1.3 0.2l1.3 0.2l1.3 0l1.3 -0.4l1.3 0l1.3 0.2l1.3 -0.1l1.3 -0.1l1.3 0l1.3 0.1l1.3 -0.4l1.3 -0.3l1.3 0l1.3 0.4l1.3 0.4l1.3 -0.2l1.3 0l1.3 0.1l1.3 0l1.3 0.1l1.3 -0.2l1.3 0.1l1.3 0l1.3 -0.1l1.3 0.2l1.3 -0.1l1.3 -0.2l1.3 0l1.3 -0.1l1.3 0.1l1.3 -0.2l1.3 -0.4l1.3 0.6l1.3 0.2l1.3 -0.2l1.3 0l1.3 -0.1l1.3 0.6l1.3 -0.3l1.3 -0.3l1.3 0.4l1.3 0l1.3 -0.1l1.3 -0.1l1.3 0.1l1.3 -0.2l1.3 0.1l1.3 -0.1l1.3 -0.5l1.3 0.2l1.3 0.3l1.3 0.2l1.3 0.1l1.3 -0.6l1.3 -0.2l1.3 0.5l1.3 -0.1l1.3 -0.2l1.3 0.2l1.3 0.5l1.3 -0.3l1.3 0l1.3 0.4l1.3 -0.2l1.3 -0.4l1.3 0.2l1.3 0.3l1.3 0l1.3 -0.1l1.3 -0.2l1.3 0l1.3 -0.1l1.3 -0.3l1.3 0l1.3 -0.2l1.3 0.5l1.3 0.5l1.3 -0.7l1.3 0l1.3 0.2l1.3 0.1l1.3 0.4l1.3 -0.4l1.3 -0.1l1.3 0.4l1.3 0.1l1.3 -0.1l1.3 -0.4l1.3 -0.1l1.3 -0.1l1.3 0l1.3 0l1.3 0.1l1.3 0l1.3 -0.6l1.3 0l1.3 0.4l1.3 0.4l1.3 0l1.3 0l1.3 -0.1l1.3 0l1.3 0l1.3 -0.3l1.3 0.1l1.3 -0.1l1.3 -0.1l1.3 0.2l1.3 0.2l1.3 0l1.3 -0.1l1.3 -0.2l1.3 -0.2l1.3 0.1l1.3 -0.2l1.3 0.3l1.3 -0.1l1.3 -0.4l1.3 0.3l1.3 -0.2l0.4 0.1l0.4 0.3l0.4 0.1l0.4 -0.4l0.4 -0.1l0.4 0.4l0.4 0.1l0.4 -0.2l0.4 0l0.4 -0.4l0.4 -0.2l0.4 0.4l0.4 -0.6l0.4 -0.2l0.4 0.3l0.4 -0.5l0.4 -0.7l0.4 0.1l0.4 0.1l0.4 -0.7l0.4 -0.5l0.4 -0.4l0.4 -1.1l0.4 -1.1l0.4 -0.8l0.4 -1.2l0.4 -1.9l0.4 -1.9l0.4 -1.9l0.4 -2l0.4 -1.9l0.4 -2.4l0.4 -2.6l0.4 -2.5l0.4 -2.3l0.4 -2.7l0.4 -2.1l0.4 -2.4l0.4 -2l0.4 -1.6l0.4 -1.9l0.4 -1.5l0.4 -0.8l0.4 0l0.4 0l0.4 0l0.4 0.2l0.4 0.5l0.4 1.1l0.4 1.4l0.4 0.9l0.4 0.6l0.4 1.4l0.4 1.7l0.4 1.6l0.4 1.3l0.4 0.9l0.4 1.2l0.4 2.6l0.4 2.2l0.4 1.3l0.4 1.4l0.4 1.7l0.4 1.5l0.4 1.3l0.4 1.2l0.4 1.3l0.4 1.7l0.4 1.1l0.4 1l0.4 1.2l0.4 0.7l0.4 0.8l0.4 0.8l0.4 0.7l0.4 0.3l0.4 0.6l0.4 1l0.4 1l0.4 0.6l0.4 -0.3l0.4 0.2l0.4 0.5l0.4 0.2l0.4 0.6l0.4 0.4l0.4 0l1.3 1l1.3 0.9l1.3 -0.1l1.3 -0.4l1.3 -0.3l1.3 0.3l1.3 0.4l1.3 -0.1l1.3 0.3l1.3 -0.3l1.3 0l1.3 0.3l1.3 -0.1l1.3 0.2l1.3 0.1l1.3 -0.3l1.3 0.2l1.3 -0.2l1.3 -0.3l1.3 0l1.3 0.2l1.3 -0.1l1.3 -0.2l1.3 0l1.3 0.7l1.3 -0.1l1.3 -0.5l1.3 0.3l1.3 -0.3l1.3 -0.3l1.3 0.5l1.3 0l1.3 -0.7l1.3 0.3l1.3 0.8l1.3 0.2l1.3 0l1.3 -0.3l1.3 0l1.3 0l1.3 -0.3l1.3 -0.3l1.3 0.5l1.3 0.7l1.3 -0.5l1.3 -0.4l1.3 0.2l1.3 -0.5l1.3 0.3l1.3 0.2l1.3 -0.2l1.3 0.3l1.3 -0.3l1.3 -0.1l1.3 0.1l1.3 0l1.3 0.2l1.3 0.1l1.3 -0.3l1.3 -0.1l1.3 -0.1l1.3 0.2l1.3 0.4l1.3 -0.2l1.3 -0.2l1.3 0.1l1.3 0.2l1.3 0.3l1.3 -0.3l1.3 -0.1l1.3 0l1.3 -0.1l1.3 0.1l1.3 -0.1l1.3 0l1.3 0.4l1.3 0l1.3 -0.4l1.3 0l1.3 0.4l1.3 0l1.3 0l1.3 -0.4l1.3 -0.1l1.3 0.3l1.3 -0.1l1.3 0l1.3 0l1.3 -0.4l1.3 0l1.3 0.4l1.3 -0.2l1.3 -0.2l1.3 0.2l1.3 0.3l1.3 -0.1l1.3 -0.2l1.3 0.4l1.3 0.3l1.3 -0.2l1.3 0l1.3 -0.3l1.3 0l1.3 0.2l1.3 -0.3l1.3 -0.1l1.3 0.2l1.3 -0.2l1.3 0l1.3 0.2l1.3 0.1l1.3 -0.2l1.3 0.2l1.3 0.6l1.3 0l1.3 -0.5l1.3 -0.3l1.3 0l1.3 0.1l1.3 0l1.3 0.2l1.3 0l1.3 -0.3l1.3 0l1.3 0.1l1.3 0.1l1.1 -0.1"/>
</g>
<rect x="888.2" y="594.6" width="744.8" height="491.6" fill="none" stroke="#000" stroke-width="1.6"/>
<path d="M888.2 1078.2V1095.2M925.4 1080.2V1086.2M962.7 1080.2V1086.2M999.9 1080.2V1086.2M1037.2 1080.2V1086.2M1074.4 1078.2V1095.2M1111.6 1080.2V1086.2M1148.9 1080.2V1086.2M1186.1 1080.2V1086.2M1223.4 1080.2V1086.2M1260.6 1078.2V1095.2M1297.8 1080.2V1086.2M1335.1 1080.2V1086.2M1372.3 1080.2V1086.2M1409.6 1080.2V1086.2M1446.8 1078.2V1095.2M1484.0 1080.2V1086.2M1521.3 1080.2V1086.2M1558.5 1080.2V1086.2M1595.8 1080.2V1086.2M1633.0 1078.2V1095.2" stroke="#000" stroke-width="1.1" fill="none"/>
<text x="888.2" y="1129.6" font-size="28.5" stroke="#000" font-weight="bold" text-anchor="middle">50</text>
<text x="1074.4" y="1129.6" font-size="28.5" stroke="#000" font-weight="bold" text-anchor="middle">55</text>
<text x="1260.6" y="1129.6" font-size="28.5" stroke="#000" font-weight="bold" text-anchor="middle">60</text>
<text x="1446.8" y="1129.6" font-size="28.5" stroke="#000" font-weight="bold" text-anchor="middle">65</text>
<text x="1633.0" y="1129.6" font-size="28.5" stroke="#000" font-weight="bold" text-anchor="middle">70</text>
<text x="1260.4" y="1152.8" font-size="29" stroke="#000" font-weight="bold" text-anchor="middle">2-theta (degree)</text>
<text transform="translate(865.1 844.1) rotate(-90)" font-size="29" stroke="#000" font-weight="bold" text-anchor="middle">Intensity (a.u.)</text>
<text x="1594.5" y="802.4" font-size="28.5" stroke="#000" text-anchor="end">133 K</text>
<text x="1594.5" y="841.4" font-size="28.5" stroke="#000" text-anchor="end">153 K</text>
<text x="1594.5" y="880.5" font-size="28.5" stroke="#000" text-anchor="end">173 K</text>
<text x="1594.5" y="919.5" font-size="28.5" stroke="#000" text-anchor="end">193 K</text>
<text x="1594.5" y="958.5" font-size="28.5" stroke="#000" text-anchor="end">213 K</text>
<text x="1594.5" y="997.5" font-size="28.5" stroke="#000" text-anchor="end">233 K</text>
<text x="1594.5" y="1036.6" font-size="28.5" stroke="#000" text-anchor="end">253 K</text>
<text x="1594.5" y="1075.6" font-size="28.5" stroke="#000" text-anchor="end">290 K</text>
<rect x="1284" y="600.2" width="343.4000000000001" height="79.39999999999998" fill="#fff" stroke="#000" stroke-width="1.25"/>
<text x="1292.7" y="633" font-size="29.1" fill="#ff0000" stroke="#ff0000">Hydrogen charged at 353 K</text>
<text x="1292.7" y="667.5" font-size="29.1" fill="#ff0000" stroke="#ff0000">Fe K<tspan font-size="18.9" dy="6.6">α</tspan><tspan dy="-6.6" dx="1.2"> radiation</tspan></text>
<text transform="translate(1104.1 687.8) rotate(-90)" font-size="22.7" stroke="#000" textLength="77.2" lengthAdjust="spacingAndGlyphs">(111) fcc</text>
<text transform="translate(1267.2 798.4) rotate(-90)" font-size="22.7" stroke="#000" textLength="92.1" lengthAdjust="spacingAndGlyphs">(1011)hcp</text>
<path d="M1249.8 759.2V767.6" stroke="#000" stroke-width="1.1"/>
<text transform="translate(1460.8 758.9) rotate(-90)" font-size="22.7" stroke="#000" textLength="73.4" lengthAdjust="spacingAndGlyphs">(200)fcc</text>
</g>
</svg></body></html>
